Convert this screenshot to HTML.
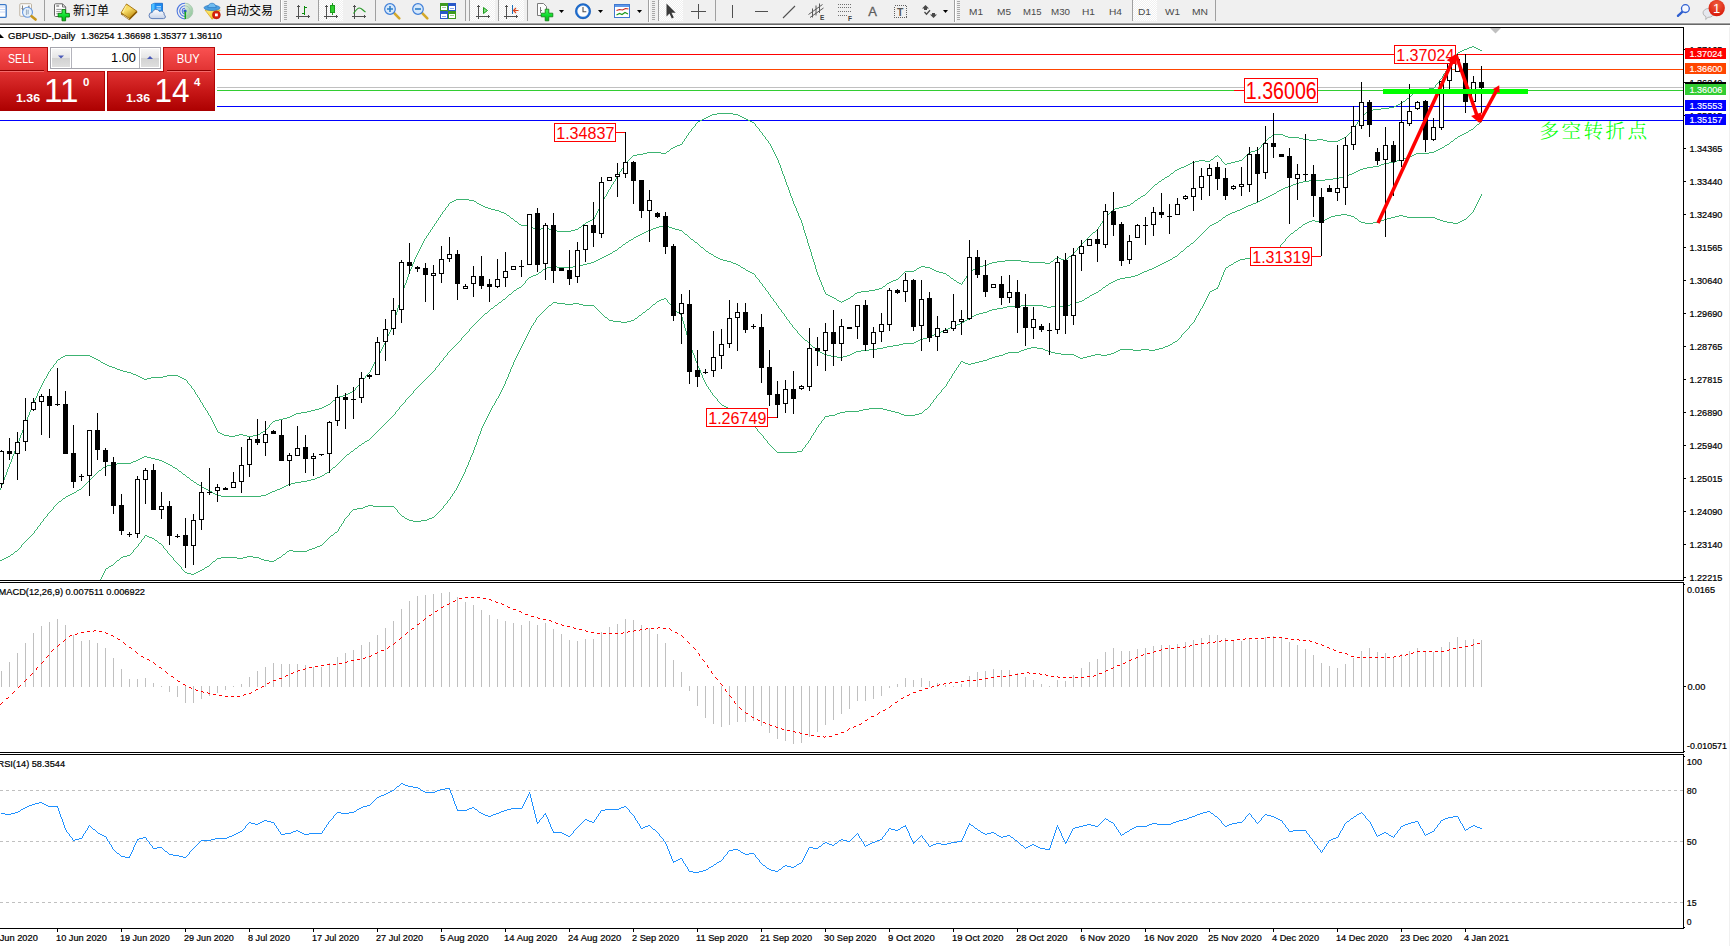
<!DOCTYPE html>
<html lang="zh"><head><meta charset="utf-8"><title>GBPUSD-,Daily</title>
<style>
html,body{margin:0;padding:0;background:#fff;}
body{width:1730px;height:946px;position:relative;overflow:hidden;font-family:"Liberation Sans","Noto Sans CJK SC",sans-serif;}
svg{display:block}
svg text{white-space:pre}
</style></head><body>
<svg width="1730" height="946" viewBox="0 0 1730 946" style="position:absolute;left:0;top:0" shape-rendering="crispEdges" font-family='"Liberation Sans", sans-serif'>
<defs><clipPath id="cm"><rect x="0" y="28" width="1683" height="552"/></clipPath><clipPath id="c2"><rect x="0" y="583" width="1683" height="169"/></clipPath><clipPath id="c3"><rect x="0" y="755" width="1683" height="173"/></clipPath><linearGradient id="gs1" x1="0" y1="0" x2="0" y2="1"><stop offset="0" stop-color="#f65252"/><stop offset="1" stop-color="#d82626"/></linearGradient><linearGradient id="gs2" x1="0" y1="0" x2="0" y2="1"><stop offset="0" stop-color="#dc2c2c"/><stop offset="0.55" stop-color="#c81818"/><stop offset="1" stop-color="#ac0000"/></linearGradient><linearGradient id="gbtn" x1="0" y1="0" x2="0" y2="1"><stop offset="0" stop-color="#f4f4f4"/><stop offset="0.5" stop-color="#e2e2e2"/><stop offset="0.5" stop-color="#cfcfcf"/><stop offset="1" stop-color="#dcdcdc"/></linearGradient></defs>
<g clip-path="url(#cm)">
<rect x="0" y="87" width="1683" height="1" fill="#c0c0c0"/>
<rect x="0" y="54" width="1683" height="1" fill="#ff0000"/>
<rect x="0" y="69" width="1683" height="1" fill="#ff4500"/>
<rect x="0" y="90" width="1683" height="1" fill="#32cd32"/>
<rect x="0" y="106" width="1683" height="1" fill="#0000ff"/>
<rect x="0" y="120" width="1683" height="1" fill="#0000ff"/>
<path d="M58 359h2v1h-2zM61 357h2v1h-2zM63 356h2v1h-2zM65 355h25v1h-25zM90 356h2v1h-2zM92 357h2v1h-2zM94 358h2v1h-2zM96 359h2v1h-2zM98 360h2v1h-2zM101 362h2v1h-2zM103 363h2v1h-2zM105 364h2v1h-2zM107 365h2v1h-2zM109 366h3v1h-3zM112 367h3v1h-3zM115 368h2v1h-2zM117 369h3v1h-3zM120 370h3v1h-3zM123 371h4v1h-4zM127 372h4v1h-4zM131 373h2v1h-2zM133 374h3v1h-3zM136 375h2v1h-2zM138 376h2v1h-2zM140 377h2v1h-2zM142 378h2v1h-2zM144 379h3v1h-3zM147 378h4v1h-4zM151 377h12v1h-12zM163 376h4v1h-4zM167 375h11v1h-11zM178 376h2v1h-2zM180 377h2v1h-2zM182 378h2v1h-2zM184 379h2v1h-2zM218 432h2v1h-2zM220 433h2v1h-2zM222 434h2v1h-2zM224 435h5v1h-5zM229 436h6v1h-6zM235 435h4v1h-4zM239 434h4v1h-4zM243 435h4v1h-4zM247 436h6v1h-6zM253 435h5v1h-5zM258 434h2v1h-2zM261 432h2v1h-2zM263 431h2v1h-2zM273 421h2v1h-2zM275 420h4v1h-4zM279 419h4v1h-4zM283 418h4v1h-4zM287 417h3v1h-3zM290 416h2v1h-2zM292 415h2v1h-2zM294 414h2v1h-2zM296 413h5v1h-5zM301 412h6v1h-6zM307 411h4v1h-4zM311 410h4v1h-4zM315 409h4v1h-4zM319 408h3v1h-3zM322 407h2v1h-2zM324 406h2v1h-2zM326 405h2v1h-2zM328 404h2v1h-2zM333 400h2v1h-2zM337 397h2v1h-2zM339 396h4v1h-4zM343 395h3v1h-3zM346 394h2v1h-2zM348 393h2v1h-2zM350 392h2v1h-2zM352 391h2v1h-2zM450 202h2v1h-2zM452 201h2v1h-2zM454 200h2v1h-2zM456 199h13v1h-13zM469 200h5v1h-5zM474 201h2v1h-2zM477 203h2v1h-2zM479 204h2v1h-2zM481 205h2v1h-2zM483 206h2v1h-2zM485 207h3v1h-3zM488 208h3v1h-3zM491 209h4v1h-4zM495 210h4v1h-4zM499 211h2v1h-2zM501 212h3v1h-3zM504 213h2v1h-2zM507 215h2v1h-2zM511 218h2v1h-2zM515 221h2v1h-2zM519 224h2v1h-2zM521 225h9v1h-9zM530 226h2v1h-2zM533 228h2v1h-2zM535 229h2v1h-2zM537 230h2v1h-2zM539 229h2v1h-2zM541 228h3v1h-3zM544 227h3v1h-3zM547 228h2v1h-2zM549 229h3v1h-3zM552 230h5v1h-5zM557 231h14v1h-14zM571 230h4v1h-4zM575 229h3v1h-3zM579 227h2v1h-2zM583 224h2v1h-2zM586 222h2v1h-2zM588 221h2v1h-2zM590 220h2v1h-2zM592 219h2v1h-2zM633 155h4v1h-4zM637 154h6v1h-6zM643 153h4v1h-4zM647 152h14v1h-14zM661 153h5v1h-5zM667 151h2v1h-2zM671 148h2v1h-2zM673 147h2v1h-2zM675 146h2v1h-2zM677 145h3v1h-3zM680 144h2v1h-2zM698 121h2v1h-2zM700 120h2v1h-2zM702 119h2v1h-2zM704 118h2v1h-2zM706 117h2v1h-2zM708 116h2v1h-2zM710 115h2v1h-2zM712 114h5v1h-5zM717 113h16v1h-16zM733 114h5v1h-5zM738 115h2v1h-2zM740 116h2v1h-2zM742 117h2v1h-2zM744 118h2v1h-2zM746 119h2v1h-2zM748 120h2v1h-2zM750 121h2v1h-2zM752 122h2v1h-2zM826 294h2v1h-2zM828 295h2v1h-2zM830 296h2v1h-2zM832 297h2v1h-2zM834 298h2v1h-2zM837 300h2v1h-2zM839 301h2v1h-2zM842 301h2v1h-2zM844 300h2v1h-2zM846 299h2v1h-2zM848 298h2v1h-2zM851 296h2v1h-2zM855 293h2v1h-2zM857 292h4v1h-4zM861 291h8v1h-8zM869 290h6v1h-6zM875 289h4v1h-4zM879 288h3v1h-3zM883 286h2v1h-2zM887 283h2v1h-2zM889 282h2v1h-2zM891 281h2v1h-2zM893 280h3v1h-3zM896 279h2v1h-2zM905 271h9v1h-9zM914 270h2v1h-2zM917 268h2v1h-2zM919 267h2v1h-2zM921 266h4v1h-4zM925 267h5v1h-5zM930 268h2v1h-2zM932 269h2v1h-2zM934 270h2v1h-2zM936 271h3v1h-3zM939 272h4v1h-4zM943 273h3v1h-3zM947 275h2v1h-2zM951 278h2v1h-2zM954 280h2v1h-2zM957 282h2v1h-2zM959 283h2v1h-2zM970 271h2v1h-2zM973 269h2v1h-2zM975 268h2v1h-2zM977 267h2v1h-2zM979 266h4v1h-4zM983 265h4v1h-4zM987 264h2v1h-2zM989 263h3v1h-3zM992 262h5v1h-5zM997 261h8v1h-8zM1005 260h16v1h-16zM1021 261h8v1h-8zM1029 262h16v1h-16zM1045 263h5v1h-5zM1051 261h2v1h-2zM1055 258h2v1h-2zM1057 257h2v1h-2zM1059 258h2v1h-2zM1061 259h3v1h-3zM1064 260h2v1h-2zM1069 256h2v1h-2zM1093 232h2v1h-2zM1113 209h2v1h-2zM1115 208h4v1h-4zM1119 207h4v1h-4zM1123 206h4v1h-4zM1127 205h3v1h-3zM1131 203h2v1h-2zM1135 200h2v1h-2zM1138 198h2v1h-2zM1141 196h2v1h-2zM1143 195h2v1h-2zM1155 184h2v1h-2zM1159 181h2v1h-2zM1162 179h2v1h-2zM1165 177h2v1h-2zM1167 176h2v1h-2zM1171 173h2v1h-2zM1175 170h2v1h-2zM1177 169h2v1h-2zM1179 168h2v1h-2zM1181 167h3v1h-3zM1184 166h2v1h-2zM1186 165h2v1h-2zM1188 164h2v1h-2zM1190 163h2v1h-2zM1192 162h3v1h-3zM1195 161h4v1h-4zM1199 160h6v1h-6zM1205 161h5v1h-5zM1211 159h2v1h-2zM1215 156h2v1h-2zM1225 164h2v1h-2zM1227 163h4v1h-4zM1231 162h4v1h-4zM1235 161h4v1h-4zM1239 160h3v1h-3zM1249 152h2v1h-2zM1251 151h4v1h-4zM1255 150h3v1h-3zM1269 137h2v1h-2zM1273 134h10v1h-10zM1283 135h2v1h-2zM1285 136h3v1h-3zM1288 137h11v1h-11zM1299 138h4v1h-4zM1303 139h6v1h-6zM1309 140h8v1h-8zM1317 139h6v1h-6zM1323 140h4v1h-4zM1327 141h11v1h-11zM1338 140h2v1h-2zM1340 139h2v1h-2zM1342 138h2v1h-2zM1344 137h2v1h-2zM1363 114h2v1h-2zM1367 111h2v1h-2zM1369 110h4v1h-4zM1373 109h8v1h-8zM1381 108h8v1h-8zM1389 107h5v1h-5zM1394 106h2v1h-2zM1396 105h2v1h-2zM1398 104h2v1h-2zM1400 103h2v1h-2zM1403 101h2v1h-2zM1407 98h2v1h-2zM1417 89h12v1h-12zM1429 88h5v1h-5zM1458 52h2v1h-2zM1460 51h2v1h-2zM1462 50h2v1h-2zM1464 49h3v1h-3zM1467 48h2v1h-2zM1469 47h3v1h-3zM1472 46h2v1h-2zM1474 47h2v1h-2zM1476 48h2v1h-2zM1478 49h2v1h-2zM1480 50h2v1h-2zM0 488h1v2h-1zM1 485h1v3h-1zM2 483h1v2h-1zM3 480h1v3h-1zM4 477h1v3h-1zM5 475h1v2h-1zM6 472h1v3h-1zM7 469h1v3h-1zM8 467h1v2h-1zM9 464h1v3h-1zM10 462h1v2h-1zM11 459h1v3h-1zM12 456h1v3h-1zM13 454h1v2h-1zM14 451h1v3h-1zM15 448h1v3h-1zM16 446h1v2h-1zM17 443h1v3h-1zM18 441h1v2h-1zM19 438h1v3h-1zM20 435h1v3h-1zM21 433h1v2h-1zM22 430h1v3h-1zM23 427h1v3h-1zM24 425h1v2h-1zM25 422h1v3h-1zM26 420h1v2h-1zM27 417h1v3h-1zM28 415h1v2h-1zM29 412h1v3h-1zM30 410h1v2h-1zM31 407h1v3h-1zM32 405h1v2h-1zM33 402h1v3h-1zM34 400h1v2h-1zM35 398h1v2h-1zM36 396h1v2h-1zM37 393h1v3h-1zM38 391h1v2h-1zM39 389h1v2h-1zM40 387h1v2h-1zM41 385h1v2h-1zM42 383h1v2h-1zM43 381h1v2h-1zM44 379h1v2h-1zM45 378h1v1h-1zM46 376h1v2h-1zM47 374h1v2h-1zM48 372h1v2h-1zM49 371h1v1h-1zM50 369h1v2h-1zM51 368h1v1h-1zM52 367h1v1h-1zM53 365h1v2h-1zM54 364h1v1h-1zM55 363h1v1h-1zM56 361h1v2h-1zM57 360h1v1h-1zM60 358h1v1h-1zM100 361h1v1h-1zM186 380h1v1h-1zM187 381h1v2h-1zM188 383h1v1h-1zM189 384h1v1h-1zM190 385h1v1h-1zM191 386h1v2h-1zM192 388h1v1h-1zM193 389h1v1h-1zM194 390h1v2h-1zM195 392h1v2h-1zM196 394h1v1h-1zM197 395h1v2h-1zM198 397h1v1h-1zM199 398h1v2h-1zM200 400h1v2h-1zM201 402h1v1h-1zM202 403h1v2h-1zM203 405h1v2h-1zM204 407h1v1h-1zM205 408h1v2h-1zM206 410h1v1h-1zM207 411h1v2h-1zM208 413h1v2h-1zM209 415h1v1h-1zM210 416h1v2h-1zM211 418h1v2h-1zM212 420h1v2h-1zM213 422h1v2h-1zM214 424h1v2h-1zM215 426h1v2h-1zM216 428h1v2h-1zM217 430h1v2h-1zM260 433h1v1h-1zM265 430h1v1h-1zM266 429h1v1h-1zM267 428h1v1h-1zM268 427h1v1h-1zM269 425h1v2h-1zM270 424h1v1h-1zM271 423h1v1h-1zM272 422h1v1h-1zM330 403h1v1h-1zM331 402h1v1h-1zM332 401h1v1h-1zM335 399h1v1h-1zM336 398h1v1h-1zM354 390h1v1h-1zM355 388h1v2h-1zM356 387h1v1h-1zM357 386h1v1h-1zM358 385h1v1h-1zM359 383h1v2h-1zM360 382h1v1h-1zM361 381h1v1h-1zM362 380h1v1h-1zM363 379h1v1h-1zM364 378h1v1h-1zM365 376h1v2h-1zM366 375h1v1h-1zM367 374h1v1h-1zM368 373h1v1h-1zM369 372h1v1h-1zM370 370h1v2h-1zM371 368h1v2h-1zM372 366h1v2h-1zM373 364h1v2h-1zM374 362h1v2h-1zM375 360h1v2h-1zM376 358h1v2h-1zM377 357h1v1h-1zM378 355h1v2h-1zM379 353h1v2h-1zM380 351h1v2h-1zM381 349h1v2h-1zM382 347h1v2h-1zM383 345h1v2h-1zM384 343h1v2h-1zM385 340h1v3h-1zM386 338h1v2h-1zM387 336h1v2h-1zM388 334h1v2h-1zM389 332h1v2h-1zM390 330h1v2h-1zM391 328h1v2h-1zM392 326h1v2h-1zM393 323h1v3h-1zM394 319h1v4h-1zM395 315h1v4h-1zM396 312h1v3h-1zM397 308h1v4h-1zM398 305h1v3h-1zM399 301h1v4h-1zM400 297h1v4h-1zM401 294h1v3h-1zM402 291h1v3h-1zM403 288h1v3h-1zM404 285h1v3h-1zM405 283h1v2h-1zM406 280h1v3h-1zM407 277h1v3h-1zM408 274h1v3h-1zM409 271h1v3h-1zM410 269h1v2h-1zM411 267h1v2h-1zM412 264h1v3h-1zM413 262h1v2h-1zM414 259h1v3h-1zM415 257h1v2h-1zM416 255h1v2h-1zM417 253h1v2h-1zM418 251h1v2h-1zM419 249h1v2h-1zM420 247h1v2h-1zM421 245h1v2h-1zM422 243h1v2h-1zM423 241h1v2h-1zM424 239h1v2h-1zM425 238h1v1h-1zM426 236h1v2h-1zM427 235h1v1h-1zM428 233h1v2h-1zM429 232h1v1h-1zM430 230h1v2h-1zM431 229h1v1h-1zM432 227h1v2h-1zM433 226h1v1h-1zM434 224h1v2h-1zM435 223h1v1h-1zM436 221h1v2h-1zM437 220h1v1h-1zM438 218h1v2h-1zM439 217h1v1h-1zM440 215h1v2h-1zM441 214h1v1h-1zM442 212h1v2h-1zM443 211h1v1h-1zM444 210h1v1h-1zM445 208h1v2h-1zM446 207h1v1h-1zM447 206h1v1h-1zM448 204h1v2h-1zM449 203h1v1h-1zM476 202h1v1h-1zM506 214h1v1h-1zM509 216h1v1h-1zM510 217h1v1h-1zM513 219h1v1h-1zM514 220h1v1h-1zM517 222h1v1h-1zM518 223h1v1h-1zM532 227h1v1h-1zM578 228h1v1h-1zM581 226h1v1h-1zM582 225h1v1h-1zM585 223h1v1h-1zM594 217h1v2h-1zM595 215h1v2h-1zM596 213h1v2h-1zM597 211h1v2h-1zM598 209h1v2h-1zM599 207h1v2h-1zM600 205h1v2h-1zM601 203h1v2h-1zM602 201h1v2h-1zM603 199h1v2h-1zM604 197h1v2h-1zM605 196h1v1h-1zM606 194h1v2h-1zM607 192h1v2h-1zM608 190h1v2h-1zM609 189h1v1h-1zM610 187h1v2h-1zM611 185h1v2h-1zM612 184h1v1h-1zM613 182h1v2h-1zM614 181h1v1h-1zM615 179h1v2h-1zM616 177h1v2h-1zM617 176h1v1h-1zM618 174h1v2h-1zM619 172h1v2h-1zM620 171h1v1h-1zM621 169h1v2h-1zM622 168h1v1h-1zM623 166h1v2h-1zM624 164h1v2h-1zM625 163h1v1h-1zM626 162h1v1h-1zM627 161h1v1h-1zM628 160h1v1h-1zM629 159h1v1h-1zM630 158h1v1h-1zM631 157h1v1h-1zM632 156h1v1h-1zM666 152h1v1h-1zM669 150h1v1h-1zM670 149h1v1h-1zM682 142h1v2h-1zM683 141h1v1h-1zM684 139h1v2h-1zM685 138h1v1h-1zM686 136h1v2h-1zM687 135h1v1h-1zM688 133h1v2h-1zM689 132h1v1h-1zM690 131h1v1h-1zM691 129h1v2h-1zM692 128h1v1h-1zM693 127h1v1h-1zM694 126h1v1h-1zM695 124h1v2h-1zM696 123h1v1h-1zM697 122h1v1h-1zM754 123h1v1h-1zM755 124h1v2h-1zM756 126h1v1h-1zM757 127h1v1h-1zM758 128h1v1h-1zM759 129h1v2h-1zM760 131h1v1h-1zM761 132h1v1h-1zM762 133h1v2h-1zM763 135h1v1h-1zM764 136h1v1h-1zM765 137h1v2h-1zM766 139h1v1h-1zM767 140h1v1h-1zM768 141h1v2h-1zM769 143h1v1h-1zM770 144h1v2h-1zM771 146h1v2h-1zM772 148h1v2h-1zM773 150h1v2h-1zM774 152h1v2h-1zM775 154h1v2h-1zM776 156h1v2h-1zM777 158h1v2h-1zM778 160h1v3h-1zM779 163h1v2h-1zM780 165h1v3h-1zM781 168h1v3h-1zM782 171h1v3h-1zM783 174h1v2h-1zM784 176h1v3h-1zM785 179h1v3h-1zM786 182h1v3h-1zM787 185h1v2h-1zM788 187h1v3h-1zM789 190h1v3h-1zM790 193h1v3h-1zM791 196h1v2h-1zM792 198h1v3h-1zM793 201h1v3h-1zM794 204h1v2h-1zM795 206h1v2h-1zM796 208h1v3h-1zM797 211h1v2h-1zM798 213h1v3h-1zM799 216h1v2h-1zM800 218h1v2h-1zM801 220h1v3h-1zM802 223h1v3h-1zM803 226h1v4h-1zM804 230h1v3h-1zM805 233h1v3h-1zM806 236h1v3h-1zM807 239h1v4h-1zM808 243h1v3h-1zM809 246h1v3h-1zM810 249h1v3h-1zM811 252h1v4h-1zM812 256h1v3h-1zM813 259h1v3h-1zM814 262h1v3h-1zM815 265h1v4h-1zM816 269h1v3h-1zM817 272h1v3h-1zM818 275h1v2h-1zM819 277h1v3h-1zM820 280h1v2h-1zM821 282h1v3h-1zM822 285h1v2h-1zM823 287h1v3h-1zM824 290h1v2h-1zM825 292h1v2h-1zM836 299h1v1h-1zM841 302h1v1h-1zM850 297h1v1h-1zM853 295h1v1h-1zM854 294h1v1h-1zM882 287h1v1h-1zM885 285h1v1h-1zM886 284h1v1h-1zM898 278h1v1h-1zM899 277h1v1h-1zM900 276h1v1h-1zM901 275h1v1h-1zM902 274h1v1h-1zM903 273h1v1h-1zM904 272h1v1h-1zM916 269h1v1h-1zM946 274h1v1h-1zM949 276h1v1h-1zM950 277h1v1h-1zM953 279h1v1h-1zM956 281h1v1h-1zM961 284h1v1h-1zM962 282h1v2h-1zM963 281h1v1h-1zM964 279h1v2h-1zM965 278h1v1h-1zM966 276h1v2h-1zM967 275h1v1h-1zM968 273h1v2h-1zM969 272h1v1h-1zM972 270h1v1h-1zM1050 262h1v1h-1zM1053 260h1v1h-1zM1054 259h1v1h-1zM1066 259h1v1h-1zM1067 258h1v1h-1zM1068 257h1v1h-1zM1071 255h1v1h-1zM1072 254h1v1h-1zM1073 253h1v1h-1zM1074 252h1v1h-1zM1075 251h1v1h-1zM1076 250h1v1h-1zM1077 248h1v2h-1zM1078 247h1v1h-1zM1079 246h1v1h-1zM1080 245h1v1h-1zM1081 244h1v1h-1zM1082 243h1v1h-1zM1083 242h1v1h-1zM1084 241h1v1h-1zM1085 240h1v1h-1zM1086 239h1v1h-1zM1087 238h1v1h-1zM1088 237h1v1h-1zM1089 236h1v1h-1zM1090 235h1v1h-1zM1091 234h1v1h-1zM1092 233h1v1h-1zM1095 231h1v1h-1zM1096 230h1v1h-1zM1097 229h1v1h-1zM1098 227h1v2h-1zM1099 226h1v1h-1zM1100 224h1v2h-1zM1101 223h1v1h-1zM1102 221h1v2h-1zM1103 220h1v1h-1zM1104 218h1v2h-1zM1105 217h1v1h-1zM1106 216h1v1h-1zM1107 215h1v1h-1zM1108 214h1v1h-1zM1109 213h1v1h-1zM1110 212h1v1h-1zM1111 211h1v1h-1zM1112 210h1v1h-1zM1130 204h1v1h-1zM1133 202h1v1h-1zM1134 201h1v1h-1zM1137 199h1v1h-1zM1140 197h1v1h-1zM1145 194h1v1h-1zM1146 193h1v1h-1zM1147 192h1v1h-1zM1148 191h1v1h-1zM1149 190h1v1h-1zM1150 189h1v1h-1zM1151 188h1v1h-1zM1152 187h1v1h-1zM1153 186h1v1h-1zM1154 185h1v1h-1zM1157 183h1v1h-1zM1158 182h1v1h-1zM1161 180h1v1h-1zM1164 178h1v1h-1zM1169 175h1v1h-1zM1170 174h1v1h-1zM1173 172h1v1h-1zM1174 171h1v1h-1zM1210 160h1v1h-1zM1213 158h1v1h-1zM1214 157h1v1h-1zM1217 155h1v1h-1zM1218 156h1v1h-1zM1219 157h1v1h-1zM1220 158h1v1h-1zM1221 159h1v2h-1zM1222 161h1v1h-1zM1223 162h1v1h-1zM1224 163h1v1h-1zM1242 159h1v1h-1zM1243 158h1v1h-1zM1244 157h1v1h-1zM1245 156h1v1h-1zM1246 155h1v1h-1zM1247 154h1v1h-1zM1248 153h1v1h-1zM1258 149h1v1h-1zM1259 148h1v1h-1zM1260 147h1v1h-1zM1261 145h1v2h-1zM1262 144h1v1h-1zM1263 143h1v1h-1zM1264 142h1v1h-1zM1265 141h1v1h-1zM1266 140h1v1h-1zM1267 139h1v1h-1zM1268 138h1v1h-1zM1271 136h1v1h-1zM1272 135h1v1h-1zM1346 136h1v1h-1zM1347 135h1v1h-1zM1348 134h1v1h-1zM1349 133h1v1h-1zM1350 132h1v1h-1zM1351 131h1v1h-1zM1352 130h1v1h-1zM1353 129h1v1h-1zM1354 127h1v2h-1zM1355 125h1v2h-1zM1356 124h1v1h-1zM1357 122h1v2h-1zM1358 121h1v1h-1zM1359 119h1v2h-1zM1360 117h1v2h-1zM1361 116h1v1h-1zM1362 115h1v1h-1zM1365 113h1v1h-1zM1366 112h1v1h-1zM1402 102h1v1h-1zM1405 100h1v1h-1zM1406 99h1v1h-1zM1409 97h1v1h-1zM1410 96h1v1h-1zM1411 95h1v1h-1zM1412 94h1v1h-1zM1413 93h1v1h-1zM1414 92h1v1h-1zM1415 91h1v1h-1zM1416 90h1v1h-1zM1434 87h1v1h-1zM1435 85h1v2h-1zM1436 84h1v1h-1zM1437 83h1v1h-1zM1438 82h1v1h-1zM1439 80h1v2h-1zM1440 79h1v1h-1zM1441 78h1v1h-1zM1442 76h1v2h-1zM1443 74h1v2h-1zM1444 73h1v1h-1zM1445 71h1v2h-1zM1446 70h1v1h-1zM1447 68h1v2h-1zM1448 66h1v2h-1zM1449 65h1v1h-1zM1450 63h1v2h-1zM1451 62h1v1h-1zM1452 60h1v2h-1zM1453 59h1v1h-1zM1454 57h1v2h-1zM1455 56h1v1h-1zM1456 54h1v2h-1zM1457 53h1v1h-1z" fill="#3cb371" shape-rendering="crispEdges"/>
<path d="M0 560h2v1h-2zM2 559h2v1h-2zM4 558h2v1h-2zM6 557h2v1h-2zM8 556h2v1h-2zM11 554h2v1h-2zM15 551h2v1h-2zM59 501h2v1h-2zM63 498h2v1h-2zM66 496h2v1h-2zM68 495h2v1h-2zM70 494h2v1h-2zM72 493h2v1h-2zM74 492h2v1h-2zM77 490h2v1h-2zM79 489h2v1h-2zM99 470h2v1h-2zM103 467h2v1h-2zM105 466h2v1h-2zM107 465h4v1h-4zM111 464h6v1h-6zM117 463h14v1h-14zM131 462h2v1h-2zM133 461h3v1h-3zM136 460h2v1h-2zM138 459h2v1h-2zM140 458h2v1h-2zM142 457h2v1h-2zM144 456h3v1h-3zM147 457h4v1h-4zM151 458h4v1h-4zM155 459h4v1h-4zM159 460h3v1h-3zM162 461h2v1h-2zM164 462h2v1h-2zM166 463h2v1h-2zM168 464h2v1h-2zM170 465h2v1h-2zM173 467h2v1h-2zM175 468h2v1h-2zM179 471h2v1h-2zM183 474h2v1h-2zM187 477h2v1h-2zM191 480h2v1h-2zM194 482h2v1h-2zM197 484h2v1h-2zM199 485h2v1h-2zM202 487h2v1h-2zM204 488h2v1h-2zM206 489h2v1h-2zM208 490h2v1h-2zM210 491h2v1h-2zM213 493h2v1h-2zM215 494h2v1h-2zM217 495h4v1h-4zM221 496h40v1h-40zM261 495h5v1h-5zM266 494h2v1h-2zM268 493h2v1h-2zM270 492h2v1h-2zM272 491h3v1h-3zM275 490h2v1h-2zM277 489h3v1h-3zM280 488h2v1h-2zM282 487h2v1h-2zM284 486h2v1h-2zM286 485h2v1h-2zM288 484h3v1h-3zM291 483h4v1h-4zM295 482h6v1h-6zM301 481h6v1h-6zM307 480h4v1h-4zM311 479h4v1h-4zM315 478h2v1h-2zM317 477h3v1h-3zM320 476h2v1h-2zM322 475h2v1h-2zM325 473h2v1h-2zM327 472h2v1h-2zM333 467h2v1h-2zM347 454h2v1h-2zM351 451h2v1h-2zM355 448h2v1h-2zM359 445h2v1h-2zM362 443h2v1h-2zM365 441h2v1h-2zM367 440h2v1h-2zM485 313h2v1h-2zM491 308h2v1h-2zM495 305h2v1h-2zM499 302h2v1h-2zM503 299h2v1h-2zM509 294h2v1h-2zM514 290h2v1h-2zM517 288h2v1h-2zM519 287h2v1h-2zM529 277h2v1h-2zM531 276h2v1h-2zM533 275h3v1h-3zM536 274h2v1h-2zM539 272h2v1h-2zM543 269h2v1h-2zM545 268h2v1h-2zM547 267h4v1h-4zM551 266h6v1h-6zM557 267h16v1h-16zM573 266h6v1h-6zM579 265h4v1h-4zM583 264h4v1h-4zM587 263h4v1h-4zM591 262h3v1h-3zM594 261h2v1h-2zM596 260h2v1h-2zM598 259h2v1h-2zM600 258h2v1h-2zM602 257h2v1h-2zM604 256h2v1h-2zM606 255h2v1h-2zM608 254h2v1h-2zM610 253h2v1h-2zM613 251h2v1h-2zM615 250h2v1h-2zM619 247h2v1h-2zM623 244h2v1h-2zM626 242h2v1h-2zM629 240h2v1h-2zM631 239h2v1h-2zM634 237h2v1h-2zM636 236h2v1h-2zM638 235h2v1h-2zM640 234h2v1h-2zM642 233h2v1h-2zM644 232h2v1h-2zM646 231h2v1h-2zM648 230h3v1h-3zM651 229h2v1h-2zM653 228h3v1h-3zM656 227h3v1h-3zM659 226h4v1h-4zM663 225h4v1h-4zM667 226h2v1h-2zM669 227h3v1h-3zM672 228h3v1h-3zM675 229h4v1h-4zM679 230h3v1h-3zM685 234h2v1h-2zM691 239h2v1h-2zM695 242h2v1h-2zM701 247h2v1h-2zM706 251h2v1h-2zM709 253h2v1h-2zM711 254h2v1h-2zM714 256h2v1h-2zM716 257h2v1h-2zM718 258h2v1h-2zM720 259h3v1h-3zM723 260h4v1h-4zM727 261h4v1h-4zM731 262h2v1h-2zM733 263h3v1h-3zM736 264h2v1h-2zM738 265h2v1h-2zM741 267h2v1h-2zM743 268h2v1h-2zM746 270h2v1h-2zM748 271h2v1h-2zM750 272h2v1h-2zM752 273h2v1h-2zM805 340h2v1h-2zM813 347h2v1h-2zM818 351h2v1h-2zM820 352h2v1h-2zM822 353h2v1h-2zM824 354h3v1h-3zM827 355h4v1h-4zM831 356h6v1h-6zM837 357h6v1h-6zM843 356h4v1h-4zM847 355h3v1h-3zM850 354h2v1h-2zM852 353h2v1h-2zM854 352h2v1h-2zM856 351h5v1h-5zM861 350h8v1h-8zM869 349h8v1h-8zM877 348h6v1h-6zM883 347h4v1h-4zM887 346h6v1h-6zM893 345h6v1h-6zM899 344h4v1h-4zM903 343h11v1h-11zM914 342h2v1h-2zM916 341h2v1h-2zM918 340h2v1h-2zM920 339h3v1h-3zM923 338h4v1h-4zM927 337h3v1h-3zM930 336h2v1h-2zM932 335h2v1h-2zM934 334h2v1h-2zM936 333h3v1h-3zM939 332h2v1h-2zM941 331h3v1h-3zM944 330h2v1h-2zM946 329h2v1h-2zM948 328h2v1h-2zM950 327h2v1h-2zM952 326h3v1h-3zM955 325h2v1h-2zM957 324h3v1h-3zM960 323h2v1h-2zM962 322h2v1h-2zM965 320h2v1h-2zM967 319h2v1h-2zM970 317h2v1h-2zM972 316h2v1h-2zM974 315h2v1h-2zM976 314h3v1h-3zM979 313h4v1h-4zM983 312h4v1h-4zM987 311h2v1h-2zM989 310h3v1h-3zM992 309h5v1h-5zM997 308h6v1h-6zM1003 307h4v1h-4zM1007 306h14v1h-14zM1021 305h22v1h-22zM1043 306h4v1h-4zM1047 307h4v1h-4zM1051 306h4v1h-4zM1055 305h4v1h-4zM1059 306h4v1h-4zM1063 307h3v1h-3zM1066 306h2v1h-2zM1068 305h2v1h-2zM1070 304h2v1h-2zM1072 303h3v1h-3zM1075 302h4v1h-4zM1079 301h3v1h-3zM1082 300h2v1h-2zM1085 298h2v1h-2zM1087 297h2v1h-2zM1090 295h2v1h-2zM1092 294h2v1h-2zM1094 293h2v1h-2zM1096 292h2v1h-2zM1099 290h2v1h-2zM1103 287h2v1h-2zM1106 285h2v1h-2zM1109 283h2v1h-2zM1111 282h2v1h-2zM1113 281h2v1h-2zM1115 280h2v1h-2zM1117 279h3v1h-3zM1120 278h5v1h-5zM1125 277h6v1h-6zM1131 276h4v1h-4zM1135 275h3v1h-3zM1138 274h2v1h-2zM1140 273h2v1h-2zM1142 272h2v1h-2zM1144 271h3v1h-3zM1147 270h2v1h-2zM1149 269h3v1h-3zM1152 268h2v1h-2zM1154 267h2v1h-2zM1156 266h2v1h-2zM1158 265h2v1h-2zM1160 264h2v1h-2zM1162 263h2v1h-2zM1164 262h2v1h-2zM1166 261h2v1h-2zM1168 260h2v1h-2zM1170 259h2v1h-2zM1173 257h2v1h-2zM1175 256h2v1h-2zM1181 251h2v1h-2zM1187 246h2v1h-2zM1191 243h2v1h-2zM1210 225h2v1h-2zM1212 224h2v1h-2zM1214 223h2v1h-2zM1216 222h2v1h-2zM1219 220h2v1h-2zM1223 217h2v1h-2zM1226 215h2v1h-2zM1228 214h2v1h-2zM1230 213h2v1h-2zM1232 212h3v1h-3zM1235 211h2v1h-2zM1237 210h3v1h-3zM1240 209h2v1h-2zM1242 208h2v1h-2zM1244 207h2v1h-2zM1246 206h2v1h-2zM1248 205h3v1h-3zM1251 204h2v1h-2zM1253 203h3v1h-3zM1256 202h2v1h-2zM1258 201h2v1h-2zM1260 200h2v1h-2zM1262 199h2v1h-2zM1264 198h2v1h-2zM1266 197h2v1h-2zM1268 196h2v1h-2zM1270 195h2v1h-2zM1272 194h2v1h-2zM1274 193h2v1h-2zM1277 191h2v1h-2zM1279 190h2v1h-2zM1281 189h2v1h-2zM1283 188h2v1h-2zM1285 187h3v1h-3zM1288 186h3v1h-3zM1291 185h2v1h-2zM1293 184h3v1h-3zM1296 183h3v1h-3zM1299 182h4v1h-4zM1303 181h6v1h-6zM1309 180h16v1h-16zM1325 179h8v1h-8zM1333 178h6v1h-6zM1339 177h4v1h-4zM1343 176h4v1h-4zM1347 175h2v1h-2zM1349 174h3v1h-3zM1352 173h2v1h-2zM1354 172h2v1h-2zM1356 171h2v1h-2zM1358 170h2v1h-2zM1360 169h3v1h-3zM1363 168h4v1h-4zM1367 167h6v1h-6zM1373 166h6v1h-6zM1379 165h2v1h-2zM1381 164h3v1h-3zM1384 163h5v1h-5zM1389 162h6v1h-6zM1395 161h2v1h-2zM1397 160h3v1h-3zM1400 159h3v1h-3zM1403 158h4v1h-4zM1407 157h3v1h-3zM1410 156h2v1h-2zM1412 155h2v1h-2zM1414 154h2v1h-2zM1416 153h13v1h-13zM1429 152h5v1h-5zM1434 151h2v1h-2zM1436 150h2v1h-2zM1438 149h2v1h-2zM1440 148h2v1h-2zM1442 147h2v1h-2zM1445 145h2v1h-2zM1447 144h2v1h-2zM1451 141h2v1h-2zM1455 138h2v1h-2zM1458 136h2v1h-2zM1460 135h2v1h-2zM1462 134h2v1h-2zM1464 133h2v1h-2zM1466 132h2v1h-2zM1469 130h2v1h-2zM1471 129h2v1h-2zM1477 124h2v1h-2zM10 555h1v1h-1zM13 553h1v1h-1zM14 552h1v1h-1zM17 550h1v1h-1zM18 549h1v1h-1zM19 548h1v1h-1zM20 547h1v1h-1zM21 545h1v2h-1zM22 544h1v1h-1zM23 543h1v1h-1zM24 542h1v1h-1zM25 541h1v1h-1zM26 540h1v1h-1zM27 539h1v1h-1zM28 538h1v1h-1zM29 537h1v1h-1zM30 536h1v1h-1zM31 535h1v1h-1zM32 534h1v1h-1zM33 533h1v1h-1zM34 531h1v2h-1zM35 530h1v1h-1zM36 529h1v1h-1zM37 527h1v2h-1zM38 526h1v1h-1zM39 525h1v1h-1zM40 523h1v2h-1zM41 522h1v1h-1zM42 521h1v1h-1zM43 519h1v2h-1zM44 518h1v1h-1zM45 517h1v1h-1zM46 516h1v1h-1zM47 514h1v2h-1zM48 513h1v1h-1zM49 512h1v1h-1zM50 511h1v1h-1zM51 510h1v1h-1zM52 509h1v1h-1zM53 507h1v2h-1zM54 506h1v1h-1zM55 505h1v1h-1zM56 504h1v1h-1zM57 503h1v1h-1zM58 502h1v1h-1zM61 500h1v1h-1zM62 499h1v1h-1zM65 497h1v1h-1zM76 491h1v1h-1zM81 488h1v1h-1zM82 487h1v1h-1zM83 486h1v1h-1zM84 485h1v1h-1zM85 484h1v1h-1zM86 483h1v1h-1zM87 482h1v1h-1zM88 481h1v1h-1zM89 480h1v1h-1zM90 479h1v1h-1zM91 478h1v1h-1zM92 477h1v1h-1zM93 476h1v1h-1zM94 475h1v1h-1zM95 474h1v1h-1zM96 473h1v1h-1zM97 472h1v1h-1zM98 471h1v1h-1zM101 469h1v1h-1zM102 468h1v1h-1zM172 466h1v1h-1zM177 469h1v1h-1zM178 470h1v1h-1zM181 472h1v1h-1zM182 473h1v1h-1zM185 475h1v1h-1zM186 476h1v1h-1zM189 478h1v1h-1zM190 479h1v1h-1zM193 481h1v1h-1zM196 483h1v1h-1zM201 486h1v1h-1zM212 492h1v1h-1zM324 474h1v1h-1zM329 471h1v1h-1zM330 470h1v1h-1zM331 469h1v1h-1zM332 468h1v1h-1zM335 466h1v1h-1zM336 465h1v1h-1zM337 464h1v1h-1zM338 463h1v1h-1zM339 462h1v1h-1zM340 461h1v1h-1zM341 460h1v1h-1zM342 459h1v1h-1zM343 458h1v1h-1zM344 457h1v1h-1zM345 456h1v1h-1zM346 455h1v1h-1zM349 453h1v1h-1zM350 452h1v1h-1zM353 450h1v1h-1zM354 449h1v1h-1zM357 447h1v1h-1zM358 446h1v1h-1zM361 444h1v1h-1zM364 442h1v1h-1zM369 439h1v1h-1zM370 438h1v1h-1zM371 437h1v1h-1zM372 436h1v1h-1zM373 435h1v1h-1zM374 434h1v1h-1zM375 433h1v1h-1zM376 432h1v1h-1zM377 431h1v1h-1zM378 430h1v1h-1zM379 429h1v1h-1zM380 428h1v1h-1zM381 427h1v1h-1zM382 426h1v1h-1zM383 425h1v1h-1zM384 424h1v1h-1zM385 423h1v1h-1zM386 422h1v1h-1zM387 421h1v1h-1zM388 420h1v1h-1zM389 419h1v1h-1zM390 418h1v1h-1zM391 417h1v1h-1zM392 416h1v1h-1zM393 415h1v1h-1zM394 414h1v1h-1zM395 412h1v2h-1zM396 411h1v1h-1zM397 410h1v1h-1zM398 409h1v1h-1zM399 407h1v2h-1zM400 406h1v1h-1zM401 405h1v1h-1zM402 404h1v1h-1zM403 403h1v1h-1zM404 402h1v1h-1zM405 400h1v2h-1zM406 399h1v1h-1zM407 398h1v1h-1zM408 397h1v1h-1zM409 396h1v1h-1zM410 395h1v1h-1zM411 394h1v1h-1zM412 393h1v1h-1zM413 391h1v2h-1zM414 390h1v1h-1zM415 389h1v1h-1zM416 388h1v1h-1zM417 387h1v1h-1zM418 386h1v1h-1zM419 385h1v1h-1zM420 384h1v1h-1zM421 383h1v1h-1zM422 382h1v1h-1zM423 381h1v1h-1zM424 380h1v1h-1zM425 379h1v1h-1zM426 378h1v1h-1zM427 377h1v1h-1zM428 376h1v1h-1zM429 375h1v1h-1zM430 374h1v1h-1zM431 373h1v1h-1zM432 372h1v1h-1zM433 371h1v1h-1zM434 370h1v1h-1zM435 368h1v2h-1zM436 367h1v1h-1zM437 366h1v1h-1zM438 365h1v1h-1zM439 363h1v2h-1zM440 362h1v1h-1zM441 361h1v1h-1zM442 360h1v1h-1zM443 358h1v2h-1zM444 357h1v1h-1zM445 356h1v1h-1zM446 355h1v1h-1zM447 353h1v2h-1zM448 352h1v1h-1zM449 351h1v1h-1zM450 350h1v1h-1zM451 349h1v1h-1zM452 348h1v1h-1zM453 347h1v1h-1zM454 346h1v1h-1zM455 345h1v1h-1zM456 344h1v1h-1zM457 343h1v1h-1zM458 342h1v1h-1zM459 341h1v1h-1zM460 340h1v1h-1zM461 338h1v2h-1zM462 337h1v1h-1zM463 336h1v1h-1zM464 335h1v1h-1zM465 334h1v1h-1zM466 333h1v1h-1zM467 332h1v1h-1zM468 331h1v1h-1zM469 329h1v2h-1zM470 328h1v1h-1zM471 327h1v1h-1zM472 326h1v1h-1zM473 325h1v1h-1zM474 324h1v1h-1zM475 323h1v1h-1zM476 322h1v1h-1zM477 321h1v1h-1zM478 320h1v1h-1zM479 319h1v1h-1zM480 318h1v1h-1zM481 317h1v1h-1zM482 316h1v1h-1zM483 315h1v1h-1zM484 314h1v1h-1zM487 312h1v1h-1zM488 311h1v1h-1zM489 310h1v1h-1zM490 309h1v1h-1zM493 307h1v1h-1zM494 306h1v1h-1zM497 304h1v1h-1zM498 303h1v1h-1zM501 301h1v1h-1zM502 300h1v1h-1zM505 298h1v1h-1zM506 297h1v1h-1zM507 296h1v1h-1zM508 295h1v1h-1zM511 293h1v1h-1zM512 292h1v1h-1zM513 291h1v1h-1zM516 289h1v1h-1zM521 286h1v1h-1zM522 285h1v1h-1zM523 284h1v1h-1zM524 283h1v1h-1zM525 281h1v2h-1zM526 280h1v1h-1zM527 279h1v1h-1zM528 278h1v1h-1zM538 273h1v1h-1zM541 271h1v1h-1zM542 270h1v1h-1zM612 252h1v1h-1zM617 249h1v1h-1zM618 248h1v1h-1zM621 246h1v1h-1zM622 245h1v1h-1zM625 243h1v1h-1zM628 241h1v1h-1zM633 238h1v1h-1zM682 231h1v1h-1zM683 232h1v1h-1zM684 233h1v1h-1zM687 235h1v1h-1zM688 236h1v1h-1zM689 237h1v1h-1zM690 238h1v1h-1zM693 240h1v1h-1zM694 241h1v1h-1zM697 243h1v1h-1zM698 244h1v1h-1zM699 245h1v1h-1zM700 246h1v1h-1zM703 248h1v1h-1zM704 249h1v1h-1zM705 250h1v1h-1zM708 252h1v1h-1zM713 255h1v1h-1zM740 266h1v1h-1zM745 269h1v1h-1zM754 274h1v1h-1zM755 275h1v2h-1zM756 277h1v1h-1zM757 278h1v1h-1zM758 279h1v1h-1zM759 280h1v2h-1zM760 282h1v1h-1zM761 283h1v1h-1zM762 284h1v2h-1zM763 286h1v1h-1zM764 287h1v1h-1zM765 288h1v2h-1zM766 290h1v1h-1zM767 291h1v1h-1zM768 292h1v2h-1zM769 294h1v1h-1zM770 295h1v2h-1zM771 297h1v1h-1zM772 298h1v1h-1zM773 299h1v2h-1zM774 301h1v1h-1zM775 302h1v1h-1zM776 303h1v2h-1zM777 305h1v1h-1zM778 306h1v2h-1zM779 308h1v1h-1zM780 309h1v1h-1zM781 310h1v2h-1zM782 312h1v1h-1zM783 313h1v1h-1zM784 314h1v2h-1zM785 316h1v1h-1zM786 317h1v2h-1zM787 319h1v1h-1zM788 320h1v1h-1zM789 321h1v2h-1zM790 323h1v1h-1zM791 324h1v1h-1zM792 325h1v2h-1zM793 327h1v1h-1zM794 328h1v1h-1zM795 329h1v1h-1zM796 330h1v1h-1zM797 331h1v2h-1zM798 333h1v1h-1zM799 334h1v1h-1zM800 335h1v1h-1zM801 336h1v1h-1zM802 337h1v1h-1zM803 338h1v1h-1zM804 339h1v1h-1zM807 341h1v1h-1zM808 342h1v1h-1zM809 343h1v1h-1zM810 344h1v1h-1zM811 345h1v1h-1zM812 346h1v1h-1zM815 348h1v1h-1zM816 349h1v1h-1zM817 350h1v1h-1zM964 321h1v1h-1zM969 318h1v1h-1zM1084 299h1v1h-1zM1089 296h1v1h-1zM1098 291h1v1h-1zM1101 289h1v1h-1zM1102 288h1v1h-1zM1105 286h1v1h-1zM1108 284h1v1h-1zM1172 258h1v1h-1zM1177 255h1v1h-1zM1178 254h1v1h-1zM1179 253h1v1h-1zM1180 252h1v1h-1zM1183 250h1v1h-1zM1184 249h1v1h-1zM1185 248h1v1h-1zM1186 247h1v1h-1zM1189 245h1v1h-1zM1190 244h1v1h-1zM1193 242h1v1h-1zM1194 241h1v1h-1zM1195 240h1v1h-1zM1196 239h1v1h-1zM1197 238h1v1h-1zM1198 237h1v1h-1zM1199 236h1v1h-1zM1200 235h1v1h-1zM1201 234h1v1h-1zM1202 233h1v1h-1zM1203 232h1v1h-1zM1204 231h1v1h-1zM1205 230h1v1h-1zM1206 229h1v1h-1zM1207 228h1v1h-1zM1208 227h1v1h-1zM1209 226h1v1h-1zM1218 221h1v1h-1zM1221 219h1v1h-1zM1222 218h1v1h-1zM1225 216h1v1h-1zM1276 192h1v1h-1zM1444 146h1v1h-1zM1449 143h1v1h-1zM1450 142h1v1h-1zM1453 140h1v1h-1zM1454 139h1v1h-1zM1457 137h1v1h-1zM1468 131h1v1h-1zM1473 128h1v1h-1zM1474 127h1v1h-1zM1475 126h1v1h-1zM1476 125h1v1h-1zM1479 123h1v1h-1zM1480 122h1v1h-1zM1481 121h1v1h-1z" fill="#3cb371" shape-rendering="crispEdges"/>
<path d="M106 568h2v1h-2zM109 566h2v1h-2zM111 565h2v1h-2zM117 560h2v1h-2zM121 557h2v1h-2zM123 556h4v1h-4zM127 555h3v1h-3zM145 535h2v1h-2zM147 536h2v1h-2zM149 537h3v1h-3zM152 538h2v1h-2zM155 540h2v1h-2zM159 543h2v1h-2zM185 572h2v1h-2zM187 573h4v1h-4zM191 574h3v1h-3zM194 573h2v1h-2zM196 572h2v1h-2zM198 571h2v1h-2zM200 570h2v1h-2zM202 569h2v1h-2zM205 567h2v1h-2zM207 566h2v1h-2zM213 561h2v1h-2zM217 558h4v1h-4zM221 557h16v1h-16zM237 558h6v1h-6zM243 557h4v1h-4zM247 556h6v1h-6zM253 557h6v1h-6zM259 558h2v1h-2zM261 559h3v1h-3zM264 560h5v1h-5zM269 561h5v1h-5zM274 560h2v1h-2zM277 558h2v1h-2zM279 557h2v1h-2zM283 554h2v1h-2zM287 551h2v1h-2zM289 550h4v1h-4zM293 551h14v1h-14zM307 550h2v1h-2zM309 549h3v1h-3zM312 548h3v1h-3zM315 547h2v1h-2zM317 546h3v1h-3zM320 545h2v1h-2zM331 535h2v1h-2zM335 532h2v1h-2zM353 509h4v1h-4zM357 508h6v1h-6zM363 507h2v1h-2zM365 506h3v1h-3zM368 505h5v1h-5zM373 506h21v1h-21zM402 516h2v1h-2zM405 518h2v1h-2zM407 519h2v1h-2zM409 520h4v1h-4zM413 521h8v1h-8zM421 520h6v1h-6zM427 519h2v1h-2zM429 518h3v1h-3zM432 517h2v1h-2zM549 305h2v1h-2zM553 302h4v1h-4zM557 303h8v1h-8zM565 304h8v1h-8zM573 303h6v1h-6zM579 304h4v1h-4zM583 305h11v1h-11zM605 317h2v1h-2zM609 320h4v1h-4zM613 321h8v1h-8zM621 322h6v1h-6zM627 321h4v1h-4zM631 320h3v1h-3zM635 318h2v1h-2zM639 315h2v1h-2zM643 312h2v1h-2zM647 309h2v1h-2zM653 304h2v1h-2zM657 301h2v1h-2zM659 300h2v1h-2zM661 299h3v1h-3zM664 298h2v1h-2zM677 312h2v1h-2zM722 405h2v1h-2zM724 406h2v1h-2zM726 407h2v1h-2zM728 408h2v1h-2zM730 409h2v1h-2zM733 411h2v1h-2zM735 412h2v1h-2zM741 417h2v1h-2zM746 421h2v1h-2zM749 423h2v1h-2zM751 424h2v1h-2zM777 452h20v1h-20zM797 451h5v1h-5zM825 416h4v1h-4zM829 415h6v1h-6zM835 414h2v1h-2zM837 413h3v1h-3zM840 412h5v1h-5zM845 411h14v1h-14zM859 410h4v1h-4zM863 409h6v1h-6zM869 408h14v1h-14zM883 409h4v1h-4zM887 410h4v1h-4zM891 411h4v1h-4zM895 412h4v1h-4zM899 413h2v1h-2zM901 414h3v1h-3zM904 415h11v1h-11zM915 414h4v1h-4zM919 413h3v1h-3zM925 409h2v1h-2zM961 361h2v1h-2zM963 362h2v1h-2zM965 363h3v1h-3zM968 364h3v1h-3zM971 363h4v1h-4zM975 362h4v1h-4zM979 361h4v1h-4zM983 360h4v1h-4zM987 359h2v1h-2zM989 358h3v1h-3zM992 357h3v1h-3zM995 356h4v1h-4zM999 355h4v1h-4zM1003 354h2v1h-2zM1005 353h3v1h-3zM1008 352h11v1h-11zM1019 351h2v1h-2zM1021 350h3v1h-3zM1024 349h3v1h-3zM1027 348h4v1h-4zM1031 347h6v1h-6zM1037 348h6v1h-6zM1043 349h2v1h-2zM1045 350h3v1h-3zM1048 351h3v1h-3zM1051 352h4v1h-4zM1055 353h6v1h-6zM1061 354h13v1h-13zM1074 355h2v1h-2zM1076 356h2v1h-2zM1078 357h2v1h-2zM1080 358h3v1h-3zM1083 357h4v1h-4zM1087 356h4v1h-4zM1091 355h4v1h-4zM1095 354h6v1h-6zM1101 355h6v1h-6zM1107 354h4v1h-4zM1111 353h3v1h-3zM1114 352h2v1h-2zM1116 351h2v1h-2zM1118 350h2v1h-2zM1120 349h13v1h-13zM1133 350h8v1h-8zM1141 349h8v1h-8zM1149 350h6v1h-6zM1155 349h4v1h-4zM1159 348h4v1h-4zM1163 347h2v1h-2zM1165 346h3v1h-3zM1168 345h2v1h-2zM1170 344h2v1h-2zM1173 342h2v1h-2zM1175 341h2v1h-2zM1210 291h2v1h-2zM1212 290h2v1h-2zM1214 289h2v1h-2zM1216 288h2v1h-2zM1226 267h2v1h-2zM1229 265h2v1h-2zM1231 264h2v1h-2zM1234 262h2v1h-2zM1236 261h2v1h-2zM1238 260h2v1h-2zM1240 259h5v1h-5zM1245 258h5v1h-5zM1250 257h2v1h-2zM1253 255h2v1h-2zM1255 254h2v1h-2zM1257 253h2v1h-2zM1259 254h2v1h-2zM1261 255h3v1h-3zM1264 256h5v1h-5zM1269 255h5v1h-5zM1291 233h2v1h-2zM1295 230h2v1h-2zM1299 227h2v1h-2zM1303 224h2v1h-2zM1305 223h2v1h-2zM1307 222h2v1h-2zM1309 221h3v1h-3zM1312 220h3v1h-3zM1315 221h4v1h-4zM1319 222h3v1h-3zM1322 221h2v1h-2zM1325 219h2v1h-2zM1327 218h2v1h-2zM1329 217h2v1h-2zM1331 216h4v1h-4zM1335 215h6v1h-6zM1341 214h6v1h-6zM1347 215h4v1h-4zM1351 216h3v1h-3zM1355 218h2v1h-2zM1359 221h2v1h-2zM1361 222h4v1h-4zM1365 223h8v1h-8zM1373 222h6v1h-6zM1379 221h2v1h-2zM1381 220h3v1h-3zM1384 219h3v1h-3zM1387 218h4v1h-4zM1391 217h4v1h-4zM1395 216h4v1h-4zM1399 215h4v1h-4zM1403 216h4v1h-4zM1407 217h28v1h-28zM1435 218h2v1h-2zM1437 219h3v1h-3zM1440 220h3v1h-3zM1443 221h4v1h-4zM1447 222h6v1h-6zM1453 223h5v1h-5zM1458 222h2v1h-2zM1460 221h2v1h-2zM1462 220h2v1h-2zM1464 219h2v1h-2zM100 579h1v1h-1zM101 577h1v2h-1zM102 575h1v2h-1zM103 573h1v2h-1zM104 571h1v2h-1zM105 569h1v2h-1zM108 567h1v1h-1zM113 564h1v1h-1zM114 563h1v1h-1zM115 562h1v1h-1zM116 561h1v1h-1zM119 559h1v1h-1zM120 558h1v1h-1zM130 554h1v1h-1zM131 553h1v1h-1zM132 552h1v1h-1zM133 550h1v2h-1zM134 549h1v1h-1zM135 548h1v1h-1zM136 547h1v1h-1zM137 546h1v1h-1zM138 544h1v2h-1zM139 543h1v1h-1zM140 542h1v1h-1zM141 540h1v2h-1zM142 539h1v1h-1zM143 538h1v1h-1zM144 536h1v2h-1zM154 539h1v1h-1zM157 541h1v1h-1zM158 542h1v1h-1zM161 544h1v1h-1zM162 545h1v1h-1zM163 546h1v2h-1zM164 548h1v1h-1zM165 549h1v1h-1zM166 550h1v1h-1zM167 551h1v2h-1zM168 553h1v1h-1zM169 554h1v1h-1zM170 555h1v1h-1zM171 556h1v1h-1zM172 557h1v1h-1zM173 558h1v2h-1zM174 560h1v1h-1zM175 561h1v1h-1zM176 562h1v1h-1zM177 563h1v1h-1zM178 564h1v1h-1zM179 565h1v1h-1zM180 566h1v1h-1zM181 567h1v2h-1zM182 569h1v1h-1zM183 570h1v1h-1zM184 571h1v1h-1zM204 568h1v1h-1zM209 565h1v1h-1zM210 564h1v1h-1zM211 563h1v1h-1zM212 562h1v1h-1zM215 560h1v1h-1zM216 559h1v1h-1zM276 559h1v1h-1zM281 556h1v1h-1zM282 555h1v1h-1zM285 553h1v1h-1zM286 552h1v1h-1zM322 544h1v1h-1zM323 543h1v1h-1zM324 542h1v1h-1zM325 541h1v1h-1zM326 540h1v1h-1zM327 539h1v1h-1zM328 538h1v1h-1zM329 537h1v1h-1zM330 536h1v1h-1zM333 534h1v1h-1zM334 533h1v1h-1zM337 531h1v1h-1zM338 529h1v2h-1zM339 527h1v2h-1zM340 526h1v1h-1zM341 524h1v2h-1zM342 523h1v1h-1zM343 521h1v2h-1zM344 519h1v2h-1zM345 518h1v1h-1zM346 517h1v1h-1zM347 516h1v1h-1zM348 515h1v1h-1zM349 513h1v2h-1zM350 512h1v1h-1zM351 511h1v1h-1zM352 510h1v1h-1zM394 507h1v1h-1zM395 508h1v1h-1zM396 509h1v1h-1zM397 510h1v2h-1zM398 512h1v1h-1zM399 513h1v1h-1zM400 514h1v1h-1zM401 515h1v1h-1zM404 517h1v1h-1zM434 516h1v1h-1zM435 515h1v1h-1zM436 514h1v1h-1zM437 513h1v1h-1zM438 512h1v1h-1zM439 511h1v1h-1zM440 510h1v1h-1zM441 509h1v1h-1zM442 508h1v1h-1zM443 506h1v2h-1zM444 505h1v1h-1zM445 504h1v1h-1zM446 503h1v1h-1zM447 501h1v2h-1zM448 500h1v1h-1zM449 499h1v1h-1zM450 497h1v2h-1zM451 496h1v1h-1zM452 494h1v2h-1zM453 493h1v1h-1zM454 491h1v2h-1zM455 490h1v1h-1zM456 488h1v2h-1zM457 486h1v2h-1zM458 484h1v2h-1zM459 482h1v2h-1zM460 480h1v2h-1zM461 478h1v2h-1zM462 476h1v2h-1zM463 474h1v2h-1zM464 472h1v2h-1zM465 469h1v3h-1zM466 467h1v2h-1zM467 465h1v2h-1zM468 462h1v3h-1zM469 460h1v2h-1zM470 457h1v3h-1zM471 455h1v2h-1zM472 453h1v2h-1zM473 450h1v3h-1zM474 447h1v3h-1zM475 445h1v2h-1zM476 442h1v3h-1zM477 439h1v3h-1zM478 436h1v3h-1zM479 434h1v2h-1zM480 431h1v3h-1zM481 428h1v3h-1zM482 426h1v2h-1zM483 424h1v2h-1zM484 422h1v2h-1zM485 420h1v2h-1zM486 418h1v2h-1zM487 416h1v2h-1zM488 414h1v2h-1zM489 412h1v2h-1zM490 410h1v2h-1zM491 408h1v2h-1zM492 406h1v2h-1zM493 405h1v1h-1zM494 403h1v2h-1zM495 401h1v2h-1zM496 399h1v2h-1zM497 398h1v1h-1zM498 396h1v2h-1zM499 394h1v2h-1zM500 392h1v2h-1zM501 390h1v2h-1zM502 388h1v2h-1zM503 386h1v2h-1zM504 384h1v2h-1zM505 381h1v3h-1zM506 379h1v2h-1zM507 377h1v2h-1zM508 374h1v3h-1zM509 372h1v2h-1zM510 369h1v3h-1zM511 367h1v2h-1zM512 365h1v2h-1zM513 362h1v3h-1zM514 360h1v2h-1zM515 358h1v2h-1zM516 356h1v2h-1zM517 354h1v2h-1zM518 352h1v2h-1zM519 350h1v2h-1zM520 348h1v2h-1zM521 346h1v2h-1zM522 344h1v2h-1zM523 342h1v2h-1zM524 340h1v2h-1zM525 338h1v2h-1zM526 336h1v2h-1zM527 334h1v2h-1zM528 332h1v2h-1zM529 330h1v2h-1zM530 328h1v2h-1zM531 326h1v2h-1zM532 325h1v1h-1zM533 323h1v2h-1zM534 322h1v1h-1zM535 320h1v2h-1zM536 318h1v2h-1zM537 317h1v1h-1zM538 316h1v1h-1zM539 315h1v1h-1zM540 314h1v1h-1zM541 313h1v1h-1zM542 312h1v1h-1zM543 311h1v1h-1zM544 310h1v1h-1zM545 309h1v1h-1zM546 308h1v1h-1zM547 307h1v1h-1zM548 306h1v1h-1zM551 304h1v1h-1zM552 303h1v1h-1zM594 306h1v1h-1zM595 307h1v1h-1zM596 308h1v1h-1zM597 309h1v1h-1zM598 310h1v1h-1zM599 311h1v1h-1zM600 312h1v1h-1zM601 313h1v1h-1zM602 314h1v1h-1zM603 315h1v1h-1zM604 316h1v1h-1zM607 318h1v1h-1zM608 319h1v1h-1zM634 319h1v1h-1zM637 317h1v1h-1zM638 316h1v1h-1zM641 314h1v1h-1zM642 313h1v1h-1zM645 311h1v1h-1zM646 310h1v1h-1zM649 308h1v1h-1zM650 307h1v1h-1zM651 306h1v1h-1zM652 305h1v1h-1zM655 303h1v1h-1zM656 302h1v1h-1zM666 299h1v1h-1zM667 300h1v2h-1zM668 302h1v1h-1zM669 303h1v1h-1zM670 304h1v1h-1zM671 305h1v2h-1zM672 307h1v1h-1zM673 308h1v1h-1zM674 309h1v1h-1zM675 310h1v1h-1zM676 311h1v1h-1zM679 313h1v1h-1zM680 314h1v1h-1zM681 315h1v2h-1zM682 317h1v4h-1zM683 321h1v3h-1zM684 324h1v4h-1zM685 328h1v3h-1zM686 331h1v4h-1zM687 335h1v3h-1zM688 338h1v4h-1zM689 342h1v3h-1zM690 345h1v2h-1zM691 347h1v3h-1zM692 350h1v3h-1zM693 353h1v2h-1zM694 355h1v3h-1zM695 358h1v3h-1zM696 361h1v2h-1zM697 363h1v3h-1zM698 366h1v2h-1zM699 368h1v2h-1zM700 370h1v3h-1zM701 373h1v2h-1zM702 375h1v3h-1zM703 378h1v2h-1zM704 380h1v2h-1zM705 382h1v2h-1zM706 384h1v2h-1zM707 386h1v1h-1zM708 387h1v2h-1zM709 389h1v1h-1zM710 390h1v2h-1zM711 392h1v1h-1zM712 393h1v2h-1zM713 395h1v1h-1zM714 396h1v1h-1zM715 397h1v1h-1zM716 398h1v1h-1zM717 399h1v2h-1zM718 401h1v1h-1zM719 402h1v1h-1zM720 403h1v1h-1zM721 404h1v1h-1zM732 410h1v1h-1zM737 413h1v1h-1zM738 414h1v1h-1zM739 415h1v1h-1zM740 416h1v1h-1zM743 418h1v1h-1zM744 419h1v1h-1zM745 420h1v1h-1zM748 422h1v1h-1zM753 425h1v1h-1zM754 426h1v1h-1zM755 427h1v1h-1zM756 428h1v1h-1zM757 429h1v2h-1zM758 431h1v1h-1zM759 432h1v1h-1zM760 433h1v1h-1zM761 434h1v1h-1zM762 435h1v1h-1zM763 436h1v2h-1zM764 438h1v1h-1zM765 439h1v1h-1zM766 440h1v1h-1zM767 441h1v2h-1zM768 443h1v1h-1zM769 444h1v1h-1zM770 445h1v1h-1zM771 446h1v1h-1zM772 447h1v1h-1zM773 448h1v1h-1zM774 449h1v1h-1zM775 450h1v1h-1zM776 451h1v1h-1zM802 449h1v2h-1zM803 448h1v1h-1zM804 447h1v1h-1zM805 445h1v2h-1zM806 444h1v1h-1zM807 443h1v1h-1zM808 441h1v2h-1zM809 440h1v1h-1zM810 438h1v2h-1zM811 436h1v2h-1zM812 435h1v1h-1zM813 433h1v2h-1zM814 432h1v1h-1zM815 430h1v2h-1zM816 428h1v2h-1zM817 427h1v1h-1zM818 425h1v2h-1zM819 424h1v1h-1zM820 423h1v1h-1zM821 421h1v2h-1zM822 420h1v1h-1zM823 419h1v1h-1zM824 417h1v2h-1zM922 412h1v1h-1zM923 411h1v1h-1zM924 410h1v1h-1zM927 408h1v1h-1zM928 407h1v1h-1zM929 406h1v1h-1zM930 404h1v2h-1zM931 403h1v1h-1zM932 402h1v1h-1zM933 400h1v2h-1zM934 399h1v1h-1zM935 398h1v1h-1zM936 396h1v2h-1zM937 395h1v1h-1zM938 394h1v1h-1zM939 393h1v1h-1zM940 392h1v1h-1zM941 390h1v2h-1zM942 389h1v1h-1zM943 388h1v1h-1zM944 387h1v1h-1zM945 386h1v1h-1zM946 384h1v2h-1zM947 382h1v2h-1zM948 381h1v1h-1zM949 379h1v2h-1zM950 378h1v1h-1zM951 376h1v2h-1zM952 374h1v2h-1zM953 373h1v1h-1zM954 371h1v2h-1zM955 370h1v1h-1zM956 368h1v2h-1zM957 367h1v1h-1zM958 365h1v2h-1zM959 364h1v1h-1zM960 362h1v2h-1zM1172 343h1v1h-1zM1177 340h1v1h-1zM1178 339h1v1h-1zM1179 338h1v1h-1zM1180 337h1v1h-1zM1181 335h1v2h-1zM1182 334h1v1h-1zM1183 333h1v1h-1zM1184 332h1v1h-1zM1185 331h1v1h-1zM1186 330h1v1h-1zM1187 329h1v1h-1zM1188 328h1v1h-1zM1189 326h1v2h-1zM1190 325h1v1h-1zM1191 324h1v1h-1zM1192 323h1v1h-1zM1193 322h1v1h-1zM1194 320h1v2h-1zM1195 318h1v2h-1zM1196 316h1v2h-1zM1197 315h1v1h-1zM1198 313h1v2h-1zM1199 311h1v2h-1zM1200 309h1v2h-1zM1201 308h1v1h-1zM1202 306h1v2h-1zM1203 304h1v2h-1zM1204 302h1v2h-1zM1205 300h1v2h-1zM1206 298h1v2h-1zM1207 296h1v2h-1zM1208 294h1v2h-1zM1209 292h1v2h-1zM1217 287h1v1h-1zM1218 285h1v2h-1zM1219 282h1v3h-1zM1220 280h1v2h-1zM1221 277h1v3h-1zM1222 275h1v2h-1zM1223 272h1v3h-1zM1224 270h1v2h-1zM1225 268h1v2h-1zM1228 266h1v1h-1zM1233 263h1v1h-1zM1252 256h1v1h-1zM1274 253h1v2h-1zM1275 252h1v1h-1zM1276 251h1v1h-1zM1277 249h1v2h-1zM1278 248h1v1h-1zM1279 247h1v1h-1zM1280 245h1v2h-1zM1281 244h1v1h-1zM1282 243h1v1h-1zM1283 242h1v1h-1zM1284 241h1v1h-1zM1285 239h1v2h-1zM1286 238h1v1h-1zM1287 237h1v1h-1zM1288 236h1v1h-1zM1289 235h1v1h-1zM1290 234h1v1h-1zM1293 232h1v1h-1zM1294 231h1v1h-1zM1297 229h1v1h-1zM1298 228h1v1h-1zM1301 226h1v1h-1zM1302 225h1v1h-1zM1324 220h1v1h-1zM1354 217h1v1h-1zM1357 219h1v1h-1zM1358 220h1v1h-1zM1466 218h1v1h-1zM1467 217h1v1h-1zM1468 216h1v1h-1zM1469 215h1v1h-1zM1470 214h1v1h-1zM1471 213h1v1h-1zM1472 212h1v1h-1zM1473 210h1v2h-1zM1474 208h1v2h-1zM1475 206h1v2h-1zM1476 204h1v2h-1zM1477 202h1v2h-1zM1478 200h1v2h-1zM1479 198h1v2h-1zM1480 196h1v2h-1zM1481 194h1v2h-1z" fill="#3cb371" shape-rendering="crispEdges"/>
<rect x="1" y="450" width="1" height="38" fill="#000"/>
<rect x="-1" y="451" width="5" height="33" fill="#000"/>
<rect x="0" y="452" width="3" height="31" fill="#fff"/>
<rect x="9" y="438" width="1" height="22" fill="#000"/>
<rect x="7" y="451" width="5" height="3" fill="#000"/>
<rect x="17" y="432" width="1" height="48" fill="#000"/>
<rect x="15" y="442" width="5" height="12" fill="#000"/>
<rect x="16" y="443" width="3" height="10" fill="#fff"/>
<rect x="25" y="398" width="1" height="53" fill="#000"/>
<rect x="23" y="420" width="5" height="22" fill="#000"/>
<rect x="24" y="421" width="3" height="20" fill="#fff"/>
<rect x="33" y="398" width="1" height="13" fill="#000"/>
<rect x="31" y="402" width="5" height="8" fill="#000"/>
<rect x="32" y="403" width="3" height="6" fill="#fff"/>
<rect x="41" y="394" width="1" height="41" fill="#000"/>
<rect x="39" y="396" width="5" height="6" fill="#000"/>
<rect x="40" y="397" width="3" height="4" fill="#fff"/>
<rect x="49" y="389" width="1" height="49" fill="#000"/>
<rect x="47" y="396" width="5" height="10" fill="#000"/>
<rect x="57" y="368" width="1" height="38" fill="#000"/>
<rect x="55" y="404" width="5" height="1" fill="#000"/>
<rect x="65" y="391" width="1" height="63" fill="#000"/>
<rect x="63" y="404" width="5" height="50" fill="#000"/>
<rect x="73" y="425" width="1" height="63" fill="#000"/>
<rect x="71" y="453" width="5" height="29" fill="#000"/>
<rect x="81" y="474" width="1" height="7" fill="#000"/>
<rect x="79" y="476" width="5" height="1" fill="#000"/>
<rect x="89" y="430" width="1" height="66" fill="#000"/>
<rect x="87" y="430" width="5" height="46" fill="#000"/>
<rect x="88" y="431" width="3" height="44" fill="#fff"/>
<rect x="97" y="413" width="1" height="47" fill="#000"/>
<rect x="95" y="430" width="5" height="20" fill="#000"/>
<rect x="105" y="448" width="1" height="28" fill="#000"/>
<rect x="103" y="450" width="5" height="12" fill="#000"/>
<rect x="113" y="457" width="1" height="57" fill="#000"/>
<rect x="111" y="462" width="5" height="44" fill="#000"/>
<rect x="121" y="494" width="1" height="41" fill="#000"/>
<rect x="119" y="505" width="5" height="26" fill="#000"/>
<rect x="129" y="532" width="1" height="5" fill="#000"/>
<rect x="127" y="534" width="5" height="1" fill="#000"/>
<rect x="137" y="476" width="1" height="62" fill="#000"/>
<rect x="135" y="479" width="5" height="55" fill="#000"/>
<rect x="136" y="480" width="3" height="53" fill="#fff"/>
<rect x="145" y="468" width="1" height="36" fill="#000"/>
<rect x="143" y="470" width="5" height="10" fill="#000"/>
<rect x="144" y="471" width="3" height="8" fill="#fff"/>
<rect x="153" y="464" width="1" height="46" fill="#000"/>
<rect x="151" y="470" width="5" height="40" fill="#000"/>
<rect x="161" y="492" width="1" height="27" fill="#000"/>
<rect x="159" y="506" width="5" height="4" fill="#000"/>
<rect x="160" y="507" width="3" height="2" fill="#fff"/>
<rect x="169" y="501" width="1" height="44" fill="#000"/>
<rect x="167" y="506" width="5" height="30" fill="#000"/>
<rect x="177" y="534" width="1" height="4" fill="#000"/>
<rect x="175" y="536" width="5" height="1" fill="#000"/>
<rect x="185" y="518" width="1" height="50" fill="#000"/>
<rect x="183" y="535" width="5" height="11" fill="#000"/>
<rect x="193" y="514" width="1" height="51" fill="#000"/>
<rect x="191" y="520" width="5" height="26" fill="#000"/>
<rect x="192" y="521" width="3" height="24" fill="#fff"/>
<rect x="201" y="482" width="1" height="48" fill="#000"/>
<rect x="199" y="492" width="5" height="28" fill="#000"/>
<rect x="200" y="493" width="3" height="26" fill="#fff"/>
<rect x="209" y="468" width="1" height="27" fill="#000"/>
<rect x="207" y="492" width="5" height="1" fill="#000"/>
<rect x="217" y="484" width="1" height="18" fill="#000"/>
<rect x="215" y="487" width="5" height="4" fill="#000"/>
<rect x="216" y="488" width="3" height="2" fill="#fff"/>
<rect x="225" y="487" width="1" height="3" fill="#000"/>
<rect x="223" y="488" width="5" height="2" fill="#000"/>
<rect x="233" y="472" width="1" height="16" fill="#000"/>
<rect x="231" y="482" width="5" height="6" fill="#000"/>
<rect x="232" y="483" width="3" height="4" fill="#fff"/>
<rect x="241" y="447" width="1" height="46" fill="#000"/>
<rect x="239" y="465" width="5" height="17" fill="#000"/>
<rect x="240" y="466" width="3" height="15" fill="#fff"/>
<rect x="249" y="437" width="1" height="40" fill="#000"/>
<rect x="247" y="439" width="5" height="26" fill="#000"/>
<rect x="248" y="440" width="3" height="24" fill="#fff"/>
<rect x="257" y="419" width="1" height="26" fill="#000"/>
<rect x="255" y="439" width="5" height="4" fill="#000"/>
<rect x="265" y="421" width="1" height="35" fill="#000"/>
<rect x="263" y="434" width="5" height="9" fill="#000"/>
<rect x="264" y="435" width="3" height="7" fill="#fff"/>
<rect x="273" y="430" width="1" height="4" fill="#000"/>
<rect x="271" y="431" width="5" height="3" fill="#000"/>
<rect x="281" y="420" width="1" height="41" fill="#000"/>
<rect x="279" y="435" width="5" height="26" fill="#000"/>
<rect x="289" y="453" width="1" height="33" fill="#000"/>
<rect x="287" y="455" width="5" height="6" fill="#000"/>
<rect x="288" y="456" width="3" height="4" fill="#fff"/>
<rect x="297" y="426" width="1" height="30" fill="#000"/>
<rect x="295" y="448" width="5" height="8" fill="#000"/>
<rect x="296" y="449" width="3" height="6" fill="#fff"/>
<rect x="305" y="435" width="1" height="38" fill="#000"/>
<rect x="303" y="447" width="5" height="12" fill="#000"/>
<rect x="313" y="453" width="1" height="23" fill="#000"/>
<rect x="311" y="456" width="5" height="3" fill="#000"/>
<rect x="312" y="457" width="3" height="1" fill="#fff"/>
<rect x="321" y="454" width="1" height="2" fill="#000"/>
<rect x="319" y="454" width="5" height="1" fill="#000"/>
<rect x="329" y="421" width="1" height="52" fill="#000"/>
<rect x="327" y="422" width="5" height="32" fill="#000"/>
<rect x="328" y="423" width="3" height="30" fill="#fff"/>
<rect x="337" y="385" width="1" height="41" fill="#000"/>
<rect x="335" y="397" width="5" height="24" fill="#000"/>
<rect x="336" y="398" width="3" height="22" fill="#fff"/>
<rect x="345" y="393" width="1" height="36" fill="#000"/>
<rect x="343" y="397" width="5" height="3" fill="#000"/>
<rect x="353" y="387" width="1" height="32" fill="#000"/>
<rect x="351" y="399" width="5" height="1" fill="#000"/>
<rect x="361" y="372" width="1" height="31" fill="#000"/>
<rect x="359" y="378" width="5" height="20" fill="#000"/>
<rect x="360" y="379" width="3" height="18" fill="#fff"/>
<rect x="369" y="374" width="1" height="5" fill="#000"/>
<rect x="367" y="375" width="5" height="2" fill="#000"/>
<rect x="377" y="337" width="1" height="38" fill="#000"/>
<rect x="375" y="342" width="5" height="33" fill="#000"/>
<rect x="376" y="343" width="3" height="31" fill="#fff"/>
<rect x="385" y="319" width="1" height="42" fill="#000"/>
<rect x="383" y="329" width="5" height="13" fill="#000"/>
<rect x="384" y="330" width="3" height="11" fill="#fff"/>
<rect x="393" y="298" width="1" height="37" fill="#000"/>
<rect x="391" y="310" width="5" height="19" fill="#000"/>
<rect x="392" y="311" width="3" height="17" fill="#fff"/>
<rect x="401" y="260" width="1" height="63" fill="#000"/>
<rect x="399" y="262" width="5" height="48" fill="#000"/>
<rect x="400" y="263" width="3" height="46" fill="#fff"/>
<rect x="409" y="243" width="1" height="31" fill="#000"/>
<rect x="407" y="262" width="5" height="4" fill="#000"/>
<rect x="417" y="266" width="1" height="6" fill="#000"/>
<rect x="415" y="267" width="5" height="2" fill="#000"/>
<rect x="425" y="263" width="1" height="39" fill="#000"/>
<rect x="423" y="268" width="5" height="7" fill="#000"/>
<rect x="433" y="265" width="1" height="45" fill="#000"/>
<rect x="431" y="273" width="5" height="3" fill="#000"/>
<rect x="432" y="274" width="3" height="1" fill="#fff"/>
<rect x="441" y="246" width="1" height="37" fill="#000"/>
<rect x="439" y="259" width="5" height="15" fill="#000"/>
<rect x="440" y="260" width="3" height="13" fill="#fff"/>
<rect x="449" y="237" width="1" height="25" fill="#000"/>
<rect x="447" y="254" width="5" height="5" fill="#000"/>
<rect x="448" y="255" width="3" height="3" fill="#fff"/>
<rect x="457" y="250" width="1" height="50" fill="#000"/>
<rect x="455" y="254" width="5" height="30" fill="#000"/>
<rect x="465" y="284" width="1" height="5" fill="#000"/>
<rect x="463" y="286" width="5" height="3" fill="#000"/>
<rect x="464" y="287" width="3" height="1" fill="#fff"/>
<rect x="473" y="266" width="1" height="31" fill="#000"/>
<rect x="471" y="276" width="5" height="8" fill="#000"/>
<rect x="472" y="277" width="3" height="6" fill="#fff"/>
<rect x="481" y="256" width="1" height="33" fill="#000"/>
<rect x="479" y="276" width="5" height="10" fill="#000"/>
<rect x="489" y="279" width="1" height="23" fill="#000"/>
<rect x="487" y="284" width="5" height="3" fill="#000"/>
<rect x="497" y="259" width="1" height="29" fill="#000"/>
<rect x="495" y="279" width="5" height="8" fill="#000"/>
<rect x="496" y="280" width="3" height="6" fill="#fff"/>
<rect x="505" y="252" width="1" height="35" fill="#000"/>
<rect x="503" y="271" width="5" height="7" fill="#000"/>
<rect x="504" y="272" width="3" height="5" fill="#fff"/>
<rect x="513" y="266" width="1" height="4" fill="#000"/>
<rect x="511" y="266" width="5" height="4" fill="#000"/>
<rect x="512" y="267" width="3" height="2" fill="#fff"/>
<rect x="521" y="260" width="1" height="17" fill="#000"/>
<rect x="519" y="266" width="5" height="1" fill="#000"/>
<rect x="529" y="214" width="1" height="51" fill="#000"/>
<rect x="527" y="214" width="5" height="51" fill="#000"/>
<rect x="528" y="215" width="3" height="49" fill="#fff"/>
<rect x="537" y="208" width="1" height="64" fill="#000"/>
<rect x="535" y="213" width="5" height="52" fill="#000"/>
<rect x="545" y="223" width="1" height="57" fill="#000"/>
<rect x="543" y="225" width="5" height="39" fill="#000"/>
<rect x="544" y="226" width="3" height="37" fill="#fff"/>
<rect x="553" y="213" width="1" height="70" fill="#000"/>
<rect x="551" y="225" width="5" height="46" fill="#000"/>
<rect x="561" y="268" width="1" height="3" fill="#000"/>
<rect x="559" y="268" width="5" height="3" fill="#000"/>
<rect x="569" y="250" width="1" height="35" fill="#000"/>
<rect x="567" y="270" width="5" height="9" fill="#000"/>
<rect x="577" y="242" width="1" height="41" fill="#000"/>
<rect x="575" y="250" width="5" height="27" fill="#000"/>
<rect x="576" y="251" width="3" height="25" fill="#fff"/>
<rect x="585" y="225" width="1" height="37" fill="#000"/>
<rect x="583" y="225" width="5" height="25" fill="#000"/>
<rect x="584" y="226" width="3" height="23" fill="#fff"/>
<rect x="593" y="202" width="1" height="45" fill="#000"/>
<rect x="591" y="225" width="5" height="8" fill="#000"/>
<rect x="601" y="177" width="1" height="61" fill="#000"/>
<rect x="599" y="182" width="5" height="52" fill="#000"/>
<rect x="600" y="183" width="3" height="50" fill="#fff"/>
<rect x="609" y="177" width="1" height="4" fill="#000"/>
<rect x="607" y="177" width="5" height="4" fill="#000"/>
<rect x="608" y="178" width="3" height="2" fill="#fff"/>
<rect x="617" y="163" width="1" height="34" fill="#000"/>
<rect x="615" y="174" width="5" height="3" fill="#000"/>
<rect x="616" y="175" width="3" height="1" fill="#fff"/>
<rect x="625" y="132" width="1" height="46" fill="#000"/>
<rect x="623" y="162" width="5" height="12" fill="#000"/>
<rect x="624" y="163" width="3" height="10" fill="#fff"/>
<rect x="633" y="161" width="1" height="43" fill="#000"/>
<rect x="631" y="162" width="5" height="19" fill="#000"/>
<rect x="641" y="180" width="1" height="38" fill="#000"/>
<rect x="639" y="180" width="5" height="31" fill="#000"/>
<rect x="649" y="190" width="1" height="52" fill="#000"/>
<rect x="647" y="200" width="5" height="11" fill="#000"/>
<rect x="648" y="201" width="3" height="9" fill="#fff"/>
<rect x="657" y="212" width="1" height="6" fill="#000"/>
<rect x="655" y="213" width="5" height="4" fill="#000"/>
<rect x="665" y="212" width="1" height="42" fill="#000"/>
<rect x="663" y="216" width="5" height="31" fill="#000"/>
<rect x="673" y="244" width="1" height="77" fill="#000"/>
<rect x="671" y="246" width="5" height="70" fill="#000"/>
<rect x="681" y="294" width="1" height="50" fill="#000"/>
<rect x="679" y="303" width="5" height="11" fill="#000"/>
<rect x="680" y="304" width="3" height="9" fill="#fff"/>
<rect x="689" y="290" width="1" height="94" fill="#000"/>
<rect x="687" y="304" width="5" height="68" fill="#000"/>
<rect x="697" y="350" width="1" height="37" fill="#000"/>
<rect x="695" y="370" width="5" height="7" fill="#000"/>
<rect x="705" y="369" width="1" height="5" fill="#000"/>
<rect x="703" y="372" width="5" height="1" fill="#000"/>
<rect x="713" y="331" width="1" height="46" fill="#000"/>
<rect x="711" y="357" width="5" height="14" fill="#000"/>
<rect x="712" y="358" width="3" height="12" fill="#fff"/>
<rect x="721" y="329" width="1" height="40" fill="#000"/>
<rect x="719" y="344" width="5" height="12" fill="#000"/>
<rect x="720" y="345" width="3" height="10" fill="#fff"/>
<rect x="729" y="300" width="1" height="48" fill="#000"/>
<rect x="727" y="318" width="5" height="26" fill="#000"/>
<rect x="728" y="319" width="3" height="24" fill="#fff"/>
<rect x="737" y="303" width="1" height="48" fill="#000"/>
<rect x="735" y="312" width="5" height="6" fill="#000"/>
<rect x="736" y="313" width="3" height="4" fill="#fff"/>
<rect x="745" y="303" width="1" height="30" fill="#000"/>
<rect x="743" y="312" width="5" height="18" fill="#000"/>
<rect x="753" y="324" width="1" height="5" fill="#000"/>
<rect x="751" y="326" width="5" height="1" fill="#000"/>
<rect x="761" y="314" width="1" height="69" fill="#000"/>
<rect x="759" y="327" width="5" height="41" fill="#000"/>
<rect x="769" y="350" width="1" height="56" fill="#000"/>
<rect x="767" y="367" width="5" height="28" fill="#000"/>
<rect x="777" y="381" width="1" height="37" fill="#000"/>
<rect x="775" y="394" width="5" height="11" fill="#000"/>
<rect x="785" y="380" width="1" height="33" fill="#000"/>
<rect x="783" y="389" width="5" height="15" fill="#000"/>
<rect x="784" y="390" width="3" height="13" fill="#fff"/>
<rect x="793" y="371" width="1" height="43" fill="#000"/>
<rect x="791" y="389" width="5" height="10" fill="#000"/>
<rect x="801" y="385" width="1" height="5" fill="#000"/>
<rect x="799" y="386" width="5" height="3" fill="#000"/>
<rect x="800" y="387" width="3" height="1" fill="#fff"/>
<rect x="809" y="328" width="1" height="63" fill="#000"/>
<rect x="807" y="348" width="5" height="39" fill="#000"/>
<rect x="808" y="349" width="3" height="37" fill="#fff"/>
<rect x="817" y="337" width="1" height="29" fill="#000"/>
<rect x="815" y="348" width="5" height="3" fill="#000"/>
<rect x="825" y="323" width="1" height="48" fill="#000"/>
<rect x="823" y="332" width="5" height="19" fill="#000"/>
<rect x="824" y="333" width="3" height="17" fill="#fff"/>
<rect x="833" y="310" width="1" height="56" fill="#000"/>
<rect x="831" y="332" width="5" height="12" fill="#000"/>
<rect x="841" y="319" width="1" height="42" fill="#000"/>
<rect x="839" y="326" width="5" height="18" fill="#000"/>
<rect x="840" y="327" width="3" height="16" fill="#fff"/>
<rect x="849" y="327" width="1" height="2" fill="#000"/>
<rect x="847" y="327" width="5" height="2" fill="#000"/>
<rect x="857" y="305" width="1" height="34" fill="#000"/>
<rect x="855" y="305" width="5" height="22" fill="#000"/>
<rect x="856" y="306" width="3" height="20" fill="#fff"/>
<rect x="865" y="300" width="1" height="51" fill="#000"/>
<rect x="863" y="305" width="5" height="40" fill="#000"/>
<rect x="873" y="327" width="1" height="31" fill="#000"/>
<rect x="871" y="332" width="5" height="12" fill="#000"/>
<rect x="872" y="333" width="3" height="10" fill="#fff"/>
<rect x="881" y="313" width="1" height="29" fill="#000"/>
<rect x="879" y="324" width="5" height="8" fill="#000"/>
<rect x="880" y="325" width="3" height="6" fill="#fff"/>
<rect x="889" y="288" width="1" height="43" fill="#000"/>
<rect x="887" y="290" width="5" height="35" fill="#000"/>
<rect x="888" y="291" width="3" height="33" fill="#fff"/>
<rect x="897" y="289" width="1" height="5" fill="#000"/>
<rect x="895" y="290" width="5" height="3" fill="#000"/>
<rect x="905" y="273" width="1" height="29" fill="#000"/>
<rect x="903" y="280" width="5" height="12" fill="#000"/>
<rect x="904" y="281" width="3" height="10" fill="#fff"/>
<rect x="913" y="279" width="1" height="52" fill="#000"/>
<rect x="911" y="280" width="5" height="47" fill="#000"/>
<rect x="921" y="280" width="1" height="71" fill="#000"/>
<rect x="919" y="299" width="5" height="27" fill="#000"/>
<rect x="920" y="300" width="3" height="25" fill="#fff"/>
<rect x="929" y="292" width="1" height="50" fill="#000"/>
<rect x="927" y="298" width="5" height="40" fill="#000"/>
<rect x="937" y="316" width="1" height="35" fill="#000"/>
<rect x="935" y="328" width="5" height="9" fill="#000"/>
<rect x="936" y="329" width="3" height="7" fill="#fff"/>
<rect x="945" y="328" width="1" height="5" fill="#000"/>
<rect x="943" y="330" width="5" height="3" fill="#000"/>
<rect x="944" y="331" width="3" height="1" fill="#fff"/>
<rect x="953" y="294" width="1" height="37" fill="#000"/>
<rect x="951" y="321" width="5" height="8" fill="#000"/>
<rect x="952" y="322" width="3" height="6" fill="#fff"/>
<rect x="961" y="310" width="1" height="25" fill="#000"/>
<rect x="959" y="319" width="5" height="3" fill="#000"/>
<rect x="960" y="320" width="3" height="1" fill="#fff"/>
<rect x="969" y="240" width="1" height="80" fill="#000"/>
<rect x="967" y="257" width="5" height="62" fill="#000"/>
<rect x="968" y="258" width="3" height="60" fill="#fff"/>
<rect x="977" y="250" width="1" height="28" fill="#000"/>
<rect x="975" y="257" width="5" height="18" fill="#000"/>
<rect x="985" y="260" width="1" height="37" fill="#000"/>
<rect x="983" y="275" width="5" height="17" fill="#000"/>
<rect x="993" y="284" width="1" height="4" fill="#000"/>
<rect x="991" y="284" width="5" height="4" fill="#000"/>
<rect x="992" y="285" width="3" height="2" fill="#fff"/>
<rect x="1001" y="276" width="1" height="29" fill="#000"/>
<rect x="999" y="284" width="5" height="14" fill="#000"/>
<rect x="1009" y="275" width="1" height="28" fill="#000"/>
<rect x="1007" y="292" width="5" height="6" fill="#000"/>
<rect x="1008" y="293" width="3" height="4" fill="#fff"/>
<rect x="1017" y="280" width="1" height="53" fill="#000"/>
<rect x="1015" y="292" width="5" height="16" fill="#000"/>
<rect x="1025" y="294" width="1" height="52" fill="#000"/>
<rect x="1023" y="307" width="5" height="21" fill="#000"/>
<rect x="1033" y="307" width="1" height="32" fill="#000"/>
<rect x="1031" y="319" width="5" height="9" fill="#000"/>
<rect x="1032" y="320" width="3" height="7" fill="#fff"/>
<rect x="1041" y="324" width="1" height="8" fill="#000"/>
<rect x="1039" y="326" width="5" height="4" fill="#000"/>
<rect x="1049" y="323" width="1" height="32" fill="#000"/>
<rect x="1047" y="330" width="5" height="1" fill="#000"/>
<rect x="1057" y="256" width="1" height="78" fill="#000"/>
<rect x="1055" y="262" width="5" height="68" fill="#000"/>
<rect x="1056" y="263" width="3" height="66" fill="#fff"/>
<rect x="1065" y="253" width="1" height="81" fill="#000"/>
<rect x="1063" y="260" width="5" height="56" fill="#000"/>
<rect x="1073" y="248" width="1" height="77" fill="#000"/>
<rect x="1071" y="255" width="5" height="61" fill="#000"/>
<rect x="1072" y="256" width="3" height="59" fill="#fff"/>
<rect x="1081" y="240" width="1" height="31" fill="#000"/>
<rect x="1079" y="246" width="5" height="8" fill="#000"/>
<rect x="1080" y="247" width="3" height="6" fill="#fff"/>
<rect x="1089" y="239" width="1" height="7" fill="#000"/>
<rect x="1087" y="239" width="5" height="7" fill="#000"/>
<rect x="1088" y="240" width="3" height="5" fill="#fff"/>
<rect x="1097" y="229" width="1" height="33" fill="#000"/>
<rect x="1095" y="239" width="5" height="5" fill="#000"/>
<rect x="1105" y="204" width="1" height="44" fill="#000"/>
<rect x="1103" y="211" width="5" height="34" fill="#000"/>
<rect x="1104" y="212" width="3" height="32" fill="#fff"/>
<rect x="1113" y="192" width="1" height="44" fill="#000"/>
<rect x="1111" y="211" width="5" height="14" fill="#000"/>
<rect x="1121" y="222" width="1" height="44" fill="#000"/>
<rect x="1119" y="224" width="5" height="37" fill="#000"/>
<rect x="1129" y="235" width="1" height="29" fill="#000"/>
<rect x="1127" y="241" width="5" height="19" fill="#000"/>
<rect x="1128" y="242" width="3" height="17" fill="#fff"/>
<rect x="1137" y="224" width="1" height="14" fill="#000"/>
<rect x="1135" y="225" width="5" height="13" fill="#000"/>
<rect x="1136" y="226" width="3" height="11" fill="#fff"/>
<rect x="1145" y="217" width="1" height="28" fill="#000"/>
<rect x="1143" y="225" width="5" height="1" fill="#000"/>
<rect x="1153" y="207" width="1" height="29" fill="#000"/>
<rect x="1151" y="212" width="5" height="13" fill="#000"/>
<rect x="1152" y="213" width="3" height="11" fill="#fff"/>
<rect x="1161" y="193" width="1" height="25" fill="#000"/>
<rect x="1159" y="212" width="5" height="3" fill="#000"/>
<rect x="1169" y="204" width="1" height="30" fill="#000"/>
<rect x="1167" y="216" width="5" height="1" fill="#000"/>
<rect x="1177" y="198" width="1" height="17" fill="#000"/>
<rect x="1175" y="204" width="5" height="11" fill="#000"/>
<rect x="1176" y="205" width="3" height="9" fill="#fff"/>
<rect x="1185" y="195" width="1" height="5" fill="#000"/>
<rect x="1183" y="196" width="5" height="3" fill="#000"/>
<rect x="1184" y="197" width="3" height="1" fill="#fff"/>
<rect x="1193" y="161" width="1" height="50" fill="#000"/>
<rect x="1191" y="188" width="5" height="9" fill="#000"/>
<rect x="1192" y="189" width="3" height="7" fill="#fff"/>
<rect x="1201" y="168" width="1" height="32" fill="#000"/>
<rect x="1199" y="176" width="5" height="12" fill="#000"/>
<rect x="1200" y="177" width="3" height="10" fill="#fff"/>
<rect x="1209" y="164" width="1" height="32" fill="#000"/>
<rect x="1207" y="168" width="5" height="8" fill="#000"/>
<rect x="1208" y="169" width="3" height="6" fill="#fff"/>
<rect x="1217" y="162" width="1" height="28" fill="#000"/>
<rect x="1215" y="167" width="5" height="12" fill="#000"/>
<rect x="1225" y="168" width="1" height="32" fill="#000"/>
<rect x="1223" y="178" width="5" height="18" fill="#000"/>
<rect x="1233" y="185" width="1" height="5" fill="#000"/>
<rect x="1231" y="186" width="5" height="3" fill="#000"/>
<rect x="1232" y="187" width="3" height="1" fill="#fff"/>
<rect x="1241" y="167" width="1" height="29" fill="#000"/>
<rect x="1239" y="184" width="5" height="3" fill="#000"/>
<rect x="1240" y="185" width="3" height="1" fill="#fff"/>
<rect x="1249" y="147" width="1" height="45" fill="#000"/>
<rect x="1247" y="154" width="5" height="31" fill="#000"/>
<rect x="1248" y="155" width="3" height="29" fill="#fff"/>
<rect x="1257" y="147" width="1" height="55" fill="#000"/>
<rect x="1255" y="154" width="5" height="20" fill="#000"/>
<rect x="1265" y="126" width="1" height="53" fill="#000"/>
<rect x="1263" y="143" width="5" height="30" fill="#000"/>
<rect x="1264" y="144" width="3" height="28" fill="#fff"/>
<rect x="1273" y="113" width="1" height="45" fill="#000"/>
<rect x="1271" y="143" width="5" height="4" fill="#000"/>
<rect x="1281" y="154" width="1" height="3" fill="#000"/>
<rect x="1279" y="154" width="5" height="3" fill="#000"/>
<rect x="1289" y="148" width="1" height="76" fill="#000"/>
<rect x="1287" y="156" width="5" height="22" fill="#000"/>
<rect x="1297" y="164" width="1" height="36" fill="#000"/>
<rect x="1295" y="174" width="5" height="5" fill="#000"/>
<rect x="1296" y="175" width="3" height="3" fill="#fff"/>
<rect x="1305" y="134" width="1" height="47" fill="#000"/>
<rect x="1303" y="174" width="5" height="1" fill="#000"/>
<rect x="1313" y="165" width="1" height="52" fill="#000"/>
<rect x="1311" y="174" width="5" height="22" fill="#000"/>
<rect x="1321" y="188" width="1" height="68" fill="#000"/>
<rect x="1319" y="197" width="5" height="26" fill="#000"/>
<rect x="1329" y="185" width="1" height="7" fill="#000"/>
<rect x="1327" y="188" width="5" height="4" fill="#000"/>
<rect x="1337" y="145" width="1" height="56" fill="#000"/>
<rect x="1335" y="188" width="5" height="5" fill="#000"/>
<rect x="1336" y="189" width="3" height="3" fill="#fff"/>
<rect x="1345" y="137" width="1" height="68" fill="#000"/>
<rect x="1343" y="145" width="5" height="43" fill="#000"/>
<rect x="1344" y="146" width="3" height="41" fill="#fff"/>
<rect x="1353" y="106" width="1" height="44" fill="#000"/>
<rect x="1351" y="126" width="5" height="19" fill="#000"/>
<rect x="1352" y="127" width="3" height="17" fill="#fff"/>
<rect x="1361" y="82" width="1" height="47" fill="#000"/>
<rect x="1359" y="102" width="5" height="24" fill="#000"/>
<rect x="1360" y="103" width="3" height="22" fill="#fff"/>
<rect x="1369" y="100" width="1" height="37" fill="#000"/>
<rect x="1367" y="102" width="5" height="23" fill="#000"/>
<rect x="1377" y="148" width="1" height="17" fill="#000"/>
<rect x="1375" y="152" width="5" height="9" fill="#000"/>
<rect x="1385" y="127" width="1" height="110" fill="#000"/>
<rect x="1383" y="145" width="5" height="15" fill="#000"/>
<rect x="1384" y="146" width="3" height="13" fill="#fff"/>
<rect x="1393" y="141" width="1" height="55" fill="#000"/>
<rect x="1391" y="145" width="5" height="17" fill="#000"/>
<rect x="1401" y="101" width="1" height="66" fill="#000"/>
<rect x="1399" y="122" width="5" height="39" fill="#000"/>
<rect x="1400" y="123" width="3" height="37" fill="#fff"/>
<rect x="1409" y="84" width="1" height="42" fill="#000"/>
<rect x="1407" y="111" width="5" height="13" fill="#000"/>
<rect x="1408" y="112" width="3" height="11" fill="#fff"/>
<rect x="1417" y="101" width="1" height="9" fill="#000"/>
<rect x="1415" y="102" width="5" height="7" fill="#000"/>
<rect x="1416" y="103" width="3" height="5" fill="#fff"/>
<rect x="1425" y="100" width="1" height="52" fill="#000"/>
<rect x="1423" y="101" width="5" height="39" fill="#000"/>
<rect x="1433" y="118" width="1" height="23" fill="#000"/>
<rect x="1431" y="127" width="5" height="13" fill="#000"/>
<rect x="1432" y="128" width="3" height="11" fill="#fff"/>
<rect x="1441" y="81" width="1" height="49" fill="#000"/>
<rect x="1439" y="81" width="5" height="47" fill="#000"/>
<rect x="1440" y="82" width="3" height="45" fill="#fff"/>
<rect x="1449" y="60" width="1" height="29" fill="#000"/>
<rect x="1447" y="63" width="5" height="18" fill="#000"/>
<rect x="1448" y="64" width="3" height="16" fill="#fff"/>
<rect x="1457" y="54" width="1" height="18" fill="#000"/>
<rect x="1455" y="59" width="5" height="13" fill="#000"/>
<rect x="1456" y="60" width="3" height="11" fill="#fff"/>
<rect x="1465" y="54" width="1" height="59" fill="#000"/>
<rect x="1463" y="63" width="5" height="39" fill="#000"/>
<rect x="1473" y="76" width="1" height="26" fill="#000"/>
<rect x="1471" y="82" width="5" height="20" fill="#000"/>
<rect x="1472" y="83" width="3" height="18" fill="#fff"/>
<rect x="1481" y="66" width="1" height="47" fill="#000"/>
<rect x="1479" y="82" width="5" height="6" fill="#000"/>
<rect x="554.5" y="123.5" width="61" height="18" fill="#fff" stroke="#ff0000" stroke-width="1"/>
<text x="585.3" y="138.9" font-size="17.4" fill="#ff0000" text-anchor="middle" textLength="58.2" lengthAdjust="spacingAndGlyphs" shape-rendering="geometricPrecision">1.34837</text>
<rect x="616" y="132" width="9" height="1" fill="#ff0000"/>
<rect x="706.5" y="408.5" width="61" height="18" fill="#fff" stroke="#ff0000" stroke-width="1"/>
<text x="737.3" y="423.9" font-size="17.4" fill="#ff0000" text-anchor="middle" textLength="58.2" lengthAdjust="spacingAndGlyphs" shape-rendering="geometricPrecision">1.26749</text>
<rect x="768" y="417" width="9" height="1" fill="#ff0000"/>
<rect x="1250.5" y="247.5" width="61" height="18" fill="#fff" stroke="#ff0000" stroke-width="1"/>
<text x="1281.3" y="262.9" font-size="17.4" fill="#ff0000" text-anchor="middle" textLength="58.2" lengthAdjust="spacingAndGlyphs" shape-rendering="geometricPrecision">1.31319</text>
<rect x="1312" y="256" width="9" height="1" fill="#ff0000"/>
<rect x="1394.5" y="45.5" width="61" height="18" fill="#fff" stroke="#ff0000" stroke-width="1"/>
<text x="1425.3" y="60.9" font-size="17.4" fill="#ff0000" text-anchor="middle" textLength="58.2" lengthAdjust="spacingAndGlyphs" shape-rendering="geometricPrecision">1.37024</text>
<rect x="1244.5" y="78.5" width="73" height="24" fill="#fff" stroke="#ff0000" stroke-width="1"/>
<text x="1281.3" y="98.8" font-size="23.8" fill="#ff0000" text-anchor="middle" textLength="71" lengthAdjust="spacingAndGlyphs" shape-rendering="geometricPrecision">1.36006</text>
<rect x="1234" y="90" width="10" height="1" fill="#ff0000"/>
<g shape-rendering="geometricPrecision" stroke="#ff0000" fill="#ff0000" stroke-linecap="butt">
<line x1="1378.0" y1="223.0" x2="1452.6" y2="60.8" stroke-width="3.5"/>
<polygon points="1455.7,54.0 1456.8,65.0 1446.6,60.3" stroke="none"/>
<line x1="1456.0" y1="55.0" x2="1477.1" y2="115.9" stroke-width="3.5"/>
<polygon points="1479.5,123.0 1471.1,115.9 1481.7,112.2" stroke="none"/>
</g>
<rect x="1383" y="89" width="145" height="5" fill="#00ff00"/>
<g shape-rendering="geometricPrecision" stroke="#ff0000" fill="#ff0000" stroke-linecap="butt">
<line x1="1479.5" y1="122.0" x2="1497.1" y2="89.3" stroke-width="3.5"/>
<polygon points="1499.2,85.3 1499.6,92.9 1492.7,89.2" stroke="none"/>
</g>
</g>
<text x="1539.6" y="137.6" font-size="19.6" letter-spacing="2.4" fill="#00ff00" font-family='"Liberation Sans","Noto Serif CJK SC",serif' font-weight="300" shape-rendering="geometricPrecision">多空转折点</text>
<polygon points="1490,28 1501,28 1495.5,33.5" fill="#c0c0c0" shape-rendering="geometricPrecision"/>
<g clip-path="url(#c2)">
<rect x="1" y="671" width="1" height="16" fill="#c0c0c0"/>
<rect x="9" y="662" width="1" height="25" fill="#c0c0c0"/>
<rect x="17" y="653" width="1" height="34" fill="#c0c0c0"/>
<rect x="25" y="643" width="1" height="44" fill="#c0c0c0"/>
<rect x="33" y="633" width="1" height="54" fill="#c0c0c0"/>
<rect x="41" y="626" width="1" height="61" fill="#c0c0c0"/>
<rect x="49" y="622" width="1" height="65" fill="#c0c0c0"/>
<rect x="57" y="619" width="1" height="68" fill="#c0c0c0"/>
<rect x="65" y="625" width="1" height="62" fill="#c0c0c0"/>
<rect x="73" y="635" width="1" height="52" fill="#c0c0c0"/>
<rect x="81" y="641" width="1" height="46" fill="#c0c0c0"/>
<rect x="89" y="640" width="1" height="47" fill="#c0c0c0"/>
<rect x="97" y="643" width="1" height="44" fill="#c0c0c0"/>
<rect x="105" y="648" width="1" height="39" fill="#c0c0c0"/>
<rect x="113" y="658" width="1" height="29" fill="#c0c0c0"/>
<rect x="121" y="669" width="1" height="18" fill="#c0c0c0"/>
<rect x="129" y="679" width="1" height="8" fill="#c0c0c0"/>
<rect x="137" y="679" width="1" height="8" fill="#c0c0c0"/>
<rect x="145" y="678" width="1" height="9" fill="#c0c0c0"/>
<rect x="153" y="683" width="1" height="4" fill="#c0c0c0"/>
<rect x="161" y="686" width="1" height="1" fill="#c0c0c0"/>
<rect x="169" y="686" width="1" height="6" fill="#c0c0c0"/>
<rect x="177" y="686" width="1" height="11" fill="#c0c0c0"/>
<rect x="185" y="686" width="1" height="17" fill="#c0c0c0"/>
<rect x="193" y="686" width="1" height="17" fill="#c0c0c0"/>
<rect x="201" y="686" width="1" height="13" fill="#c0c0c0"/>
<rect x="209" y="686" width="1" height="10" fill="#c0c0c0"/>
<rect x="217" y="686" width="1" height="7" fill="#c0c0c0"/>
<rect x="225" y="686" width="1" height="4" fill="#c0c0c0"/>
<rect x="233" y="686" width="1" height="1" fill="#c0c0c0"/>
<rect x="241" y="684" width="1" height="3" fill="#c0c0c0"/>
<rect x="249" y="677" width="1" height="10" fill="#c0c0c0"/>
<rect x="257" y="671" width="1" height="16" fill="#c0c0c0"/>
<rect x="265" y="667" width="1" height="20" fill="#c0c0c0"/>
<rect x="273" y="663" width="1" height="24" fill="#c0c0c0"/>
<rect x="281" y="664" width="1" height="23" fill="#c0c0c0"/>
<rect x="289" y="664" width="1" height="23" fill="#c0c0c0"/>
<rect x="297" y="664" width="1" height="23" fill="#c0c0c0"/>
<rect x="305" y="665" width="1" height="22" fill="#c0c0c0"/>
<rect x="313" y="667" width="1" height="20" fill="#c0c0c0"/>
<rect x="321" y="667" width="1" height="20" fill="#c0c0c0"/>
<rect x="329" y="663" width="1" height="24" fill="#c0c0c0"/>
<rect x="337" y="657" width="1" height="30" fill="#c0c0c0"/>
<rect x="345" y="653" width="1" height="34" fill="#c0c0c0"/>
<rect x="353" y="650" width="1" height="37" fill="#c0c0c0"/>
<rect x="361" y="645" width="1" height="42" fill="#c0c0c0"/>
<rect x="369" y="642" width="1" height="45" fill="#c0c0c0"/>
<rect x="377" y="635" width="1" height="52" fill="#c0c0c0"/>
<rect x="385" y="628" width="1" height="59" fill="#c0c0c0"/>
<rect x="393" y="621" width="1" height="66" fill="#c0c0c0"/>
<rect x="401" y="609" width="1" height="78" fill="#c0c0c0"/>
<rect x="409" y="601" width="1" height="86" fill="#c0c0c0"/>
<rect x="417" y="596" width="1" height="91" fill="#c0c0c0"/>
<rect x="425" y="595" width="1" height="92" fill="#c0c0c0"/>
<rect x="433" y="594" width="1" height="93" fill="#c0c0c0"/>
<rect x="441" y="593" width="1" height="94" fill="#c0c0c0"/>
<rect x="449" y="592" width="1" height="95" fill="#c0c0c0"/>
<rect x="457" y="597" width="1" height="90" fill="#c0c0c0"/>
<rect x="465" y="602" width="1" height="85" fill="#c0c0c0"/>
<rect x="473" y="605" width="1" height="82" fill="#c0c0c0"/>
<rect x="481" y="610" width="1" height="77" fill="#c0c0c0"/>
<rect x="489" y="615" width="1" height="72" fill="#c0c0c0"/>
<rect x="497" y="619" width="1" height="68" fill="#c0c0c0"/>
<rect x="505" y="621" width="1" height="66" fill="#c0c0c0"/>
<rect x="513" y="623" width="1" height="64" fill="#c0c0c0"/>
<rect x="521" y="625" width="1" height="62" fill="#c0c0c0"/>
<rect x="529" y="621" width="1" height="66" fill="#c0c0c0"/>
<rect x="537" y="625" width="1" height="62" fill="#c0c0c0"/>
<rect x="545" y="623" width="1" height="64" fill="#c0c0c0"/>
<rect x="553" y="629" width="1" height="58" fill="#c0c0c0"/>
<rect x="561" y="634" width="1" height="53" fill="#c0c0c0"/>
<rect x="569" y="640" width="1" height="47" fill="#c0c0c0"/>
<rect x="577" y="641" width="1" height="46" fill="#c0c0c0"/>
<rect x="585" y="639" width="1" height="48" fill="#c0c0c0"/>
<rect x="593" y="639" width="1" height="48" fill="#c0c0c0"/>
<rect x="601" y="632" width="1" height="55" fill="#c0c0c0"/>
<rect x="609" y="627" width="1" height="60" fill="#c0c0c0"/>
<rect x="617" y="624" width="1" height="63" fill="#c0c0c0"/>
<rect x="625" y="619" width="1" height="68" fill="#c0c0c0"/>
<rect x="633" y="620" width="1" height="67" fill="#c0c0c0"/>
<rect x="641" y="625" width="1" height="62" fill="#c0c0c0"/>
<rect x="649" y="628" width="1" height="59" fill="#c0c0c0"/>
<rect x="657" y="634" width="1" height="53" fill="#c0c0c0"/>
<rect x="665" y="643" width="1" height="44" fill="#c0c0c0"/>
<rect x="673" y="660" width="1" height="27" fill="#c0c0c0"/>
<rect x="681" y="672" width="1" height="15" fill="#c0c0c0"/>
<rect x="689" y="686" width="1" height="5" fill="#c0c0c0"/>
<rect x="697" y="686" width="1" height="20" fill="#c0c0c0"/>
<rect x="705" y="686" width="1" height="32" fill="#c0c0c0"/>
<rect x="713" y="686" width="1" height="38" fill="#c0c0c0"/>
<rect x="721" y="686" width="1" height="41" fill="#c0c0c0"/>
<rect x="729" y="686" width="1" height="39" fill="#c0c0c0"/>
<rect x="737" y="686" width="1" height="36" fill="#c0c0c0"/>
<rect x="745" y="686" width="1" height="36" fill="#c0c0c0"/>
<rect x="753" y="686" width="1" height="35" fill="#c0c0c0"/>
<rect x="761" y="686" width="1" height="40" fill="#c0c0c0"/>
<rect x="769" y="686" width="1" height="47" fill="#c0c0c0"/>
<rect x="777" y="686" width="1" height="53" fill="#c0c0c0"/>
<rect x="785" y="686" width="1" height="55" fill="#c0c0c0"/>
<rect x="793" y="686" width="1" height="58" fill="#c0c0c0"/>
<rect x="801" y="686" width="1" height="57" fill="#c0c0c0"/>
<rect x="809" y="686" width="1" height="51" fill="#c0c0c0"/>
<rect x="817" y="686" width="1" height="46" fill="#c0c0c0"/>
<rect x="825" y="686" width="1" height="39" fill="#c0c0c0"/>
<rect x="833" y="686" width="1" height="34" fill="#c0c0c0"/>
<rect x="841" y="686" width="1" height="28" fill="#c0c0c0"/>
<rect x="849" y="686" width="1" height="23" fill="#c0c0c0"/>
<rect x="857" y="686" width="1" height="15" fill="#c0c0c0"/>
<rect x="865" y="686" width="1" height="15" fill="#c0c0c0"/>
<rect x="873" y="686" width="1" height="13" fill="#c0c0c0"/>
<rect x="881" y="686" width="1" height="10" fill="#c0c0c0"/>
<rect x="889" y="686" width="1" height="2" fill="#c0c0c0"/>
<rect x="897" y="684" width="1" height="3" fill="#c0c0c0"/>
<rect x="905" y="678" width="1" height="9" fill="#c0c0c0"/>
<rect x="913" y="680" width="1" height="7" fill="#c0c0c0"/>
<rect x="921" y="678" width="1" height="9" fill="#c0c0c0"/>
<rect x="929" y="681" width="1" height="6" fill="#c0c0c0"/>
<rect x="937" y="683" width="1" height="4" fill="#c0c0c0"/>
<rect x="945" y="685" width="1" height="2" fill="#c0c0c0"/>
<rect x="953" y="686" width="1" height="1" fill="#c0c0c0"/>
<rect x="961" y="684" width="1" height="3" fill="#c0c0c0"/>
<rect x="969" y="676" width="1" height="11" fill="#c0c0c0"/>
<rect x="977" y="672" width="1" height="15" fill="#c0c0c0"/>
<rect x="985" y="671" width="1" height="16" fill="#c0c0c0"/>
<rect x="993" y="669" width="1" height="18" fill="#c0c0c0"/>
<rect x="1001" y="670" width="1" height="17" fill="#c0c0c0"/>
<rect x="1009" y="670" width="1" height="17" fill="#c0c0c0"/>
<rect x="1017" y="673" width="1" height="14" fill="#c0c0c0"/>
<rect x="1025" y="677" width="1" height="10" fill="#c0c0c0"/>
<rect x="1033" y="680" width="1" height="7" fill="#c0c0c0"/>
<rect x="1041" y="684" width="1" height="3" fill="#c0c0c0"/>
<rect x="1049" y="686" width="1" height="1" fill="#c0c0c0"/>
<rect x="1057" y="680" width="1" height="7" fill="#c0c0c0"/>
<rect x="1065" y="681" width="1" height="6" fill="#c0c0c0"/>
<rect x="1073" y="675" width="1" height="12" fill="#c0c0c0"/>
<rect x="1081" y="668" width="1" height="19" fill="#c0c0c0"/>
<rect x="1089" y="662" width="1" height="25" fill="#c0c0c0"/>
<rect x="1097" y="659" width="1" height="28" fill="#c0c0c0"/>
<rect x="1105" y="652" width="1" height="35" fill="#c0c0c0"/>
<rect x="1113" y="648" width="1" height="39" fill="#c0c0c0"/>
<rect x="1121" y="651" width="1" height="36" fill="#c0c0c0"/>
<rect x="1129" y="651" width="1" height="36" fill="#c0c0c0"/>
<rect x="1137" y="649" width="1" height="38" fill="#c0c0c0"/>
<rect x="1145" y="648" width="1" height="39" fill="#c0c0c0"/>
<rect x="1153" y="646" width="1" height="41" fill="#c0c0c0"/>
<rect x="1161" y="645" width="1" height="42" fill="#c0c0c0"/>
<rect x="1169" y="645" width="1" height="42" fill="#c0c0c0"/>
<rect x="1177" y="644" width="1" height="43" fill="#c0c0c0"/>
<rect x="1185" y="642" width="1" height="45" fill="#c0c0c0"/>
<rect x="1193" y="640" width="1" height="47" fill="#c0c0c0"/>
<rect x="1201" y="638" width="1" height="49" fill="#c0c0c0"/>
<rect x="1209" y="635" width="1" height="52" fill="#c0c0c0"/>
<rect x="1217" y="635" width="1" height="52" fill="#c0c0c0"/>
<rect x="1225" y="638" width="1" height="49" fill="#c0c0c0"/>
<rect x="1233" y="640" width="1" height="47" fill="#c0c0c0"/>
<rect x="1241" y="641" width="1" height="46" fill="#c0c0c0"/>
<rect x="1249" y="638" width="1" height="49" fill="#c0c0c0"/>
<rect x="1257" y="640" width="1" height="47" fill="#c0c0c0"/>
<rect x="1265" y="637" width="1" height="50" fill="#c0c0c0"/>
<rect x="1273" y="636" width="1" height="51" fill="#c0c0c0"/>
<rect x="1281" y="637" width="1" height="50" fill="#c0c0c0"/>
<rect x="1289" y="642" width="1" height="45" fill="#c0c0c0"/>
<rect x="1297" y="645" width="1" height="42" fill="#c0c0c0"/>
<rect x="1305" y="649" width="1" height="38" fill="#c0c0c0"/>
<rect x="1313" y="655" width="1" height="32" fill="#c0c0c0"/>
<rect x="1321" y="663" width="1" height="24" fill="#c0c0c0"/>
<rect x="1329" y="666" width="1" height="21" fill="#c0c0c0"/>
<rect x="1337" y="668" width="1" height="19" fill="#c0c0c0"/>
<rect x="1345" y="664" width="1" height="23" fill="#c0c0c0"/>
<rect x="1353" y="658" width="1" height="29" fill="#c0c0c0"/>
<rect x="1361" y="651" width="1" height="36" fill="#c0c0c0"/>
<rect x="1369" y="648" width="1" height="39" fill="#c0c0c0"/>
<rect x="1377" y="652" width="1" height="35" fill="#c0c0c0"/>
<rect x="1385" y="653" width="1" height="34" fill="#c0c0c0"/>
<rect x="1393" y="657" width="1" height="30" fill="#c0c0c0"/>
<rect x="1401" y="654" width="1" height="33" fill="#c0c0c0"/>
<rect x="1409" y="651" width="1" height="36" fill="#c0c0c0"/>
<rect x="1417" y="648" width="1" height="39" fill="#c0c0c0"/>
<rect x="1425" y="651" width="1" height="36" fill="#c0c0c0"/>
<rect x="1433" y="652" width="1" height="35" fill="#c0c0c0"/>
<rect x="1441" y="647" width="1" height="40" fill="#c0c0c0"/>
<rect x="1449" y="642" width="1" height="45" fill="#c0c0c0"/>
<rect x="1457" y="637" width="1" height="50" fill="#c0c0c0"/>
<rect x="1465" y="640" width="1" height="47" fill="#c0c0c0"/>
<rect x="1473" y="639" width="1" height="48" fill="#c0c0c0"/>
<rect x="1481" y="640" width="1" height="47" fill="#c0c0c0"/>
<path d="M6 698h2v1h-2zM70 635h2v1h-2zM75 634h2v1h-2zM81 632h3v1h-3zM87 631h3v1h-3zM94 630h2v1h-2zM99 631h3v1h-3zM106 633h2v1h-2zM111 635h2v1h-2zM118 639h2v1h-2zM129 647h2v1h-2zM141 656h2v1h-2zM147 659h2v1h-2zM159 667h2v1h-2zM171 676h2v1h-2zM178 681h2v1h-2zM183 684h2v1h-2zM189 687h2v1h-2zM196 690h2v1h-2zM201 691h2v1h-2zM208 693h2v1h-2zM213 694h3v1h-3zM219 695h3v1h-3zM225 696h3v1h-3zM231 696h3v1h-3zM237 696h3v1h-3zM244 694h2v1h-2zM249 693h2v1h-2zM256 689h2v1h-2zM262 686h2v1h-2zM267 683h2v1h-2zM273 680h3v1h-3zM279 678h3v1h-3zM286 675h2v1h-2zM291 673h2v1h-2zM298 670h2v1h-2zM303 669h2v1h-2zM309 667h3v1h-3zM315 666h3v1h-3zM321 665h3v1h-3zM327 664h3v1h-3zM333 664h3v1h-3zM339 663h3v1h-3zM345 662h2v1h-2zM351 660h3v1h-3zM357 659h3v1h-3zM363 658h2v1h-2zM369 656h2v1h-2zM375 653h2v1h-2zM381 650h3v1h-3zM412 628h2v1h-2zM417 624h2v1h-2zM429 615h2v1h-2zM435 611h2v1h-2zM441 607h2v1h-2zM447 604h2v1h-2zM453 601h2v1h-2zM459 598h3v1h-3zM465 597h3v1h-3zM471 597h3v1h-3zM477 597h3v1h-3zM483 598h3v1h-3zM489 599h2v1h-2zM496 602h2v1h-2zM502 604h2v1h-2zM508 607h2v1h-2zM513 609h3v1h-3zM519 611h2v1h-2zM525 614h3v1h-3zM531 616h3v1h-3zM538 618h2v1h-2zM543 619h3v1h-3zM549 620h2v1h-2zM556 623h2v1h-2zM562 625h2v1h-2zM567 626h3v1h-3zM574 628h2v1h-2zM579 629h3v1h-3zM586 631h2v1h-2zM591 632h3v1h-3zM597 633h3v1h-3zM603 633h3v1h-3zM609 633h3v1h-3zM615 633h3v1h-3zM621 633h2v1h-2zM628 631h2v1h-2zM634 630h2v1h-2zM640 629h2v1h-2zM646 628h2v1h-2zM651 628h3v1h-3zM658 627h2v1h-2zM663 628h3v1h-3zM675 632h2v1h-2zM746 713h2v1h-2zM752 717h2v1h-2zM758 720h2v1h-2zM763 722h2v1h-2zM770 725h2v1h-2zM776 727h2v1h-2zM782 729h2v1h-2zM787 730h3v1h-3zM793 731h2v1h-2zM800 733h2v1h-2zM805 734h3v1h-3zM811 735h3v1h-3zM817 736h3v1h-3zM829 736h3v1h-3zM835 734h3v1h-3zM841 732h3v1h-3zM854 726h2v1h-2zM859 724h2v1h-2zM865 720h2v1h-2zM871 716h3v1h-3zM883 710h2v1h-2zM895 702h2v1h-2zM901 698h2v1h-2zM907 695h2v1h-2zM913 692h3v1h-3zM919 690h3v1h-3zM925 688h3v1h-3zM932 686h2v1h-2zM937 685h2v1h-2zM944 683h2v1h-2zM950 682h2v1h-2zM955 682h3v1h-3zM961 681h3v1h-3zM967 680h3v1h-3zM973 680h3v1h-3zM979 679h3v1h-3zM985 678h3v1h-3zM991 677h3v1h-3zM997 676h3v1h-3zM1003 676h3v1h-3zM1009 675h3v1h-3zM1015 674h3v1h-3zM1021 673h3v1h-3zM1027 672h2v1h-2zM1033 673h3v1h-3zM1040 674h2v1h-2zM1046 675h2v1h-2zM1051 676h3v1h-3zM1058 677h2v1h-2zM1063 677h3v1h-3zM1069 677h3v1h-3zM1075 677h3v1h-3zM1081 677h3v1h-3zM1087 676h3v1h-3zM1094 675h2v1h-2zM1099 673h3v1h-3zM1106 670h2v1h-2zM1111 668h2v1h-2zM1117 665h3v1h-3zM1123 663h2v1h-2zM1129 660h2v1h-2zM1136 657h2v1h-2zM1141 655h2v1h-2zM1147 653h3v1h-3zM1154 651h2v1h-2zM1159 650h2v1h-2zM1165 648h3v1h-3zM1171 648h3v1h-3zM1177 647h3v1h-3zM1183 647h2v1h-2zM1190 645h2v1h-2zM1195 644h3v1h-3zM1201 643h3v1h-3zM1208 642h2v1h-2zM1213 642h2v1h-2zM1219 641h2v1h-2zM1225 640h3v1h-3zM1231 640h3v1h-3zM1237 639h3v1h-3zM1243 639h2v1h-2zM1249 638h3v1h-3zM1255 638h3v1h-3zM1261 638h3v1h-3zM1267 637h3v1h-3zM1273 637h3v1h-3zM1279 637h3v1h-3zM1285 638h3v1h-3zM1291 639h3v1h-3zM1297 639h2v1h-2zM1303 640h3v1h-3zM1310 641h2v1h-2zM1316 643h2v1h-2zM1322 645h2v1h-2zM1327 647h2v1h-2zM1334 650h2v1h-2zM1339 652h3v1h-3zM1345 653h2v1h-2zM1351 656h3v1h-3zM1357 657h3v1h-3zM1363 657h3v1h-3zM1369 657h3v1h-3zM1375 657h3v1h-3zM1381 657h3v1h-3zM1387 657h3v1h-3zM1394 656h2v1h-2zM1400 655h2v1h-2zM1406 654h2v1h-2zM1411 653h2v1h-2zM1417 651h3v1h-3zM1423 651h3v1h-3zM1429 651h3v1h-3zM1435 651h3v1h-3zM1441 651h3v1h-3zM1447 650h2v1h-2zM1453 648h3v1h-3zM1459 647h3v1h-3zM1465 646h3v1h-3zM1471 645h2v1h-2zM1477 643h3v1h-3zM0 704h1v1h-1zM1 703h1v1h-1zM2 702h1v1h-1zM8 697h1v1h-1zM12 693h1v1h-1zM13 692h1v1h-1zM14 691h1v1h-1zM18 687h1v1h-1zM19 686h1v1h-1zM20 685h1v1h-1zM24 681h1v1h-1zM25 680h1v1h-1zM26 679h1v1h-1zM30 675h1v1h-1zM31 674h1v1h-1zM32 673h1v1h-1zM36 668h1v2h-1zM37 667h1v1h-1zM41 663h1v1h-1zM42 662h1v1h-1zM43 661h1v1h-1zM46 657h1v1h-1zM47 656h1v1h-1zM48 655h1v1h-1zM51 651h1v1h-1zM52 650h1v1h-1zM53 649h1v1h-1zM57 646h1v1h-1zM58 645h1v1h-1zM59 644h1v1h-1zM63 641h1v1h-1zM64 640h1v1h-1zM65 639h1v1h-1zM69 636h1v1h-1zM77 633h1v1h-1zM93 631h1v1h-1zM105 632h1v1h-1zM113 636h1v1h-1zM117 638h1v1h-1zM123 642h1v1h-1zM124 643h1v1h-1zM125 644h1v1h-1zM131 648h1v1h-1zM135 651h1v1h-1zM136 652h1v1h-1zM137 653h1v1h-1zM143 657h1v1h-1zM149 660h1v1h-1zM153 662h1v1h-1zM154 663h1v1h-1zM155 664h1v1h-1zM161 668h1v1h-1zM165 671h1v1h-1zM166 672h1v1h-1zM167 673h1v1h-1zM173 677h1v1h-1zM177 680h1v1h-1zM185 685h1v1h-1zM191 688h1v1h-1zM195 689h1v1h-1zM203 692h1v1h-1zM207 692h1v1h-1zM243 695h1v1h-1zM251 692h1v1h-1zM255 690h1v1h-1zM261 687h1v1h-1zM269 682h1v1h-1zM285 676h1v1h-1zM293 672h1v1h-1zM297 671h1v1h-1zM305 668h1v1h-1zM347 661h1v1h-1zM365 657h1v1h-1zM371 655h1v1h-1zM377 652h1v1h-1zM387 648h1v1h-1zM388 647h1v1h-1zM389 646h1v1h-1zM393 644h1v1h-1zM394 643h1v1h-1zM395 642h1v1h-1zM399 639h1v1h-1zM400 638h1v1h-1zM401 637h1v1h-1zM405 634h1v1h-1zM406 633h1v1h-1zM407 632h1v1h-1zM411 629h1v1h-1zM419 623h1v1h-1zM423 620h1v1h-1zM424 619h1v1h-1zM425 618h1v1h-1zM431 614h1v1h-1zM437 610h1v1h-1zM443 606h1v1h-1zM449 603h1v1h-1zM455 600h1v1h-1zM491 600h1v1h-1zM495 601h1v1h-1zM501 603h1v1h-1zM507 606h1v1h-1zM521 612h1v1h-1zM537 617h1v1h-1zM551 621h1v1h-1zM555 622h1v1h-1zM561 624h1v1h-1zM573 627h1v1h-1zM585 630h1v1h-1zM623 632h1v1h-1zM627 632h1v1h-1zM633 631h1v1h-1zM639 630h1v1h-1zM645 629h1v1h-1zM657 628h1v1h-1zM669 628h1v1h-1zM670 629h1v1h-1zM671 630h1v1h-1zM677 633h1v1h-1zM681 635h1v1h-1zM682 636h1v1h-1zM683 637h1v1h-1zM687 641h1v1h-1zM688 642h1v1h-1zM689 643h1v1h-1zM693 647h1v1h-1zM694 648h1v1h-1zM695 649h1v1h-1zM698 653h1v1h-1zM699 654h1v2h-1zM702 659h1v1h-1zM703 660h1v1h-1zM704 661h1v1h-1zM707 665h1v2h-1zM708 667h1v1h-1zM711 671h1v2h-1zM712 673h1v1h-1zM715 677h1v1h-1zM716 678h1v1h-1zM717 679h1v1h-1zM720 683h1v1h-1zM721 684h1v1h-1zM722 685h1v1h-1zM725 689h1v2h-1zM726 691h1v1h-1zM729 695h1v1h-1zM730 696h1v1h-1zM731 697h1v1h-1zM734 701h1v2h-1zM735 703h1v1h-1zM739 707h1v1h-1zM740 708h1v1h-1zM741 709h1v1h-1zM745 712h1v1h-1zM751 716h1v1h-1zM757 719h1v1h-1zM765 723h1v1h-1zM769 724h1v1h-1zM775 726h1v1h-1zM781 728h1v1h-1zM795 732h1v1h-1zM799 732h1v1h-1zM823 736h1v1h-1zM824 737h1v1h-1zM825 736h1v1h-1zM847 730h1v1h-1zM848 729h1v1h-1zM849 728h1v1h-1zM853 727h1v1h-1zM861 723h1v1h-1zM867 719h1v1h-1zM877 714h1v1h-1zM878 713h1v1h-1zM879 712h1v1h-1zM885 709h1v1h-1zM889 707h1v1h-1zM890 706h1v1h-1zM891 705h1v1h-1zM897 701h1v1h-1zM903 697h1v1h-1zM909 694h1v1h-1zM931 687h1v1h-1zM939 684h1v1h-1zM943 684h1v1h-1zM949 683h1v1h-1zM1029 673h1v1h-1zM1039 673h1v1h-1zM1045 674h1v1h-1zM1057 676h1v1h-1zM1093 676h1v1h-1zM1105 671h1v1h-1zM1113 667h1v1h-1zM1125 662h1v1h-1zM1131 659h1v1h-1zM1135 658h1v1h-1zM1143 654h1v1h-1zM1153 652h1v1h-1zM1161 649h1v1h-1zM1185 646h1v1h-1zM1189 646h1v1h-1zM1207 643h1v1h-1zM1215 641h1v1h-1zM1221 640h1v1h-1zM1245 638h1v1h-1zM1299 640h1v1h-1zM1309 640h1v1h-1zM1315 642h1v1h-1zM1321 644h1v1h-1zM1329 648h1v1h-1zM1333 649h1v1h-1zM1347 654h1v1h-1zM1393 657h1v1h-1zM1399 656h1v1h-1zM1405 655h1v1h-1zM1413 652h1v1h-1zM1449 649h1v1h-1zM1473 644h1v1h-1z" fill="#ff0000" shape-rendering="crispEdges"/>
</g>
<line x1="0" y1="790.5" x2="1683" y2="790.5" stroke="#c0c0c0" stroke-width="1" stroke-dasharray="3,3"/>
<line x1="0" y1="841.5" x2="1683" y2="841.5" stroke="#c0c0c0" stroke-width="1" stroke-dasharray="3,3"/>
<line x1="0" y1="902.5" x2="1683" y2="902.5" stroke="#c0c0c0" stroke-width="1" stroke-dasharray="3,3"/>
<g clip-path="url(#c3)" shape-rendering="crispEdges">
<path d="M1 813h4v1h-4zM5 814h6v1h-6zM11 813h4v1h-4zM15 812h3v1h-3zM18 811h2v1h-2zM21 809h2v1h-2zM23 808h2v1h-2zM25 807h2v1h-2zM27 806h2v1h-2zM29 805h3v1h-3zM32 804h3v1h-3zM35 803h4v1h-4zM39 802h3v1h-3zM42 803h2v1h-2zM44 804h2v1h-2zM46 805h2v1h-2zM48 806h10v1h-10zM73 840h2v1h-2zM75 839h4v1h-4zM79 838h3v1h-3zM93 829h2v1h-2zM98 833h2v1h-2zM100 834h2v1h-2zM102 835h2v1h-2zM104 836h2v1h-2zM117 853h2v1h-2zM121 856h4v1h-4zM125 857h5v1h-5zM137 839h2v1h-2zM139 838h4v1h-4zM143 837h3v1h-3zM153 848h4v1h-4zM157 847h5v1h-5zM165 851h2v1h-2zM169 854h4v1h-4zM173 855h6v1h-6zM179 856h4v1h-4zM183 857h3v1h-3zM201 840h10v1h-10zM211 839h4v1h-4zM215 838h12v1h-12zM227 837h2v1h-2zM229 836h3v1h-3zM232 835h2v1h-2zM234 834h2v1h-2zM236 833h2v1h-2zM238 832h2v1h-2zM240 831h2v1h-2zM249 822h2v1h-2zM251 823h4v1h-4zM255 824h3v1h-3zM258 823h2v1h-2zM260 822h2v1h-2zM262 821h2v1h-2zM264 820h3v1h-3zM267 821h4v1h-4zM271 822h3v1h-3zM281 834h4v1h-4zM285 833h6v1h-6zM291 832h2v1h-2zM293 831h3v1h-3zM296 830h2v1h-2zM298 831h2v1h-2zM300 832h2v1h-2zM302 833h2v1h-2zM304 834h5v1h-5zM309 833h13v1h-13zM337 812h4v1h-4zM341 813h8v1h-8zM349 812h5v1h-5zM354 811h2v1h-2zM357 809h2v1h-2zM359 808h2v1h-2zM361 807h2v1h-2zM363 806h4v1h-4zM367 805h3v1h-3zM377 797h2v1h-2zM379 796h2v1h-2zM381 795h3v1h-3zM384 794h2v1h-2zM386 793h2v1h-2zM388 792h2v1h-2zM390 791h2v1h-2zM392 790h2v1h-2zM397 786h2v1h-2zM401 783h2v1h-2zM403 784h2v1h-2zM405 785h3v1h-3zM408 786h5v1h-5zM413 787h5v1h-5zM418 788h2v1h-2zM421 790h2v1h-2zM423 791h2v1h-2zM425 792h10v1h-10zM435 791h2v1h-2zM437 790h3v1h-3zM440 789h5v1h-5zM445 788h5v1h-5zM457 810h10v1h-10zM467 809h2v1h-2zM469 808h3v1h-3zM472 807h2v1h-2zM475 809h2v1h-2zM479 812h2v1h-2zM481 813h2v1h-2zM483 814h2v1h-2zM485 815h3v1h-3zM488 816h3v1h-3zM491 815h2v1h-2zM493 814h3v1h-3zM496 813h3v1h-3zM499 812h2v1h-2zM501 811h3v1h-3zM504 810h3v1h-3zM507 809h4v1h-4zM511 808h11v1h-11zM537 822h2v1h-2zM544 814h2v1h-2zM553 832h9v1h-9zM562 833h2v1h-2zM564 834h2v1h-2zM566 835h2v1h-2zM568 836h2v1h-2zM585 819h2v1h-2zM587 820h2v1h-2zM589 821h3v1h-3zM592 822h2v1h-2zM601 810h4v1h-4zM605 809h14v1h-14zM619 808h2v1h-2zM621 807h3v1h-3zM624 806h2v1h-2zM641 828h2v1h-2zM643 827h2v1h-2zM645 826h3v1h-3zM648 825h2v1h-2zM653 829h2v1h-2zM673 861h3v1h-3zM676 860h2v1h-2zM678 859h2v1h-2zM680 858h2v1h-2zM689 871h4v1h-4zM693 872h6v1h-6zM699 871h4v1h-4zM703 870h3v1h-3zM706 869h2v1h-2zM709 867h2v1h-2zM711 866h2v1h-2zM714 864h2v1h-2zM717 862h2v1h-2zM719 861h2v1h-2zM729 850h4v1h-4zM733 849h5v1h-5zM738 850h2v1h-2zM741 852h2v1h-2zM743 853h2v1h-2zM745 854h4v1h-4zM749 853h5v1h-5zM763 865h2v1h-2zM767 868h2v1h-2zM769 869h2v1h-2zM771 870h4v1h-4zM775 871h3v1h-3zM779 869h2v1h-2zM783 866h2v1h-2zM785 865h2v1h-2zM787 866h4v1h-4zM791 867h3v1h-3zM794 866h2v1h-2zM797 864h2v1h-2zM799 863h2v1h-2zM809 847h4v1h-4zM813 848h5v1h-5zM819 846h2v1h-2zM823 843h2v1h-2zM825 842h2v1h-2zM827 843h2v1h-2zM829 844h3v1h-3zM832 845h2v1h-2zM835 843h2v1h-2zM839 840h2v1h-2zM841 839h2v1h-2zM843 840h4v1h-4zM847 841h3v1h-3zM866 845h2v1h-2zM868 844h2v1h-2zM870 843h2v1h-2zM872 842h3v1h-3zM875 841h2v1h-2zM877 840h3v1h-3zM880 839h2v1h-2zM889 828h2v1h-2zM891 829h4v1h-4zM895 830h3v1h-3zM898 829h2v1h-2zM901 827h2v1h-2zM903 826h3v1h-3zM913 842h2v1h-2zM929 846h2v1h-2zM931 845h2v1h-2zM933 844h3v1h-3zM936 843h5v1h-5zM941 844h6v1h-6zM947 843h4v1h-4zM951 842h6v1h-6zM957 841h5v1h-5zM969 824h2v1h-2zM971 825h2v1h-2zM975 828h2v1h-2zM978 830h2v1h-2zM981 832h2v1h-2zM983 833h2v1h-2zM985 834h2v1h-2zM987 833h4v1h-4zM991 832h3v1h-3zM994 833h2v1h-2zM997 835h2v1h-2zM999 836h2v1h-2zM1001 837h2v1h-2zM1003 836h4v1h-4zM1007 835h3v1h-3zM1011 837h2v1h-2zM1015 840h2v1h-2zM1021 845h2v1h-2zM1026 847h2v1h-2zM1028 846h2v1h-2zM1030 845h2v1h-2zM1032 844h2v1h-2zM1034 845h2v1h-2zM1036 846h2v1h-2zM1038 847h2v1h-2zM1040 848h5v1h-5zM1045 849h5v1h-5zM1065 842h2v1h-2zM1073 828h2v1h-2zM1075 827h4v1h-4zM1079 826h4v1h-4zM1083 825h4v1h-4zM1087 824h4v1h-4zM1091 825h4v1h-4zM1095 826h3v1h-3zM1106 819h2v1h-2zM1109 821h2v1h-2zM1111 822h2v1h-2zM1122 834h2v1h-2zM1125 832h2v1h-2zM1127 831h2v1h-2zM1130 829h2v1h-2zM1132 828h2v1h-2zM1134 827h2v1h-2zM1136 826h11v1h-11zM1147 825h2v1h-2zM1149 824h3v1h-3zM1152 823h5v1h-5zM1157 824h14v1h-14zM1171 823h2v1h-2zM1173 822h3v1h-3zM1176 821h3v1h-3zM1179 820h4v1h-4zM1183 819h4v1h-4zM1187 818h2v1h-2zM1189 817h3v1h-3zM1192 816h3v1h-3zM1195 815h2v1h-2zM1197 814h3v1h-3zM1200 813h3v1h-3zM1203 812h4v1h-4zM1207 811h3v1h-3zM1211 813h2v1h-2zM1215 816h2v1h-2zM1225 826h2v1h-2zM1227 825h2v1h-2zM1229 824h3v1h-3zM1232 823h5v1h-5zM1237 822h5v1h-5zM1265 814h2v1h-2zM1267 815h4v1h-4zM1271 816h3v1h-3zM1274 817h2v1h-2zM1276 818h2v1h-2zM1278 819h2v1h-2zM1280 820h2v1h-2zM1289 831h4v1h-4zM1293 830h13v1h-13zM1329 840h2v1h-2zM1331 839h2v1h-2zM1333 838h3v1h-3zM1336 837h2v1h-2zM1347 821h2v1h-2zM1351 818h2v1h-2zM1354 816h2v1h-2zM1357 814h2v1h-2zM1359 813h2v1h-2zM1378 835h2v1h-2zM1380 834h2v1h-2zM1382 833h2v1h-2zM1384 832h2v1h-2zM1386 833h2v1h-2zM1389 835h2v1h-2zM1391 836h2v1h-2zM1401 826h2v1h-2zM1403 825h2v1h-2zM1405 824h3v1h-3zM1408 823h3v1h-3zM1411 822h4v1h-4zM1415 821h3v1h-3zM1426 834h2v1h-2zM1428 833h2v1h-2zM1430 832h2v1h-2zM1432 831h2v1h-2zM1441 820h2v1h-2zM1443 819h2v1h-2zM1445 818h3v1h-3zM1448 817h5v1h-5zM1453 816h5v1h-5zM1466 829h2v1h-2zM1469 827h2v1h-2zM1471 826h2v1h-2zM1473 825h2v1h-2zM1475 826h2v1h-2zM1477 827h3v1h-3zM1480 828h2v1h-2zM20 810h1v1h-1zM57 807h1v1h-1zM58 808h1v3h-1zM59 811h1v3h-1zM60 814h1v3h-1zM61 817h1v2h-1zM62 819h1v3h-1zM63 822h1v3h-1zM64 825h1v3h-1zM65 828h1v2h-1zM66 830h1v2h-1zM67 832h1v1h-1zM68 833h1v1h-1zM69 834h1v2h-1zM70 836h1v1h-1zM71 837h1v1h-1zM72 838h1v2h-1zM82 836h1v2h-1zM83 834h1v2h-1zM84 833h1v1h-1zM85 831h1v2h-1zM86 830h1v1h-1zM87 828h1v2h-1zM88 826h1v2h-1zM89 825h1v1h-1zM90 826h1v1h-1zM91 827h1v1h-1zM92 828h1v1h-1zM95 830h1v1h-1zM96 831h1v1h-1zM97 832h1v1h-1zM106 837h1v2h-1zM107 839h1v2h-1zM108 841h1v1h-1zM109 842h1v2h-1zM110 844h1v1h-1zM111 845h1v2h-1zM112 847h1v2h-1zM113 849h1v1h-1zM114 850h1v1h-1zM115 851h1v1h-1zM116 852h1v1h-1zM119 854h1v1h-1zM120 855h1v1h-1zM129 856h1v1h-1zM130 854h1v2h-1zM131 852h1v2h-1zM132 850h1v2h-1zM133 847h1v3h-1zM134 845h1v2h-1zM135 843h1v2h-1zM136 841h1v2h-1zM137 840h1v1h-1zM146 838h1v2h-1zM147 840h1v1h-1zM148 841h1v1h-1zM149 842h1v2h-1zM150 844h1v1h-1zM151 845h1v1h-1zM152 846h1v2h-1zM162 848h1v1h-1zM163 849h1v1h-1zM164 850h1v1h-1zM167 852h1v1h-1zM168 853h1v1h-1zM186 856h1v1h-1zM187 855h1v1h-1zM188 854h1v1h-1zM189 852h1v2h-1zM190 851h1v1h-1zM191 850h1v1h-1zM192 849h1v1h-1zM193 848h1v1h-1zM194 847h1v1h-1zM195 846h1v1h-1zM196 845h1v1h-1zM197 844h1v1h-1zM198 843h1v1h-1zM199 842h1v1h-1zM200 841h1v1h-1zM242 830h1v1h-1zM243 829h1v1h-1zM244 828h1v1h-1zM245 826h1v2h-1zM246 825h1v1h-1zM247 824h1v1h-1zM248 823h1v1h-1zM274 823h1v2h-1zM275 825h1v1h-1zM276 826h1v2h-1zM277 828h1v1h-1zM278 829h1v2h-1zM279 831h1v1h-1zM280 832h1v2h-1zM322 831h1v2h-1zM323 830h1v1h-1zM324 828h1v2h-1zM325 827h1v1h-1zM326 825h1v2h-1zM327 824h1v1h-1zM328 822h1v2h-1zM329 821h1v1h-1zM330 820h1v1h-1zM331 819h1v1h-1zM332 818h1v1h-1zM333 816h1v2h-1zM334 815h1v1h-1zM335 814h1v1h-1zM336 813h1v1h-1zM356 810h1v1h-1zM370 804h1v1h-1zM371 803h1v1h-1zM372 802h1v1h-1zM373 801h1v1h-1zM374 800h1v1h-1zM375 799h1v1h-1zM376 798h1v1h-1zM394 789h1v1h-1zM395 788h1v1h-1zM396 787h1v1h-1zM399 785h1v1h-1zM400 784h1v1h-1zM420 789h1v1h-1zM449 789h1v1h-1zM450 790h1v3h-1zM451 793h1v2h-1zM452 795h1v3h-1zM453 798h1v3h-1zM454 801h1v3h-1zM455 804h1v2h-1zM456 806h1v3h-1zM457 809h1v1h-1zM474 808h1v1h-1zM477 810h1v1h-1zM478 811h1v1h-1zM522 806h1v2h-1zM523 804h1v2h-1zM524 802h1v2h-1zM525 800h1v2h-1zM526 798h1v2h-1zM527 796h1v2h-1zM528 794h1v2h-1zM529 792h1v2h-1zM530 794h1v4h-1zM531 798h1v4h-1zM532 802h1v4h-1zM533 806h1v4h-1zM534 810h1v4h-1zM535 814h1v4h-1zM536 818h1v4h-1zM537 823h1v1h-1zM539 820h1v2h-1zM540 819h1v1h-1zM541 818h1v1h-1zM542 817h1v1h-1zM543 815h1v2h-1zM545 813h1v1h-1zM546 815h1v2h-1zM547 817h1v2h-1zM548 819h1v3h-1zM549 822h1v2h-1zM550 824h1v3h-1zM551 827h1v2h-1zM552 829h1v2h-1zM553 831h1v1h-1zM570 835h1v1h-1zM571 834h1v1h-1zM572 833h1v1h-1zM573 831h1v2h-1zM574 830h1v1h-1zM575 829h1v1h-1zM576 828h1v1h-1zM577 827h1v1h-1zM578 826h1v1h-1zM579 825h1v1h-1zM580 824h1v1h-1zM581 823h1v1h-1zM582 822h1v1h-1zM583 821h1v1h-1zM584 820h1v1h-1zM594 820h1v2h-1zM595 819h1v1h-1zM596 817h1v2h-1zM597 816h1v1h-1zM598 814h1v2h-1zM599 813h1v1h-1zM600 811h1v2h-1zM626 807h1v1h-1zM627 808h1v1h-1zM628 809h1v1h-1zM629 810h1v2h-1zM630 812h1v1h-1zM631 813h1v1h-1zM632 814h1v1h-1zM633 815h1v1h-1zM634 816h1v2h-1zM635 818h1v2h-1zM636 820h1v1h-1zM637 821h1v2h-1zM638 823h1v1h-1zM639 824h1v2h-1zM640 826h1v2h-1zM650 826h1v1h-1zM651 827h1v1h-1zM652 828h1v1h-1zM655 830h1v1h-1zM656 831h1v1h-1zM657 832h1v1h-1zM658 833h1v1h-1zM659 834h1v2h-1zM660 836h1v1h-1zM661 837h1v1h-1zM662 838h1v1h-1zM663 839h1v2h-1zM664 841h1v1h-1zM665 842h1v2h-1zM666 844h1v2h-1zM667 846h1v3h-1zM668 849h1v2h-1zM669 851h1v3h-1zM670 854h1v2h-1zM671 856h1v3h-1zM672 859h1v2h-1zM673 862h1v1h-1zM682 859h1v2h-1zM683 861h1v2h-1zM684 863h1v1h-1zM685 864h1v2h-1zM686 866h1v1h-1zM687 867h1v2h-1zM688 869h1v2h-1zM708 868h1v1h-1zM713 865h1v1h-1zM716 863h1v1h-1zM721 860h1v1h-1zM722 859h1v1h-1zM723 857h1v2h-1zM724 856h1v1h-1zM725 855h1v1h-1zM726 854h1v1h-1zM727 852h1v2h-1zM728 851h1v1h-1zM740 851h1v1h-1zM754 854h1v1h-1zM755 855h1v2h-1zM756 857h1v1h-1zM757 858h1v1h-1zM758 859h1v1h-1zM759 860h1v2h-1zM760 862h1v1h-1zM761 863h1v1h-1zM762 864h1v1h-1zM765 866h1v1h-1zM766 867h1v1h-1zM778 870h1v1h-1zM781 868h1v1h-1zM782 867h1v1h-1zM796 865h1v1h-1zM801 862h1v1h-1zM802 860h1v2h-1zM803 858h1v2h-1zM804 856h1v2h-1zM805 854h1v2h-1zM806 852h1v2h-1zM807 850h1v2h-1zM808 848h1v2h-1zM818 847h1v1h-1zM821 845h1v1h-1zM822 844h1v1h-1zM834 844h1v1h-1zM837 842h1v1h-1zM838 841h1v1h-1zM850 840h1v1h-1zM851 839h1v1h-1zM852 838h1v1h-1zM853 837h1v1h-1zM854 836h1v1h-1zM855 835h1v1h-1zM856 834h1v1h-1zM857 833h1v1h-1zM858 834h1v2h-1zM859 836h1v2h-1zM860 838h1v1h-1zM861 839h1v2h-1zM862 841h1v1h-1zM863 842h1v2h-1zM864 844h1v2h-1zM865 846h1v1h-1zM882 837h1v2h-1zM883 836h1v1h-1zM884 835h1v1h-1zM885 833h1v2h-1zM886 832h1v1h-1zM887 831h1v1h-1zM888 829h1v2h-1zM900 828h1v1h-1zM905 825h1v1h-1zM906 827h1v2h-1zM907 829h1v2h-1zM908 831h1v2h-1zM909 833h1v3h-1zM910 836h1v2h-1zM911 838h1v2h-1zM912 840h1v2h-1zM913 843h1v1h-1zM915 841h1v1h-1zM916 840h1v1h-1zM917 839h1v1h-1zM918 838h1v1h-1zM919 837h1v1h-1zM920 836h1v1h-1zM921 835h1v1h-1zM922 836h1v2h-1zM923 838h1v1h-1zM924 839h1v1h-1zM925 840h1v2h-1zM926 842h1v1h-1zM927 843h1v1h-1zM928 844h1v2h-1zM961 840h1v1h-1zM962 838h1v2h-1zM963 836h1v2h-1zM964 834h1v2h-1zM965 831h1v3h-1zM966 829h1v2h-1zM967 827h1v2h-1zM968 825h1v2h-1zM969 823h1v1h-1zM973 826h1v1h-1zM974 827h1v1h-1zM977 829h1v1h-1zM980 831h1v1h-1zM996 834h1v1h-1zM1010 836h1v1h-1zM1013 838h1v1h-1zM1014 839h1v1h-1zM1017 841h1v1h-1zM1018 842h1v1h-1zM1019 843h1v1h-1zM1020 844h1v1h-1zM1023 846h1v1h-1zM1024 847h1v1h-1zM1025 848h1v1h-1zM1049 848h1v1h-1zM1050 845h1v3h-1zM1051 842h1v3h-1zM1052 839h1v3h-1zM1053 836h1v3h-1zM1054 833h1v3h-1zM1055 830h1v3h-1zM1056 827h1v3h-1zM1057 825h1v2h-1zM1058 827h1v2h-1zM1059 829h1v2h-1zM1060 831h1v2h-1zM1061 833h1v3h-1zM1062 836h1v2h-1zM1063 838h1v2h-1zM1064 840h1v2h-1zM1065 843h1v1h-1zM1066 841h1v1h-1zM1067 839h1v2h-1zM1068 837h1v2h-1zM1069 835h1v2h-1zM1070 833h1v2h-1zM1071 831h1v2h-1zM1072 829h1v2h-1zM1098 825h1v1h-1zM1099 824h1v1h-1zM1100 823h1v1h-1zM1101 822h1v1h-1zM1102 821h1v1h-1zM1103 820h1v1h-1zM1104 819h1v1h-1zM1105 818h1v1h-1zM1108 820h1v1h-1zM1113 823h1v1h-1zM1114 824h1v2h-1zM1115 826h1v1h-1zM1116 827h1v2h-1zM1117 829h1v1h-1zM1118 830h1v2h-1zM1119 832h1v1h-1zM1120 833h1v2h-1zM1121 835h1v1h-1zM1124 833h1v1h-1zM1129 830h1v1h-1zM1210 812h1v1h-1zM1213 814h1v1h-1zM1214 815h1v1h-1zM1217 817h1v1h-1zM1218 818h1v1h-1zM1219 819h1v1h-1zM1220 820h1v1h-1zM1221 821h1v2h-1zM1222 823h1v1h-1zM1223 824h1v1h-1zM1224 825h1v1h-1zM1242 821h1v1h-1zM1243 820h1v1h-1zM1244 819h1v1h-1zM1245 817h1v2h-1zM1246 816h1v1h-1zM1247 815h1v1h-1zM1248 814h1v1h-1zM1249 813h1v1h-1zM1250 814h1v1h-1zM1251 815h1v2h-1zM1252 817h1v1h-1zM1253 818h1v1h-1zM1254 819h1v1h-1zM1255 820h1v2h-1zM1256 822h1v1h-1zM1257 823h1v1h-1zM1258 822h1v1h-1zM1259 821h1v1h-1zM1260 820h1v1h-1zM1261 818h1v2h-1zM1262 817h1v1h-1zM1263 816h1v1h-1zM1264 815h1v1h-1zM1282 821h1v2h-1zM1283 823h1v1h-1zM1284 824h1v1h-1zM1285 825h1v2h-1zM1286 827h1v1h-1zM1287 828h1v1h-1zM1288 829h1v2h-1zM1306 831h1v2h-1zM1307 833h1v1h-1zM1308 834h1v1h-1zM1309 835h1v2h-1zM1310 837h1v1h-1zM1311 838h1v1h-1zM1312 839h1v2h-1zM1313 841h1v1h-1zM1314 842h1v2h-1zM1315 844h1v1h-1zM1316 845h1v1h-1zM1317 846h1v2h-1zM1318 848h1v1h-1zM1319 849h1v1h-1zM1320 850h1v2h-1zM1321 852h1v1h-1zM1322 850h1v2h-1zM1323 849h1v1h-1zM1324 847h1v2h-1zM1325 846h1v1h-1zM1326 844h1v2h-1zM1327 843h1v1h-1zM1328 841h1v2h-1zM1338 835h1v2h-1zM1339 833h1v2h-1zM1340 831h1v2h-1zM1341 830h1v1h-1zM1342 828h1v2h-1zM1343 826h1v2h-1zM1344 824h1v2h-1zM1345 823h1v1h-1zM1346 822h1v1h-1zM1349 820h1v1h-1zM1350 819h1v1h-1zM1353 817h1v1h-1zM1356 815h1v1h-1zM1361 812h1v1h-1zM1362 813h1v1h-1zM1363 814h1v1h-1zM1364 815h1v1h-1zM1365 816h1v2h-1zM1366 818h1v1h-1zM1367 819h1v1h-1zM1368 820h1v1h-1zM1369 821h1v1h-1zM1370 822h1v2h-1zM1371 824h1v2h-1zM1372 826h1v2h-1zM1373 828h1v2h-1zM1374 830h1v2h-1zM1375 832h1v2h-1zM1376 834h1v2h-1zM1377 836h1v1h-1zM1388 834h1v1h-1zM1393 837h1v1h-1zM1394 835h1v2h-1zM1395 834h1v1h-1zM1396 833h1v1h-1zM1397 831h1v2h-1zM1398 830h1v1h-1zM1399 829h1v1h-1zM1400 827h1v2h-1zM1418 822h1v2h-1zM1419 824h1v2h-1zM1420 826h1v2h-1zM1421 828h1v1h-1zM1422 829h1v2h-1zM1423 831h1v2h-1zM1424 833h1v2h-1zM1425 835h1v1h-1zM1434 829h1v2h-1zM1435 828h1v1h-1zM1436 827h1v1h-1zM1437 825h1v2h-1zM1438 824h1v1h-1zM1439 823h1v1h-1zM1440 821h1v2h-1zM1458 817h1v2h-1zM1459 819h1v2h-1zM1460 821h1v2h-1zM1461 823h1v1h-1zM1462 824h1v2h-1zM1463 826h1v2h-1zM1464 828h1v2h-1zM1465 830h1v1h-1zM1468 828h1v1h-1z" fill="#1e90ff" shape-rendering="crispEdges"/>
</g>
<rect x="0" y="27" width="1684" height="1" fill="#000"/>
<rect x="1683" y="27" width="1" height="554" fill="#000"/>
<rect x="0" y="580" width="1684" height="1" fill="#000"/>
<rect x="0" y="582" width="1684" height="1" fill="#000"/>
<rect x="1683" y="582" width="1" height="171" fill="#000"/>
<rect x="0" y="752" width="1684" height="1" fill="#000"/>
<rect x="0" y="754" width="1684" height="1" fill="#000"/>
<rect x="1683" y="754" width="1" height="175" fill="#000"/>
<rect x="0" y="928" width="1684" height="1" fill="#000"/>
<rect x="1729" y="25" width="1" height="921" fill="#f0f0f0"/>
<rect x="1684" y="577" width="2" height="1" fill="#000"/>
<text x="1689.4" y="581" font-size="9.6" fill="#000" stroke="#000" stroke-width="0.22" text-anchor="start" font-weight="normal" textLength="33" lengthAdjust="spacingAndGlyphs" shape-rendering="geometricPrecision">1.22215</text>
<rect x="1684" y="544" width="2" height="1" fill="#000"/>
<text x="1689.4" y="548" font-size="9.6" fill="#000" stroke="#000" stroke-width="0.22" text-anchor="start" font-weight="normal" textLength="33" lengthAdjust="spacingAndGlyphs" shape-rendering="geometricPrecision">1.23140</text>
<rect x="1684" y="511" width="2" height="1" fill="#000"/>
<text x="1689.4" y="515" font-size="9.6" fill="#000" stroke="#000" stroke-width="0.22" text-anchor="start" font-weight="normal" textLength="33" lengthAdjust="spacingAndGlyphs" shape-rendering="geometricPrecision">1.24090</text>
<rect x="1684" y="478" width="2" height="1" fill="#000"/>
<text x="1689.4" y="482" font-size="9.6" fill="#000" stroke="#000" stroke-width="0.22" text-anchor="start" font-weight="normal" textLength="33" lengthAdjust="spacingAndGlyphs" shape-rendering="geometricPrecision">1.25015</text>
<rect x="1684" y="445" width="2" height="1" fill="#000"/>
<text x="1689.4" y="449" font-size="9.6" fill="#000" stroke="#000" stroke-width="0.22" text-anchor="start" font-weight="normal" textLength="33" lengthAdjust="spacingAndGlyphs" shape-rendering="geometricPrecision">1.25940</text>
<rect x="1684" y="412" width="2" height="1" fill="#000"/>
<text x="1689.4" y="416" font-size="9.6" fill="#000" stroke="#000" stroke-width="0.22" text-anchor="start" font-weight="normal" textLength="33" lengthAdjust="spacingAndGlyphs" shape-rendering="geometricPrecision">1.26890</text>
<rect x="1684" y="379" width="2" height="1" fill="#000"/>
<text x="1689.4" y="383" font-size="9.6" fill="#000" stroke="#000" stroke-width="0.22" text-anchor="start" font-weight="normal" textLength="33" lengthAdjust="spacingAndGlyphs" shape-rendering="geometricPrecision">1.27815</text>
<rect x="1684" y="346" width="2" height="1" fill="#000"/>
<text x="1689.4" y="350" font-size="9.6" fill="#000" stroke="#000" stroke-width="0.22" text-anchor="start" font-weight="normal" textLength="33" lengthAdjust="spacingAndGlyphs" shape-rendering="geometricPrecision">1.28765</text>
<rect x="1684" y="313" width="2" height="1" fill="#000"/>
<text x="1689.4" y="317" font-size="9.6" fill="#000" stroke="#000" stroke-width="0.22" text-anchor="start" font-weight="normal" textLength="33" lengthAdjust="spacingAndGlyphs" shape-rendering="geometricPrecision">1.29690</text>
<rect x="1684" y="280" width="2" height="1" fill="#000"/>
<text x="1689.4" y="284" font-size="9.6" fill="#000" stroke="#000" stroke-width="0.22" text-anchor="start" font-weight="normal" textLength="33" lengthAdjust="spacingAndGlyphs" shape-rendering="geometricPrecision">1.30640</text>
<rect x="1684" y="247" width="2" height="1" fill="#000"/>
<text x="1689.4" y="251" font-size="9.6" fill="#000" stroke="#000" stroke-width="0.22" text-anchor="start" font-weight="normal" textLength="33" lengthAdjust="spacingAndGlyphs" shape-rendering="geometricPrecision">1.31565</text>
<rect x="1684" y="214" width="2" height="1" fill="#000"/>
<text x="1689.4" y="218" font-size="9.6" fill="#000" stroke="#000" stroke-width="0.22" text-anchor="start" font-weight="normal" textLength="33" lengthAdjust="spacingAndGlyphs" shape-rendering="geometricPrecision">1.32490</text>
<rect x="1684" y="181" width="2" height="1" fill="#000"/>
<text x="1689.4" y="185" font-size="9.6" fill="#000" stroke="#000" stroke-width="0.22" text-anchor="start" font-weight="normal" textLength="33" lengthAdjust="spacingAndGlyphs" shape-rendering="geometricPrecision">1.33440</text>
<rect x="1684" y="148" width="2" height="1" fill="#000"/>
<text x="1689.4" y="152" font-size="9.6" fill="#000" stroke="#000" stroke-width="0.22" text-anchor="start" font-weight="normal" textLength="33" lengthAdjust="spacingAndGlyphs" shape-rendering="geometricPrecision">1.34365</text>
<rect x="1684" y="115" width="2" height="1" fill="#000"/>
<text x="1689.4" y="119" font-size="9.6" fill="#000" stroke="#000" stroke-width="0.22" text-anchor="start" font-weight="normal" textLength="33" lengthAdjust="spacingAndGlyphs" shape-rendering="geometricPrecision">1.35315</text>
<rect x="1684" y="82" width="2" height="1" fill="#000"/>
<text x="1689.4" y="86" font-size="9.6" fill="#000" stroke="#000" stroke-width="0.22" text-anchor="start" font-weight="normal" textLength="33" lengthAdjust="spacingAndGlyphs" shape-rendering="geometricPrecision">1.36240</text>
<rect x="1684" y="49" width="2" height="1" fill="#000"/>
<text x="1689.4" y="53" font-size="9.6" fill="#000" stroke="#000" stroke-width="0.22" text-anchor="start" font-weight="normal" textLength="33" lengthAdjust="spacingAndGlyphs" shape-rendering="geometricPrecision">1.37165</text>
<rect x="1685" y="82" width="41" height="11" fill="#000"/>
<rect x="1685" y="48" width="41" height="11" fill="#ff0000"/>
<text x="1689.4" y="57" font-size="9.6" fill="#fff" stroke="#fff" stroke-width="0.15" text-anchor="start" font-weight="normal" textLength="33" lengthAdjust="spacingAndGlyphs" shape-rendering="geometricPrecision">1.37024</text>
<rect x="1685" y="63" width="41" height="11" fill="#ff4500"/>
<text x="1689.4" y="72" font-size="9.6" fill="#fff" stroke="#fff" stroke-width="0.15" text-anchor="start" font-weight="normal" textLength="33" lengthAdjust="spacingAndGlyphs" shape-rendering="geometricPrecision">1.36600</text>
<rect x="1685" y="84" width="41" height="11" fill="#32cd32"/>
<text x="1689.4" y="93" font-size="9.6" fill="#fff" stroke="#fff" stroke-width="0.15" text-anchor="start" font-weight="normal" textLength="33" lengthAdjust="spacingAndGlyphs" shape-rendering="geometricPrecision">1.36006</text>
<rect x="1685" y="100" width="41" height="11" fill="#0000ff"/>
<text x="1689.4" y="109" font-size="9.6" fill="#fff" stroke="#fff" stroke-width="0.15" text-anchor="start" font-weight="normal" textLength="33" lengthAdjust="spacingAndGlyphs" shape-rendering="geometricPrecision">1.35553</text>
<rect x="1685" y="114" width="41" height="11" fill="#0000ff"/>
<text x="1689.4" y="123" font-size="9.6" fill="#fff" stroke="#fff" stroke-width="0.15" text-anchor="start" font-weight="normal" textLength="33" lengthAdjust="spacingAndGlyphs" shape-rendering="geometricPrecision">1.35157</text>
<rect x="1684" y="584" width="1" height="1" fill="#000"/>
<rect x="1684" y="686" width="2" height="1" fill="#000"/>
<rect x="1684" y="751" width="1" height="1" fill="#000"/>
<text x="1687" y="592.8" font-size="9.6" fill="#000" stroke="#000" stroke-width="0.22" text-anchor="start" font-weight="normal" textLength="28" lengthAdjust="spacingAndGlyphs" shape-rendering="geometricPrecision">0.0165</text>
<text x="1687.4" y="690" font-size="9.6" fill="#000" stroke="#000" stroke-width="0.22" text-anchor="start" font-weight="normal" textLength="18" lengthAdjust="spacingAndGlyphs" shape-rendering="geometricPrecision">0.00</text>
<text x="1687" y="749" font-size="9.6" fill="#000" stroke="#000" stroke-width="0.22" text-anchor="start" font-weight="normal" textLength="40" lengthAdjust="spacingAndGlyphs" shape-rendering="geometricPrecision">-0.010571</text>
<rect x="1684" y="756" width="1" height="1" fill="#000"/>
<rect x="1684" y="927" width="1" height="1" fill="#000"/>
<text x="1686.8" y="765" font-size="9.6" fill="#000" stroke="#000" stroke-width="0.22" text-anchor="start" font-weight="normal" textLength="15.2" lengthAdjust="spacingAndGlyphs" shape-rendering="geometricPrecision">100</text>
<text x="1686.8" y="794" font-size="9.6" fill="#000" stroke="#000" stroke-width="0.22" text-anchor="start" font-weight="normal" textLength="9.8" lengthAdjust="spacingAndGlyphs" shape-rendering="geometricPrecision">80</text>
<text x="1686.8" y="845" font-size="9.6" fill="#000" stroke="#000" stroke-width="0.22" text-anchor="start" font-weight="normal" textLength="9.8" lengthAdjust="spacingAndGlyphs" shape-rendering="geometricPrecision">50</text>
<text x="1686.8" y="906" font-size="9.6" fill="#000" stroke="#000" stroke-width="0.22" text-anchor="start" font-weight="normal" textLength="9.8" lengthAdjust="spacingAndGlyphs" shape-rendering="geometricPrecision">15</text>
<text x="1686.8" y="925" font-size="9.6" fill="#000" stroke="#000" stroke-width="0.22" text-anchor="start" font-weight="normal" textLength="4.8" lengthAdjust="spacingAndGlyphs" shape-rendering="geometricPrecision">0</text>
<text x="8" y="39.3" font-size="9.6" fill="#000" stroke="#000" stroke-width="0.22" text-anchor="start" font-weight="normal" textLength="67.3" lengthAdjust="spacingAndGlyphs" shape-rendering="geometricPrecision">GBPUSD-,Daily</text>
<text x="81" y="39.3" font-size="9.6" fill="#000" stroke="#000" stroke-width="0.22" text-anchor="start" font-weight="normal" textLength="141" lengthAdjust="spacingAndGlyphs" shape-rendering="geometricPrecision">1.36254 1.36698 1.35377 1.36110</text>
<polygon points="0,34 0,38 4,38" fill="#000" shape-rendering="geometricPrecision"/>
<text x="-1.5" y="595" font-size="9.6" fill="#000" stroke="#000" stroke-width="0.22" text-anchor="start" font-weight="normal" textLength="146.5" lengthAdjust="spacingAndGlyphs" shape-rendering="geometricPrecision">MACD(12,26,9) 0.007511 0.006922</text>
<text x="-2.5" y="767" font-size="9.6" fill="#000" stroke="#000" stroke-width="0.22" text-anchor="start" font-weight="normal" textLength="67.5" lengthAdjust="spacingAndGlyphs" shape-rendering="geometricPrecision">RSI(14) 58.3544</text>
<rect x="-7" y="928" width="1" height="4" fill="#000"/>
<text x="-8" y="941" font-size="9.6" fill="#000" stroke="#000" stroke-width="0.22" text-anchor="start" font-weight="normal" textLength="45.8" lengthAdjust="spacingAndGlyphs" shape-rendering="geometricPrecision">1 Jun 2020</text>
<rect x="57" y="928" width="1" height="4" fill="#000"/>
<text x="56" y="941" font-size="9.6" fill="#000" stroke="#000" stroke-width="0.22" text-anchor="start" font-weight="normal" textLength="50.8" lengthAdjust="spacingAndGlyphs" shape-rendering="geometricPrecision">10 Jun 2020</text>
<rect x="121" y="928" width="1" height="4" fill="#000"/>
<text x="120" y="941" font-size="9.6" fill="#000" stroke="#000" stroke-width="0.22" text-anchor="start" font-weight="normal" textLength="49.8" lengthAdjust="spacingAndGlyphs" shape-rendering="geometricPrecision">19 Jun 2020</text>
<rect x="185" y="928" width="1" height="4" fill="#000"/>
<text x="184" y="941" font-size="9.6" fill="#000" stroke="#000" stroke-width="0.22" text-anchor="start" font-weight="normal" textLength="49.8" lengthAdjust="spacingAndGlyphs" shape-rendering="geometricPrecision">29 Jun 2020</text>
<rect x="249" y="928" width="1" height="4" fill="#000"/>
<text x="248" y="941" font-size="9.6" fill="#000" stroke="#000" stroke-width="0.22" text-anchor="start" font-weight="normal" textLength="42.0" lengthAdjust="spacingAndGlyphs" shape-rendering="geometricPrecision">8 Jul 2020</text>
<rect x="313" y="928" width="1" height="4" fill="#000"/>
<text x="312" y="941" font-size="9.6" fill="#000" stroke="#000" stroke-width="0.22" text-anchor="start" font-weight="normal" textLength="47.0" lengthAdjust="spacingAndGlyphs" shape-rendering="geometricPrecision">17 Jul 2020</text>
<rect x="377" y="928" width="1" height="4" fill="#000"/>
<text x="376" y="941" font-size="9.6" fill="#000" stroke="#000" stroke-width="0.22" text-anchor="start" font-weight="normal" textLength="47.099999999999994" lengthAdjust="spacingAndGlyphs" shape-rendering="geometricPrecision">27 Jul 2020</text>
<rect x="441" y="928" width="1" height="4" fill="#000"/>
<text x="440" y="941" font-size="9.6" fill="#000" stroke="#000" stroke-width="0.22" text-anchor="start" font-weight="normal" textLength="48.699999999999996" lengthAdjust="spacingAndGlyphs" shape-rendering="geometricPrecision">5 Aug 2020</text>
<rect x="505" y="928" width="1" height="4" fill="#000"/>
<text x="504" y="941" font-size="9.6" fill="#000" stroke="#000" stroke-width="0.22" text-anchor="start" font-weight="normal" textLength="53.199999999999996" lengthAdjust="spacingAndGlyphs" shape-rendering="geometricPrecision">14 Aug 2020</text>
<rect x="569" y="928" width="1" height="4" fill="#000"/>
<text x="568" y="941" font-size="9.6" fill="#000" stroke="#000" stroke-width="0.22" text-anchor="start" font-weight="normal" textLength="53.199999999999996" lengthAdjust="spacingAndGlyphs" shape-rendering="geometricPrecision">24 Aug 2020</text>
<rect x="633" y="928" width="1" height="4" fill="#000"/>
<text x="632" y="941" font-size="9.6" fill="#000" stroke="#000" stroke-width="0.22" text-anchor="start" font-weight="normal" textLength="47.099999999999994" lengthAdjust="spacingAndGlyphs" shape-rendering="geometricPrecision">2 Sep 2020</text>
<rect x="697" y="928" width="1" height="4" fill="#000"/>
<text x="696" y="941" font-size="9.6" fill="#000" stroke="#000" stroke-width="0.22" text-anchor="start" font-weight="normal" textLength="51.8" lengthAdjust="spacingAndGlyphs" shape-rendering="geometricPrecision">11 Sep 2020</text>
<rect x="761" y="928" width="1" height="4" fill="#000"/>
<text x="760" y="941" font-size="9.6" fill="#000" stroke="#000" stroke-width="0.22" text-anchor="start" font-weight="normal" textLength="52.199999999999996" lengthAdjust="spacingAndGlyphs" shape-rendering="geometricPrecision">21 Sep 2020</text>
<rect x="825" y="928" width="1" height="4" fill="#000"/>
<text x="824" y="941" font-size="9.6" fill="#000" stroke="#000" stroke-width="0.22" text-anchor="start" font-weight="normal" textLength="52.4" lengthAdjust="spacingAndGlyphs" shape-rendering="geometricPrecision">30 Sep 2020</text>
<rect x="889" y="928" width="1" height="4" fill="#000"/>
<text x="888" y="941" font-size="9.6" fill="#000" stroke="#000" stroke-width="0.22" text-anchor="start" font-weight="normal" textLength="46.699999999999996" lengthAdjust="spacingAndGlyphs" shape-rendering="geometricPrecision">9 Oct 2020</text>
<rect x="953" y="928" width="1" height="4" fill="#000"/>
<text x="952" y="941" font-size="9.6" fill="#000" stroke="#000" stroke-width="0.22" text-anchor="start" font-weight="normal" textLength="51.4" lengthAdjust="spacingAndGlyphs" shape-rendering="geometricPrecision">19 Oct 2020</text>
<rect x="1017" y="928" width="1" height="4" fill="#000"/>
<text x="1016" y="941" font-size="9.6" fill="#000" stroke="#000" stroke-width="0.22" text-anchor="start" font-weight="normal" textLength="51.4" lengthAdjust="spacingAndGlyphs" shape-rendering="geometricPrecision">28 Oct 2020</text>
<rect x="1081" y="928" width="1" height="4" fill="#000"/>
<text x="1080" y="941" font-size="9.6" fill="#000" stroke="#000" stroke-width="0.22" text-anchor="start" font-weight="normal" textLength="49.8" lengthAdjust="spacingAndGlyphs" shape-rendering="geometricPrecision">6 Nov 2020</text>
<rect x="1145" y="928" width="1" height="4" fill="#000"/>
<text x="1144" y="941" font-size="9.6" fill="#000" stroke="#000" stroke-width="0.22" text-anchor="start" font-weight="normal" textLength="53.8" lengthAdjust="spacingAndGlyphs" shape-rendering="geometricPrecision">16 Nov 2020</text>
<rect x="1209" y="928" width="1" height="4" fill="#000"/>
<text x="1208" y="941" font-size="9.6" fill="#000" stroke="#000" stroke-width="0.22" text-anchor="start" font-weight="normal" textLength="53.8" lengthAdjust="spacingAndGlyphs" shape-rendering="geometricPrecision">25 Nov 2020</text>
<rect x="1273" y="928" width="1" height="4" fill="#000"/>
<text x="1272" y="941" font-size="9.6" fill="#000" stroke="#000" stroke-width="0.22" text-anchor="start" font-weight="normal" textLength="47.099999999999994" lengthAdjust="spacingAndGlyphs" shape-rendering="geometricPrecision">4 Dec 2020</text>
<rect x="1337" y="928" width="1" height="4" fill="#000"/>
<text x="1336" y="941" font-size="9.6" fill="#000" stroke="#000" stroke-width="0.22" text-anchor="start" font-weight="normal" textLength="52.099999999999994" lengthAdjust="spacingAndGlyphs" shape-rendering="geometricPrecision">14 Dec 2020</text>
<rect x="1401" y="928" width="1" height="4" fill="#000"/>
<text x="1400" y="941" font-size="9.6" fill="#000" stroke="#000" stroke-width="0.22" text-anchor="start" font-weight="normal" textLength="52.099999999999994" lengthAdjust="spacingAndGlyphs" shape-rendering="geometricPrecision">23 Dec 2020</text>
<rect x="1465" y="928" width="1" height="4" fill="#000"/>
<text x="1464" y="941" font-size="9.6" fill="#000" stroke="#000" stroke-width="0.22" text-anchor="start" font-weight="normal" textLength="45.099999999999994" lengthAdjust="spacingAndGlyphs" shape-rendering="geometricPrecision">4 Jan 2021</text>
</svg>
<svg width="1730" height="27" viewBox="0 0 1730 27" style="position:absolute;left:0;top:0" font-family='"Liberation Sans","Noto Sans CJK SC",sans-serif'>
<defs>
<pattern id="hatch" width="2" height="2" patternUnits="userSpaceOnUse"><rect width="2" height="2" fill="#f0f0f0"/><rect width="1" height="1" fill="#fff"/><rect x="1" y="1" width="1" height="1" fill="#fff"/></pattern>
<linearGradient id="gold" x1="0" y1="0" x2="0.6" y2="1"><stop offset="0" stop-color="#f2c838"/><stop offset="0.45" stop-color="#f8de6a"/><stop offset="1" stop-color="#c08a0a"/></linearGradient>
<linearGradient id="plus" x1="0" y1="0" x2="0" y2="1"><stop offset="0" stop-color="#4cf05c"/><stop offset="0.5" stop-color="#10e030"/><stop offset="1" stop-color="#08b018"/></linearGradient>
<linearGradient id="cloud" x1="0" y1="0" x2="0" y2="1"><stop offset="0" stop-color="#ffffff"/><stop offset="1" stop-color="#c8d4ea"/></linearGradient><linearGradient id="sigg" x1="0" y1="0" x2="1" y2="1"><stop offset="0" stop-color="#e6efe6"/><stop offset="1" stop-color="#7fbf8a"/></linearGradient><linearGradient id="face" x1="0" y1="0" x2="1" y2="1"><stop offset="0" stop-color="#fff27a"/><stop offset="1" stop-color="#f0b010"/></linearGradient><radialGradient id="badge" cx="0.5" cy="0.3" r="0.7"><stop offset="0" stop-color="#f06040"/><stop offset="1" stop-color="#d81808"/></radialGradient>
<g id="axes" stroke="#505050" stroke-width="1" fill="none" shape-rendering="crispEdges"><path d="M2.5 3V17M0 14.5H14"/><path d="M1 4.5h3M12.5 13v3" stroke-width="1"/></g>
<g id="dd" fill="#000"><path d="M0 0h5l-2.5 3z"/></g>
<g id="grip" shape-rendering="crispEdges" fill="#a8a8a8"><rect x="0" y="1" width="3" height="1"/><rect x="0" y="3" width="3" height="1"/><rect x="0" y="5" width="3" height="1"/><rect x="0" y="7" width="3" height="1"/><rect x="0" y="9" width="3" height="1"/><rect x="0" y="11" width="3" height="1"/><rect x="0" y="13" width="3" height="1"/><rect x="0" y="15" width="3" height="1"/><rect x="0" y="17" width="3" height="1"/><rect x="0" y="19" width="3" height="1"/></g>
</defs>
<rect width="1730" height="22" fill="#f0f0f0"/>
<rect y="22" width="1730" height="1" fill="#f4f4f4"/>
<rect y="23" width="1730" height="1" fill="#a0a0a0"/>
<rect y="24" width="1730" height="1" fill="#696969"/>
<rect y="25" width="1730" height="2" fill="#fff"/>
<!-- pressed backgrounds -->
<g shape-rendering="crispEdges">
<rect x="319" y="0" width="24" height="21" fill="url(#hatch)"/>
<rect x="470" y="0" width="25" height="21" fill="url(#hatch)"/>
<rect x="499" y="0" width="25" height="21" fill="url(#hatch)"/>
<rect x="659" y="0" width="24" height="21" fill="url(#hatch)"/>
<rect x="1133" y="0" width="24" height="21" fill="url(#hatch)"/>
<!-- separators -->
<g fill="#a0a0a0">
<rect x="44" y="0" width="1" height="21"/><rect x="280" y="0" width="1" height="22"/><rect x="318" y="0" width="1" height="21"/><rect x="375" y="0" width="1" height="21"/>
<rect x="465" y="0" width="1" height="21"/><rect x="469" y="0" width="1" height="21"/><rect x="498" y="0" width="1" height="21"/><rect x="527" y="0" width="1" height="21"/><rect x="648" y="0" width="1" height="22"/>
<rect x="658" y="0" width="1" height="21"/><rect x="715" y="0" width="1" height="21"/><rect x="954" y="0" width="1" height="22"/><rect x="1132" y="0" width="1" height="21"/><rect x="1215" y="0" width="1" height="21"/>
</g>
<g fill="#fff"><rect x="281" y="0" width="1" height="22"/><rect x="649" y="0" width="1" height="22"/><rect x="955" y="0" width="1" height="22"/></g>
</g>
<use href="#grip" x="284" y="0"/><use href="#grip" x="652" y="0"/><use href="#grip" x="957" y="0"/>

<!-- icon 1: profiles doc (cut) -->
<rect x="-3.500" y="4.600" width="9.700" height="12.800" rx="1.200" fill="#fff" stroke="#3a78c8" stroke-width="1.300"/><path d="M-2 7H5M-2 9.500H5M-2 12H5" stroke="#c8d8f6" stroke-width="1"/>
<!-- icon 2: chart magnifier -->
<rect x="19.800" y="3.700" width="11.700" height="12.600" rx="1" fill="#fbfbfb" stroke="#b9ad98" stroke-width="0.900"/><path d="M22.500 5.500v5M29 5.500v4M21.500 8.500h2M28 6.500l1.500 1" stroke="#808080" stroke-width="1" fill="none"/>
<circle cx="27.500" cy="12.300" r="5" fill="#e4f0fc" fill-opacity="0.880" stroke="#6a9ae0" stroke-width="1.100"/><path d="M26.500 9.500v5.500M28.200 9.800v4.500" stroke="#9fb2c8" stroke-width="1.200"/><path d="M31.600 16.200L35.600 19.500" stroke="#c8961c" stroke-width="2.600" stroke-linecap="round"/>
<!-- icon: new order -->
<path d="M55.500 3.800h7l3.200 3.200V15.500a1 1 0 0 1-1 1h-9.200a1 1 0 0 1-1-1V4.800a1 1 0 0 1 1-1z" fill="#fdfdfd" stroke="#646464" stroke-width="1"/><path d="M62.500 3.800v3.200h3.200" fill="none" stroke="#646464" stroke-width="0.900"/><path d="M56.300 6h2.800" stroke="#8a8a8a" stroke-width="1.500"/><path d="M56.300 9.400h5.500M56.300 11.600h4.500M56.300 13.700h2.500" stroke="#8a8a8a" stroke-width="0.900"/>
<path d="M62 9.600h3.600v3.800h3.800v3.600h-3.800v3.800h-3.600v-3.800h-3.800v-3.600h3.800z" fill="url(#plus)" stroke="#087808" stroke-width="0.9"/>
<text x="73" y="15.300" font-size="12" fill="#000">新订单</text>
<!-- gold book -->
<path d="M126.500 4L137 11.300 129.300 19 121 13z" fill="url(#gold)" stroke="#a06c08" stroke-width="0.900" stroke-linejoin="round"/><path d="M121.300 13.600l8 5.600 7.600-7.600" fill="none" stroke="#8a5a00" stroke-width="1.500"/><path d="M122.600 14.800l6.800 4.400" stroke="#fff6d0" stroke-width="0.700"/><path d="M126.300 5.500l-3.600 7" stroke="#fff3a8" stroke-width="1.400" stroke-opacity="0.800"/>
<!-- cloud server -->
<path d="M151.500 4.500l3-1.200h8v9.500h-11z" fill="#1e8cf0" stroke="#1466c8" stroke-width="0.800"/><path d="M151.500 4.500l3-1.200v9.500h-3z" fill="#4fc0ff"/><path d="M156.500 6.800h4.500M156.500 9h4.500" stroke="#d8efff" stroke-width="1.100"/>
<path d="M152 18.600a3.100 3.100 0 0 1 0.300-6.200 3.800 3.800 0 0 1 7.100-0.900 3.100 3.100 0 0 1 4.700 3.400 1.900 1.900 0 0 1-0.600 3.700z" fill="url(#cloud)" stroke="#5f7fb8" stroke-width="1"/>
<!-- signals -->
<path d="M185 11.100V3.200a7.900 7.900 0 0 1 0 15.800z" fill="url(#sigg)"/>
<path d="M185 3.200a7.900 7.900 0 0 0 0 15.800M185 5.800a5.300 5.300 0 0 0 0 10.600M185 8.300a2.800 2.800 0 0 0 0 5.600" fill="none" stroke="#4f78e0" stroke-width="1.100"/>
<path d="M185 3.200a7.900 7.900 0 0 1 0 15.800M185 5.800a5.300 5.300 0 0 1 0 10.600" fill="none" stroke="#a8c8b0" stroke-width="0.900"/>
<circle cx="185" cy="11.100" r="1.700" fill="#2858d0"/><path d="M185.300 11.500V19" stroke="#1aa81a" stroke-width="1.500"/>
<!-- auto trading -->
<path d="M205 10l7.200 9.300 8-9.300z" fill="url(#face)" stroke="#d8a010" stroke-width="0.700"/><ellipse cx="212" cy="7.800" rx="8" ry="2.700" fill="#4aa0e0" stroke="#2f78c0" stroke-width="0.700"/><path d="M207.800 7.600a4.200 4.400 0 0 1 8.400 0z" fill="#6fbcf0" stroke="#2f78c0" stroke-width="0.700"/>
<circle cx="216.400" cy="14.900" r="4" fill="#d8200c" stroke="#a81408" stroke-width="0.500"/><rect x="215" y="13.500" width="2.800" height="2.800" fill="#fff"/>
<text x="225" y="15.300" font-size="12" fill="#000">自动交易</text>

<!-- bar chart icon -->
<use href="#axes" x="296" y="2"/><g fill="#0a8a0a" shape-rendering="crispEdges"><rect x="304" y="6" width="1" height="9"/><rect x="305" y="7" width="2" height="1"/><rect x="302" y="13" width="2" height="1"/></g>
<!-- candle icon -->
<use href="#axes" x="324" y="2"/><path d="M332.500 3V15" stroke="#1c9a1c" stroke-width="1" shape-rendering="crispEdges"/><rect x="330.500" y="5.500" width="4" height="7" fill="#2fd02f" stroke="#1c9a1c" shape-rendering="crispEdges"/>
<!-- line chart icon -->
<use href="#axes" x="352" y="2"/><path d="M353.500 13.500c2-3 4-5.500 6-5.500s3.500 2.500 6 4" fill="none" stroke="#2a9a2a" stroke-width="1.200"/>
<!-- zoom in/out -->
<path d="M394.200 13.200L399.300 18.300" stroke="#d4a82a" stroke-width="2.600" stroke-linecap="round"/><circle cx="390" cy="9" r="5.300" fill="#d6e8fb" stroke="#3f7fd8" stroke-width="1.200"/><path d="M387 9h6M390 6v6" stroke="#2f7fc8" stroke-width="1.600"/>
<path d="M422.200 13.200L427.300 18.300" stroke="#d4a82a" stroke-width="2.600" stroke-linecap="round"/><circle cx="418" cy="9" r="5.300" fill="#d6e8fb" stroke="#3f7fd8" stroke-width="1.200"/><path d="M415 9h6" stroke="#2f7fc8" stroke-width="1.600"/>
<!-- tile -->
<g shape-rendering="crispEdges"><rect x="440" y="3" width="8" height="8" fill="#3f9a1f"/><rect x="448" y="3" width="8" height="8" fill="#2858c8"/><rect x="440" y="11" width="8" height="8" fill="#2858c8"/><rect x="448" y="11" width="8" height="8" fill="#3f9a1f"/>
<rect x="441" y="6" width="6" height="4" fill="#fff"/><rect x="449" y="6" width="6" height="4" fill="#fff"/><rect x="441" y="14" width="6" height="4" fill="#fff"/><rect x="449" y="14" width="6" height="4" fill="#fff"/>
<rect x="442" y="7" width="4" height="1" fill="#9fd08f"/><rect x="450" y="8" width="4" height="1" fill="#8fa8e8"/><rect x="442" y="16" width="4" height="1" fill="#8fa8e8"/><rect x="450" y="15" width="4" height="1" fill="#9fd08f"/></g>
<!-- autoscroll -->
<use href="#axes" x="476" y="2"/><path d="M483.500 7.500l4 3-4 3z" fill="#7fe07f" stroke="#1c9a1c" stroke-width="1"/>
<!-- chart shift -->
<use href="#axes" x="504" y="2"/><path d="M512.500 5V14" stroke="#1c6fb8" stroke-width="1.200" shape-rendering="crispEdges"/><path d="M518.500 10.500h-4M516 8l-2.500 2.500 2.500 2.500" stroke="#d8441c" stroke-width="1.200" fill="none"/>
<!-- new chart -->
<path d="M537.500 3.500h6l3 3V15.500h-9z" fill="#fdfdfd" stroke="#7a7a7a"/><path d="M540.500 6.500v6M539.500 8.500h1M540.500 10.500h1" stroke="#7a7a7a" shape-rendering="crispEdges"/>
<path d="M545.5 9.5h3.6v4h4v3.600h-4v4h-3.600v-4h-4v-3.600h4z" transform="translate(-0.3,-0.3)" fill="url(#plus)" stroke="#0b7d0b" stroke-width="0.8"/>
<use href="#dd" x="559" y="10"/>
<!-- clock -->
<circle cx="583" cy="11.200" r="6.700" fill="#fdfdfd" stroke="#1f6fd0" stroke-width="2.200"/><path d="M583 7V11.700h3.300" fill="none" stroke="#505050" stroke-width="1.100"/><circle cx="583" cy="11.200" r="7.600" fill="none" stroke="#0f4fa8" stroke-width="0.500"/><circle cx="583" cy="11.200" r="5.300" fill="none" stroke="#c9d3e0" stroke-width="0.800" stroke-dasharray="0.7,2.07"/>
<use href="#dd" x="598" y="10"/>
<!-- template -->
<rect x="614.500" y="4.500" width="15" height="13" fill="#fff" stroke="#3f78d0"/><rect x="615" y="5" width="14" height="2" fill="#5f98e8"/><path d="M616.500 10.500l3-1 3 0.500 3-1.500 3 0.500" fill="none" stroke="#c8281c" stroke-width="1.200"/><path d="M616.500 15l3-1.500 2.500 1 3-2 3 1.500" fill="none" stroke="#1c9a1c" stroke-width="1.200"/>
<use href="#dd" x="637" y="10"/>
<!-- cursor -->
<path d="M666.500 3.500v13l3-3 2.300 5 2-1-2.300-4.800h4.200z" fill="#3a3a3a"/>
<!-- crosshair -->
<path d="M698.500 4V19M691 11.500H706" stroke="#505050" stroke-width="1" shape-rendering="crispEdges"/>
<!-- vline, hline, trend -->
<path d="M732.500 5V18M755 11.500H768" stroke="#505050" stroke-width="1" shape-rendering="crispEdges"/><path d="M783 18L795 6" stroke="#505050" stroke-width="1.100"/>
<!-- channel E -->
<path d="M808.500 14.500L822.500 4.500M810 17.500L823.500 8M812.500 8.500v9M816 5.500v10M819.500 3.500v9.500" stroke="#5a5a5a" stroke-width="1" fill="none"/><text x="820" y="20" font-size="6.500" font-weight="bold" fill="#404040">E</text>
<!-- fibo F -->
<path d="M838 4.500h13M838 7.500h13M838 11.500h13M838 15.500h9" stroke="#707070" stroke-width="1" stroke-dasharray="1,1" shape-rendering="crispEdges"/><text x="848" y="20.500" font-size="6.500" font-weight="bold" fill="#404040">F</text>
<!-- A -->
<text x="868.300" y="16.200" font-size="13" fill="#5c5c5c" stroke="#5c5c5c" stroke-width="0.300">A</text>
<!-- T box -->
<rect x="894.500" y="5.500" width="12" height="12" fill="none" stroke="#606060" stroke-dasharray="1,1" shape-rendering="crispEdges"/><text x="897" y="15.700" font-size="10.400" font-weight="bold" fill="#555">T</text>
<!-- arrows -->
<path d="M922 8.500l3.500-3.500 3.500 3.500h-2v1.500h-3v-1.500z" fill="#484848"/><path d="M930 14.500h2v-1.500h3v1.500h2l-3.500 3.500z" fill="#484848"/><path d="M924.500 12l2 2.300 3.500-4" stroke="#484848" stroke-width="1.300" fill="none"/>
<use href="#dd" x="943" y="10"/>
<!-- timeframes -->
<g font-size="9.800" fill="#4a4a4a">
<text x="969" y="15" textLength="14" lengthAdjust="spacingAndGlyphs">M1</text><text x="997" y="15" textLength="14" lengthAdjust="spacingAndGlyphs">M5</text><text x="1023" y="15" textLength="18.500" lengthAdjust="spacingAndGlyphs">M15</text><text x="1051" y="15" textLength="19" lengthAdjust="spacingAndGlyphs">M30</text>
<text x="1082" y="15" textLength="13" lengthAdjust="spacingAndGlyphs">H1</text><text x="1109" y="15" textLength="13" lengthAdjust="spacingAndGlyphs">H4</text><text x="1138" y="15" textLength="13" lengthAdjust="spacingAndGlyphs">D1</text><text x="1165" y="15" textLength="15" lengthAdjust="spacingAndGlyphs">W1</text><text x="1192" y="15" textLength="16" lengthAdjust="spacingAndGlyphs">MN</text>
</g>
<!-- search -->
<path d="M1682.800 11.300L1677.800 16" stroke="#2f5fd0" stroke-width="2.400" stroke-linecap="round" stroke-dasharray="1.200,0.600"/><circle cx="1685.400" cy="8.600" r="3.900" fill="#f4f7ff" stroke="#2f5fd0" stroke-width="1.300"/>
<!-- chat + badge -->
<path d="M1703 13a5.500 4.500 0 0 1 11 0 5.500 4.500 0 0 1-6 4.300l-2.300 2.200 0.300-2.800a5 4.500 0 0 1-3-3.700z" fill="#e6e8ee" stroke="#b0b0b0" stroke-width="0.900"/>
<circle cx="1716.700" cy="8.100" r="8.200" fill="url(#badge)"/><text x="1716.500" y="12.700" font-size="13" fill="#fff" text-anchor="middle">1</text>
</svg>

<svg width="220" height="70" viewBox="0 45 220 70" style="position:absolute;left:0;top:45px" font-family='"Liberation Sans",sans-serif'>
<defs>
<linearGradient id="pg" gradientUnits="userSpaceOnUse" x1="0" y1="47" x2="0" y2="111"><stop offset="0" stop-color="#fa5252"/><stop offset="0.36" stop-color="#e23434"/><stop offset="0.7" stop-color="#c61616"/><stop offset="1" stop-color="#ac0000"/></linearGradient>
<linearGradient id="pb" x1="0" y1="0" x2="0" y2="1"><stop offset="0" stop-color="#f6f6f6"/><stop offset="0.48" stop-color="#e6e6e6"/><stop offset="0.52" stop-color="#d2d2d2"/><stop offset="1" stop-color="#dedede"/></linearGradient>
</defs>
<rect x="0" y="46" width="217" height="66" fill="#fff"/>
<g shape-rendering="crispEdges">
<path d="M0 47H48V71H105V111H0Z" fill="url(#pg)"/>
<path d="M163 47H215V111H107V71H163Z" fill="url(#pg)"/>
<path d="M0 47.500H47.500V71.500H104.500V110.500H0" fill="none" stroke="#a80000" stroke-opacity="0.850"/>
<path d="M163.500 47.500H214.500V110.500H107.500V71.500H163.500Z" fill="none" stroke="#a80000" stroke-opacity="0.850"/>
<rect x="0" y="70" width="44" height="1" fill="#8e0000"/><rect x="0" y="71" width="44" height="1" fill="#f46a6a"/>
<rect x="167" y="70" width="44" height="1" fill="#8e0000"/><rect x="167" y="71" width="44" height="1" fill="#f46a6a"/>
<!-- spin box -->
<rect x="50.500" y="47.500" width="110" height="21" fill="#fff" stroke="#a4a4ac"/>
<rect x="52" y="49" width="18" height="18" fill="url(#pb)"/><rect x="71" y="48" width="1" height="20" fill="#b4b4bc"/>
<rect x="141" y="49" width="18" height="18" fill="url(#pb)"/><rect x="139" y="48" width="1" height="20" fill="#b4b4bc"/>
</g>
<path d="M58 55.500h6l-3 3z" fill="#4a5ab8"/><path d="M147 59h6l-3-3z" fill="#4a5ab8"/>
<text x="136" y="61.800" font-size="12.800" fill="#000" text-anchor="end">1.00</text>
<text x="8" y="63" font-size="12.800" fill="#fff" textLength="26" lengthAdjust="spacingAndGlyphs">SELL</text>
<text x="176.800" y="63" font-size="12.800" fill="#fff" textLength="23" lengthAdjust="spacingAndGlyphs">BUY</text>
<text x="16" y="102" font-size="11.500" font-weight="bold" fill="#fff" textLength="24" lengthAdjust="spacingAndGlyphs">1.36</text>
<text x="44" y="102" font-size="33.500" fill="#fff" textLength="34.500" lengthAdjust="spacingAndGlyphs">11</text>
<text x="83" y="86" font-size="11.500" font-weight="bold" fill="#fff">0</text>
<text x="126" y="102" font-size="11.500" font-weight="bold" fill="#fff" textLength="24" lengthAdjust="spacingAndGlyphs">1.36</text>
<text x="154.500" y="102" font-size="33.500" fill="#fff" textLength="35" lengthAdjust="spacingAndGlyphs">14</text>
<text x="194" y="86" font-size="11.500" font-weight="bold" fill="#fff">4</text>
</svg>

</body></html>
